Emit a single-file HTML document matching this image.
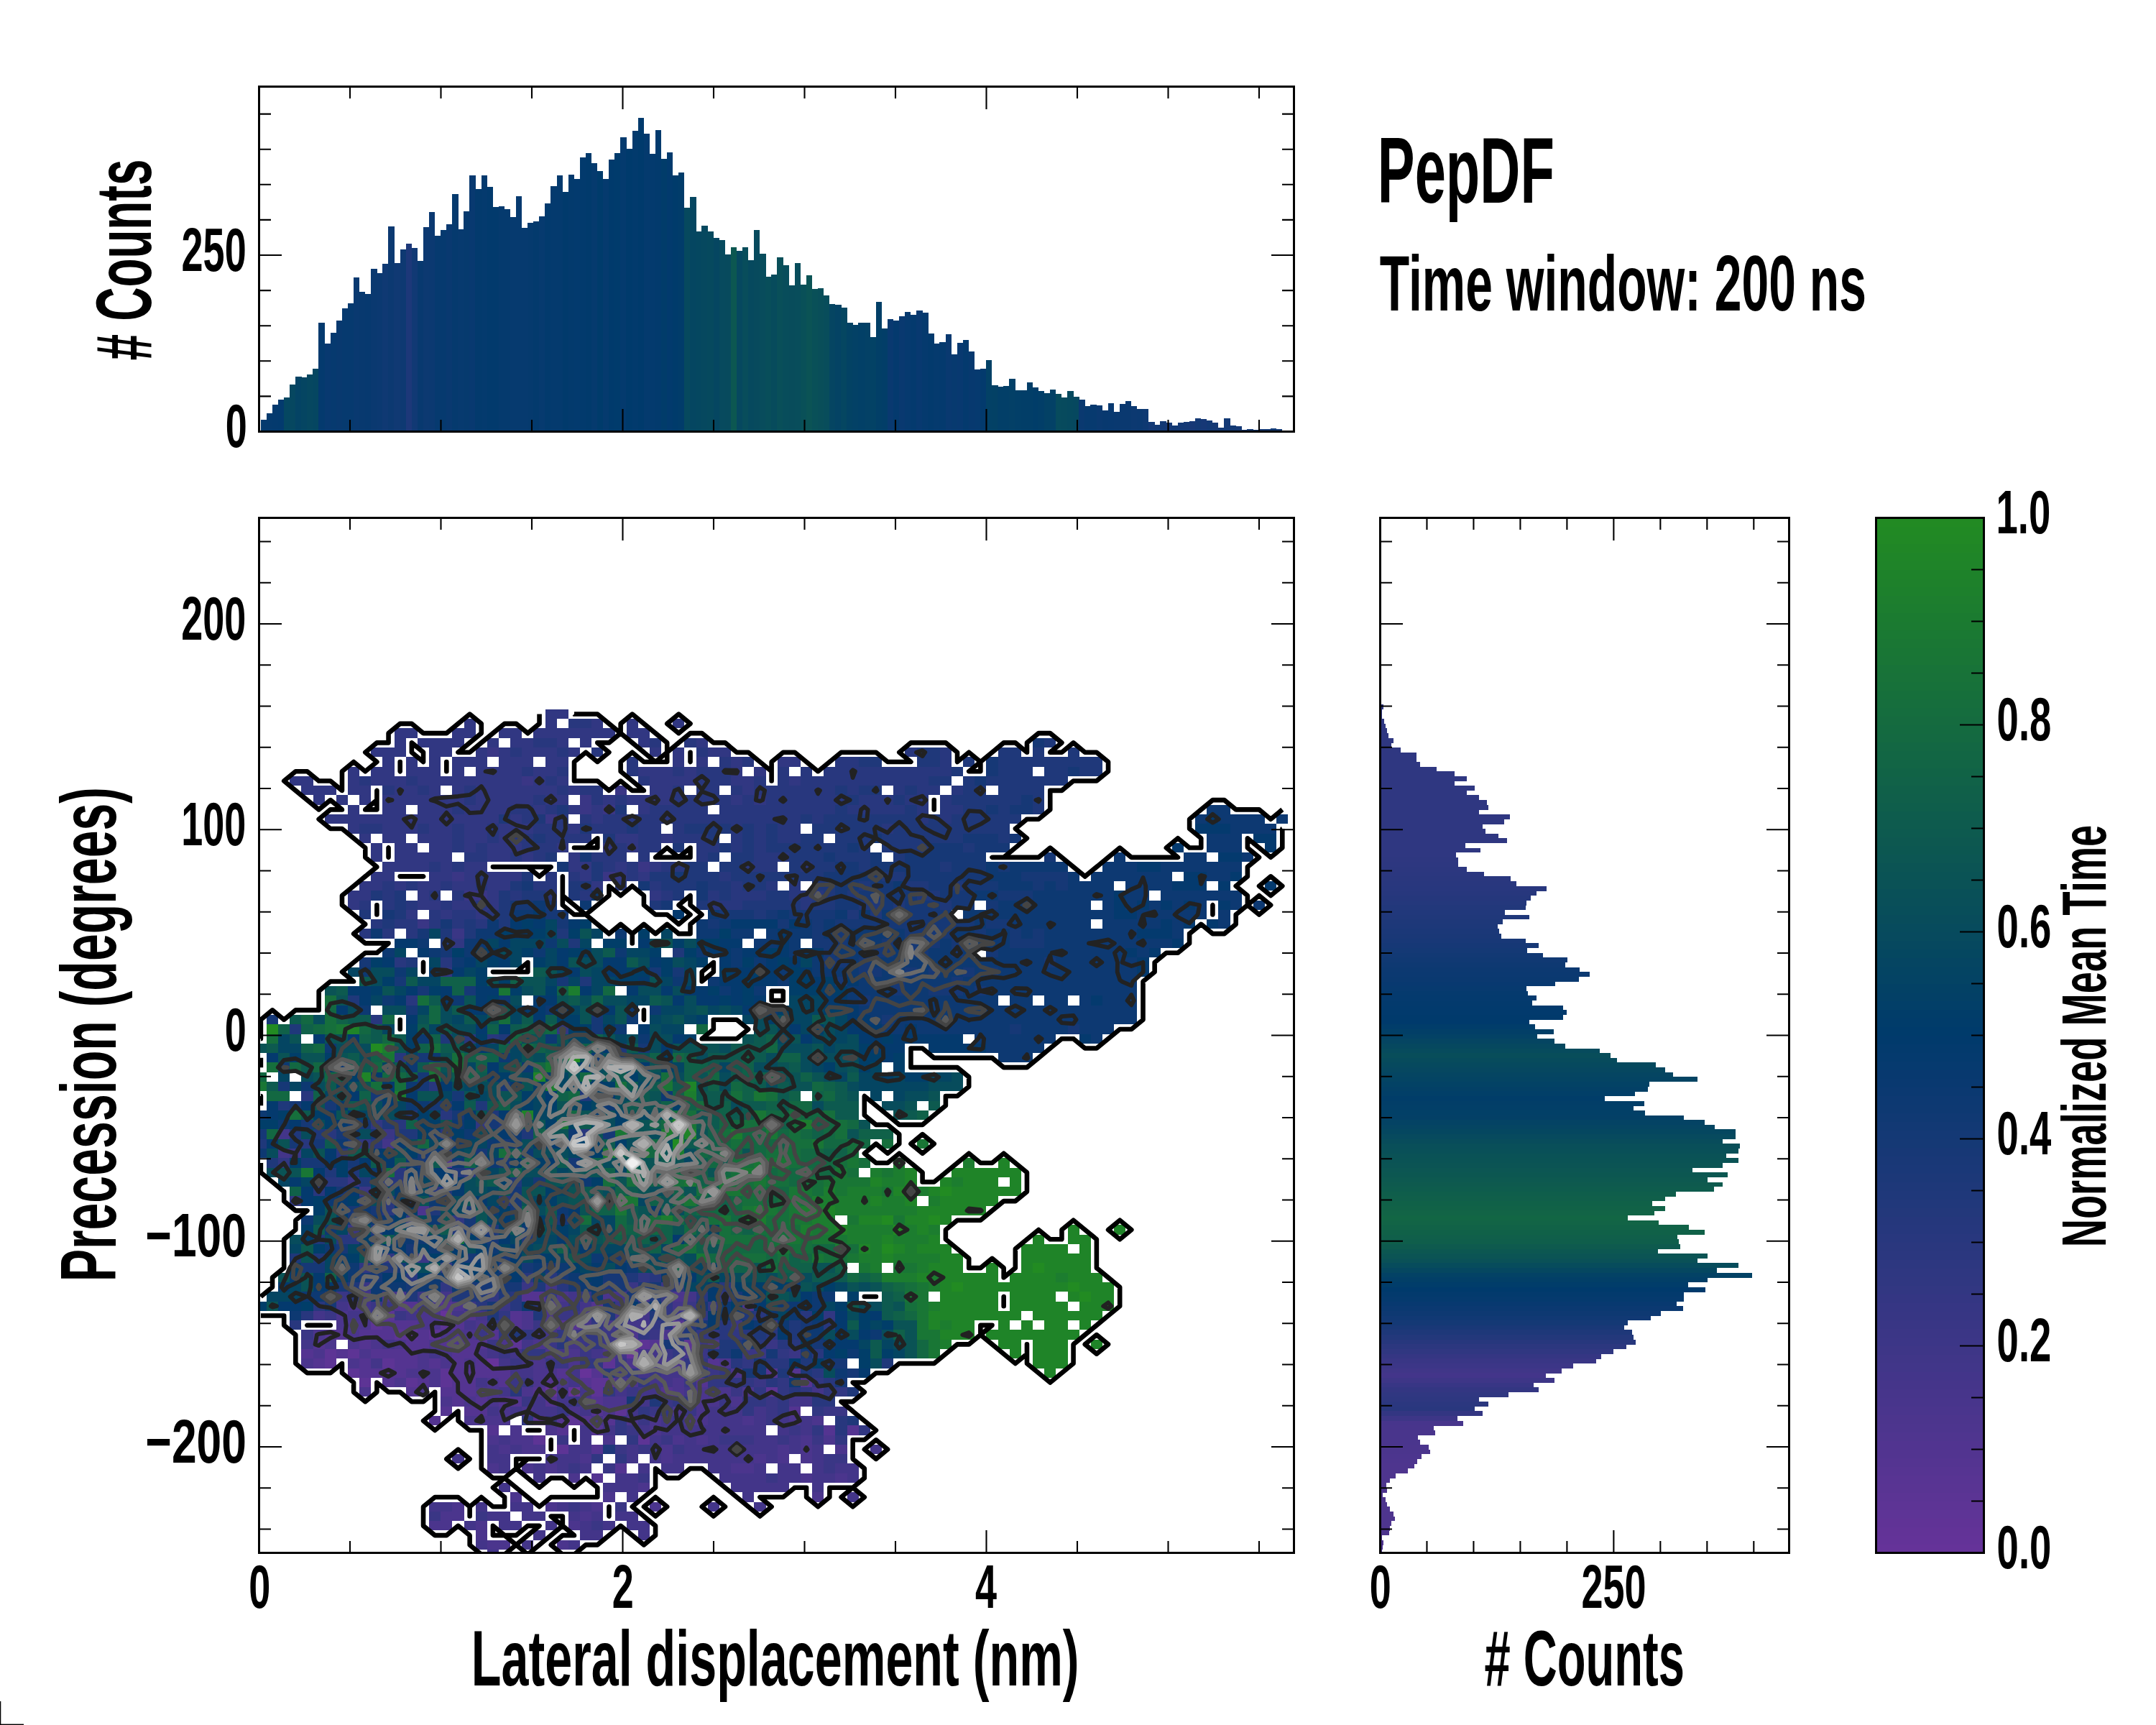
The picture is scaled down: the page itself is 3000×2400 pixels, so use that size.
<!DOCTYPE html><html><head><meta charset="utf-8"><title>PepDF</title><style>html,body{margin:0;padding:0;background:#fff;overflow:hidden}svg{display:block}</style></head><body>
<svg width="3000" height="2400" viewBox="0 0 3000 2400">
<rect width="3000" height="2400" fill="#fff"/>
<g shape-rendering="crispEdges">
<rect x="362.7" y="584.4" width="8.37" height="16.1" fill="#053a6e"/>
<rect x="370.77" y="575.06" width="8.37" height="25.44" fill="#053a6e"/>
<rect x="378.85" y="563.37" width="8.37" height="37.13" fill="#043a6e"/>
<rect x="386.93" y="556.36" width="8.37" height="44.14" fill="#033a6e"/>
<rect x="395" y="553.12" width="8.37" height="47.38" fill="#054761"/>
<rect x="403.07" y="535.15" width="8.37" height="65.35" fill="#064760"/>
<rect x="411.15" y="524.36" width="8.37" height="76.14" fill="#044364"/>
<rect x="419.22" y="525.08" width="8.37" height="75.42" fill="#054562"/>
<rect x="427.3" y="521.48" width="8.37" height="79.02" fill="#064760"/>
<rect x="435.38" y="513.39" width="8.37" height="87.11" fill="#054661"/>
<rect x="443.45" y="449.21" width="8.37" height="151.29" fill="#043a6e"/>
<rect x="451.52" y="478.34" width="8.37" height="122.16" fill="#083970"/>
<rect x="459.6" y="463.24" width="8.37" height="137.26" fill="#063a6f"/>
<rect x="467.67" y="446.16" width="8.37" height="154.34" fill="#08396f"/>
<rect x="475.75" y="429.08" width="8.37" height="171.42" fill="#063a6f"/>
<rect x="483.82" y="422.25" width="8.37" height="178.25" fill="#063a6f"/>
<rect x="491.9" y="386.29" width="8.37" height="214.21" fill="#093970"/>
<rect x="499.97" y="406.43" width="8.37" height="194.07" fill="#08396f"/>
<rect x="508.05" y="408.94" width="8.38" height="191.56" fill="#07396f"/>
<rect x="516.12" y="374.07" width="8.38" height="226.43" fill="#0a3970"/>
<rect x="524.2" y="380.36" width="8.38" height="220.14" fill="#0b3971"/>
<rect x="532.27" y="367.42" width="8.38" height="233.08" fill="#0f3973"/>
<rect x="540.35" y="315.46" width="8.38" height="285.04" fill="#0c3971"/>
<rect x="548.42" y="366.16" width="8.38" height="234.34" fill="#103973"/>
<rect x="556.5" y="347.28" width="8.38" height="253.22" fill="#0e3972"/>
<rect x="564.57" y="339.19" width="8.38" height="261.31" fill="#1d3879"/>
<rect x="572.65" y="345.3" width="8.38" height="255.2" fill="#113974"/>
<rect x="580.72" y="363.28" width="8.38" height="237.22" fill="#08396f"/>
<rect x="588.8" y="316.18" width="8.38" height="284.32" fill="#0c3971"/>
<rect x="596.88" y="294.97" width="8.38" height="305.53" fill="#0b3971"/>
<rect x="604.95" y="328.04" width="8.38" height="272.46" fill="#063a6f"/>
<rect x="613.02" y="319.96" width="8.38" height="280.54" fill="#063a6f"/>
<rect x="621.1" y="312.04" width="8.38" height="288.46" fill="#093970"/>
<rect x="629.17" y="269.98" width="8.38" height="330.52" fill="#053a6e"/>
<rect x="637.25" y="319.06" width="8.38" height="281.44" fill="#073a6f"/>
<rect x="645.33" y="293.89" width="8.38" height="306.61" fill="#063a6e"/>
<rect x="653.4" y="243.91" width="8.38" height="356.59" fill="#083970"/>
<rect x="661.47" y="263.15" width="8.38" height="337.35" fill="#033a6d"/>
<rect x="669.55" y="243.91" width="8.38" height="356.59" fill="#043a6e"/>
<rect x="677.62" y="260.09" width="8.38" height="340.41" fill="#023a6d"/>
<rect x="685.7" y="288.13" width="8.38" height="312.37" fill="#023a6d"/>
<rect x="693.77" y="287.06" width="8.38" height="313.44" fill="#053a6e"/>
<rect x="701.85" y="291.01" width="8.38" height="309.49" fill="#053a6e"/>
<rect x="709.92" y="301.98" width="8.38" height="298.52" fill="#063a6f"/>
<rect x="718" y="273.03" width="8.38" height="327.47" fill="#063a6f"/>
<rect x="726.07" y="317.08" width="8.38" height="283.42" fill="#063a6f"/>
<rect x="734.15" y="310.07" width="8.38" height="290.43" fill="#053a6e"/>
<rect x="742.22" y="308.09" width="8.38" height="292.41" fill="#033a6d"/>
<rect x="750.3" y="301.08" width="8.38" height="299.42" fill="#063a6f"/>
<rect x="758.38" y="283.1" width="8.38" height="317.4" fill="#023a6d"/>
<rect x="766.45" y="259.01" width="8.38" height="341.49" fill="#043a6e"/>
<rect x="774.52" y="243.91" width="8.38" height="356.59" fill="#043a6e"/>
<rect x="782.6" y="266.92" width="8.38" height="333.58" fill="#013a6c"/>
<rect x="790.67" y="243.01" width="8.38" height="357.49" fill="#033a6d"/>
<rect x="798.75" y="248.76" width="8.38" height="351.74" fill="#033a6e"/>
<rect x="806.82" y="218.92" width="8.38" height="381.58" fill="#023a6d"/>
<rect x="814.9" y="212.99" width="8.38" height="387.51" fill="#013a6c"/>
<rect x="822.97" y="227.01" width="8.38" height="373.49" fill="#053a6e"/>
<rect x="831.05" y="238.16" width="8.38" height="362.34" fill="#003b6b"/>
<rect x="839.12" y="248.94" width="8.38" height="351.56" fill="#053a6e"/>
<rect x="847.2" y="222.16" width="8.38" height="378.34" fill="#003a6c"/>
<rect x="855.27" y="213.17" width="8.38" height="387.33" fill="#003b6c"/>
<rect x="863.35" y="191.24" width="8.38" height="409.26" fill="#043a6e"/>
<rect x="871.42" y="207.06" width="8.38" height="393.44" fill="#003a6c"/>
<rect x="879.5" y="182.25" width="8.38" height="418.25" fill="#023a6d"/>
<rect x="887.58" y="163.91" width="8.38" height="436.59" fill="#003a6c"/>
<rect x="895.65" y="186.2" width="8.38" height="414.3" fill="#043a6e"/>
<rect x="903.72" y="213.89" width="8.38" height="386.61" fill="#033a6e"/>
<rect x="911.8" y="181.17" width="8.38" height="419.33" fill="#023a6d"/>
<rect x="919.88" y="221.08" width="8.38" height="379.42" fill="#013c6a"/>
<rect x="927.95" y="212.09" width="8.38" height="388.41" fill="#023a6d"/>
<rect x="936.02" y="243.91" width="8.38" height="356.59" fill="#003b6b"/>
<rect x="944.1" y="240.13" width="8.38" height="360.37" fill="#013c6a"/>
<rect x="952.17" y="289.03" width="8.38" height="311.47" fill="#06495e"/>
<rect x="960.25" y="274.11" width="8.38" height="326.39" fill="#054661"/>
<rect x="968.33" y="322.11" width="8.38" height="278.39" fill="#054760"/>
<rect x="976.4" y="314.02" width="8.38" height="286.48" fill="#06485f"/>
<rect x="984.47" y="322.11" width="8.38" height="278.39" fill="#06495e"/>
<rect x="992.55" y="331.1" width="8.38" height="269.4" fill="#054661"/>
<rect x="1000.62" y="334.16" width="8.38" height="266.34" fill="#074a5e"/>
<rect x="1008.7" y="354.11" width="8.38" height="246.39" fill="#074a5d"/>
<rect x="1016.77" y="344.22" width="8.38" height="256.28" fill="#0c5751"/>
<rect x="1024.85" y="349.08" width="8.38" height="251.42" fill="#06485f"/>
<rect x="1032.92" y="344.22" width="8.38" height="256.28" fill="#084d5b"/>
<rect x="1041" y="362.2" width="8.38" height="238.3" fill="#06495e"/>
<rect x="1049.07" y="320.13" width="8.38" height="280.37" fill="#074a5d"/>
<rect x="1057.15" y="353.21" width="8.38" height="247.29" fill="#084c5c"/>
<rect x="1065.22" y="385.21" width="8.38" height="215.29" fill="#084e5a"/>
<rect x="1073.3" y="382.16" width="8.38" height="218.34" fill="#074b5c"/>
<rect x="1081.38" y="358.07" width="8.38" height="242.43" fill="#094f59"/>
<rect x="1089.45" y="369.03" width="8.38" height="231.47" fill="#084d5b"/>
<rect x="1097.52" y="397.08" width="8.38" height="203.42" fill="#084c5b"/>
<rect x="1105.6" y="366.16" width="8.38" height="234.34" fill="#084d5b"/>
<rect x="1113.67" y="396.18" width="8.38" height="204.32" fill="#095058"/>
<rect x="1121.75" y="383.24" width="8.38" height="217.26" fill="#0b5355"/>
<rect x="1129.82" y="402.11" width="8.38" height="198.39" fill="#095058"/>
<rect x="1137.9" y="401.21" width="8.38" height="199.29" fill="#094e59"/>
<rect x="1145.97" y="411.28" width="8.38" height="189.22" fill="#084d5b"/>
<rect x="1154.05" y="423.15" width="8.38" height="177.35" fill="#054562"/>
<rect x="1162.12" y="424.04" width="8.38" height="176.46" fill="#044364"/>
<rect x="1170.2" y="428.18" width="8.38" height="172.32" fill="#054661"/>
<rect x="1178.27" y="449.03" width="8.38" height="151.47" fill="#034264"/>
<rect x="1186.35" y="452.09" width="8.38" height="148.41" fill="#034166"/>
<rect x="1194.42" y="449.03" width="8.38" height="151.47" fill="#024067"/>
<rect x="1202.5" y="449.03" width="8.38" height="151.47" fill="#034166"/>
<rect x="1210.57" y="468.99" width="8.38" height="131.51" fill="#034265"/>
<rect x="1218.65" y="420.09" width="8.38" height="180.41" fill="#023f67"/>
<rect x="1226.72" y="457.12" width="8.38" height="143.38" fill="#023e68"/>
<rect x="1234.8" y="444" width="8.38" height="156.5" fill="#093970"/>
<rect x="1242.88" y="445.98" width="8.38" height="154.52" fill="#043a6e"/>
<rect x="1250.95" y="440.04" width="8.38" height="160.46" fill="#093970"/>
<rect x="1259.02" y="434.11" width="8.38" height="166.39" fill="#063a6f"/>
<rect x="1267.1" y="438.07" width="8.38" height="162.43" fill="#043a6e"/>
<rect x="1275.17" y="432.13" width="8.38" height="168.37" fill="#083970"/>
<rect x="1283.25" y="435.01" width="8.38" height="165.49" fill="#053a6e"/>
<rect x="1291.32" y="463.96" width="8.38" height="136.54" fill="#033a6d"/>
<rect x="1299.4" y="478.16" width="8.38" height="122.34" fill="#053a6e"/>
<rect x="1307.47" y="476.18" width="8.38" height="124.32" fill="#043a6e"/>
<rect x="1315.55" y="465.03" width="8.38" height="135.47" fill="#093970"/>
<rect x="1323.62" y="493.26" width="8.38" height="107.24" fill="#073a6f"/>
<rect x="1331.7" y="477.08" width="8.38" height="123.42" fill="#083970"/>
<rect x="1339.77" y="473.12" width="8.38" height="127.38" fill="#043a6e"/>
<rect x="1347.85" y="489.12" width="8.38" height="111.38" fill="#07396f"/>
<rect x="1355.92" y="514.11" width="8.38" height="86.39" fill="#063a6f"/>
<rect x="1364" y="513.21" width="8.38" height="87.29" fill="#033a6d"/>
<rect x="1372.07" y="501.17" width="8.38" height="99.33" fill="#034166"/>
<rect x="1380.15" y="536.22" width="8.38" height="64.28" fill="#034165"/>
<rect x="1388.22" y="538.2" width="8.38" height="62.3" fill="#023f68"/>
<rect x="1396.3" y="537.12" width="8.38" height="63.38" fill="#023f68"/>
<rect x="1404.38" y="527.24" width="8.38" height="73.26" fill="#034067"/>
<rect x="1412.45" y="543.24" width="8.38" height="57.26" fill="#023f68"/>
<rect x="1420.52" y="543.24" width="8.38" height="57.26" fill="#023e68"/>
<rect x="1428.6" y="532.27" width="8.38" height="68.23" fill="#023e68"/>
<rect x="1436.67" y="539.1" width="8.38" height="61.4" fill="#013d69"/>
<rect x="1444.75" y="544.13" width="8.38" height="56.37" fill="#023e68"/>
<rect x="1452.83" y="547.19" width="8.38" height="53.31" fill="#034165"/>
<rect x="1460.9" y="542.16" width="8.38" height="58.34" fill="#034166"/>
<rect x="1468.97" y="548.27" width="8.38" height="52.23" fill="#074b5d"/>
<rect x="1477.05" y="553.3" width="8.38" height="47.2" fill="#074a5d"/>
<rect x="1485.12" y="544.13" width="8.38" height="56.37" fill="#06495e"/>
<rect x="1493.2" y="552.22" width="8.38" height="48.28" fill="#06485f"/>
<rect x="1501.27" y="556.18" width="8.38" height="44.32" fill="#0a3970"/>
<rect x="1509.35" y="565.17" width="8.38" height="35.33" fill="#073a6f"/>
<rect x="1517.42" y="563.19" width="8.38" height="37.31" fill="#073a6f"/>
<rect x="1525.5" y="564.27" width="8.38" height="36.23" fill="#0a3970"/>
<rect x="1533.58" y="571.17" width="8.38" height="29.33" fill="#08396f"/>
<rect x="1541.65" y="561.17" width="8.38" height="39.33" fill="#083970"/>
<rect x="1549.72" y="573.12" width="8.38" height="27.38" fill="#093970"/>
<rect x="1557.8" y="562.21" width="8.38" height="38.29" fill="#0a3970"/>
<rect x="1565.88" y="558.18" width="8.38" height="42.32" fill="#0a3970"/>
<rect x="1573.95" y="565.06" width="8.38" height="35.44" fill="#0c3971"/>
<rect x="1582.02" y="568.96" width="8.38" height="31.54" fill="#0b3971"/>
<rect x="1590.1" y="568.96" width="8.38" height="31.54" fill="#0e3972"/>
<rect x="1598.17" y="587.01" width="8.38" height="13.49" fill="#143975"/>
<rect x="1606.25" y="591.04" width="8.38" height="9.46" fill="#133974"/>
<rect x="1614.33" y="586.1" width="8.38" height="14.4" fill="#133974"/>
<rect x="1622.4" y="588.05" width="8.38" height="12.45" fill="#163976"/>
<rect x="1630.47" y="592.08" width="8.38" height="8.42" fill="#123974"/>
<rect x="1638.55" y="588.05" width="8.38" height="12.45" fill="#133975"/>
<rect x="1646.62" y="587.01" width="8.38" height="13.49" fill="#143975"/>
<rect x="1654.7" y="586.1" width="8.38" height="14.4" fill="#173876"/>
<rect x="1662.77" y="582.08" width="8.38" height="18.42" fill="#143975"/>
<rect x="1670.85" y="582.99" width="8.38" height="17.51" fill="#163876"/>
<rect x="1678.92" y="585.06" width="8.38" height="15.44" fill="#133975"/>
<rect x="1687" y="588.05" width="8.38" height="12.45" fill="#153975"/>
<rect x="1695.07" y="595.06" width="8.38" height="5.44" fill="#123974"/>
<rect x="1703.15" y="582.08" width="8.38" height="18.42" fill="#133975"/>
<rect x="1711.22" y="592.08" width="8.38" height="8.42" fill="#133974"/>
<rect x="1719.3" y="593.12" width="8.38" height="7.38" fill="#153975"/>
<rect x="1727.38" y="598.05" width="8.38" height="2.45" fill="#143975"/>
<rect x="1735.45" y="597.01" width="8.38" height="3.49" fill="#133974"/>
<rect x="1743.52" y="598.05" width="8.38" height="2.45" fill="#123974"/>
<rect x="1751.6" y="597.01" width="8.38" height="3.49" fill="#153975"/>
<rect x="1759.67" y="597.01" width="8.38" height="3.49" fill="#123974"/>
<rect x="1767.75" y="596.1" width="8.38" height="4.4" fill="#123974"/>
<rect x="1775.82" y="597.01" width="8.38" height="3.49" fill="#133974"/>
</g>
<g shape-rendering="crispEdges">
<rect x="1920.5" y="980.21" width="4.3" height="6.94" fill="#2f3781"/>
<rect x="1920.5" y="986.86" width="2.3" height="6.94" fill="#2f3781"/>
<rect x="1920.5" y="993.5" width="2.3" height="6.94" fill="#2f3781"/>
<rect x="1920.5" y="1000.14" width="5.2" height="6.94" fill="#2f3781"/>
<rect x="1920.5" y="1006.78" width="7.3" height="6.94" fill="#2f3781"/>
<rect x="1920.5" y="1013.43" width="9.3" height="6.94" fill="#2f3781"/>
<rect x="1920.5" y="1020.07" width="11.3" height="6.94" fill="#2f3781"/>
<rect x="1920.5" y="1026.71" width="18.4" height="6.94" fill="#2f3781"/>
<rect x="1920.5" y="1033.36" width="15.5" height="6.94" fill="#2f3781"/>
<rect x="1920.5" y="1040" width="28.5" height="6.94" fill="#2f3781"/>
<rect x="1920.5" y="1046.64" width="50.3" height="6.94" fill="#2f3781"/>
<rect x="1920.5" y="1053.29" width="50.3" height="6.94" fill="#2f3781"/>
<rect x="1920.5" y="1059.93" width="55.3" height="6.94" fill="#2f3781"/>
<rect x="1920.5" y="1066.57" width="78.3" height="6.94" fill="#2f3781"/>
<rect x="1920.5" y="1073.21" width="103.3" height="6.94" fill="#2f3781"/>
<rect x="1920.5" y="1079.86" width="120.3" height="6.94" fill="#2f3781"/>
<rect x="1920.5" y="1086.5" width="103.3" height="6.94" fill="#2f3781"/>
<rect x="1920.5" y="1093.14" width="131.4" height="6.94" fill="#2f3781"/>
<rect x="1920.5" y="1099.79" width="120.3" height="6.94" fill="#2f3781"/>
<rect x="1920.5" y="1106.43" width="137.4" height="6.94" fill="#2f3781"/>
<rect x="1920.5" y="1113.07" width="148.3" height="6.94" fill="#2f3781"/>
<rect x="1920.5" y="1119.72" width="150.5" height="6.94" fill="#2f3781"/>
<rect x="1920.5" y="1126.36" width="137.4" height="6.94" fill="#2f3781"/>
<rect x="1920.5" y="1133" width="180.4" height="6.94" fill="#2f3781"/>
<rect x="1920.5" y="1139.64" width="172.2" height="6.94" fill="#2f3781"/>
<rect x="1920.5" y="1146.29" width="142.5" height="6.94" fill="#2f3781"/>
<rect x="1920.5" y="1152.93" width="146.3" height="6.94" fill="#2f3781"/>
<rect x="1920.5" y="1159.57" width="164.3" height="6.94" fill="#2f3781"/>
<rect x="1920.5" y="1166.22" width="176.4" height="6.94" fill="#2f3781"/>
<rect x="1920.5" y="1172.86" width="118.5" height="6.94" fill="#2f3781"/>
<rect x="1920.5" y="1179.5" width="139.4" height="6.94" fill="#2f3781"/>
<rect x="1920.5" y="1186.15" width="105.4" height="6.94" fill="#2f3781"/>
<rect x="1920.5" y="1192.79" width="108.5" height="6.94" fill="#2e3780"/>
<rect x="1920.5" y="1199.43" width="108.5" height="6.94" fill="#2d3780"/>
<rect x="1920.5" y="1206.08" width="120.4" height="6.94" fill="#2c377f"/>
<rect x="1920.5" y="1212.72" width="144.5" height="6.94" fill="#2b377f"/>
<rect x="1920.5" y="1219.36" width="181.2" height="6.94" fill="#2a377e"/>
<rect x="1920.5" y="1226" width="189.2" height="6.94" fill="#29377e"/>
<rect x="1920.5" y="1232.65" width="231.3" height="6.94" fill="#28377e"/>
<rect x="1920.5" y="1239.29" width="217.3" height="6.94" fill="#27377d"/>
<rect x="1920.5" y="1245.93" width="209.2" height="6.94" fill="#25377c"/>
<rect x="1920.5" y="1252.58" width="203.3" height="6.94" fill="#24387c"/>
<rect x="1920.5" y="1259.22" width="202.5" height="6.94" fill="#22387b"/>
<rect x="1920.5" y="1265.86" width="173.4" height="6.94" fill="#21387b"/>
<rect x="1920.5" y="1272.51" width="207.2" height="6.94" fill="#20387a"/>
<rect x="1920.5" y="1279.15" width="170" height="6.94" fill="#1e3879"/>
<rect x="1920.5" y="1285.79" width="163.5" height="6.94" fill="#1d3879"/>
<rect x="1920.5" y="1292.43" width="165.1" height="6.94" fill="#1b3878"/>
<rect x="1920.5" y="1299.08" width="168.2" height="6.94" fill="#1a3877"/>
<rect x="1920.5" y="1305.72" width="202.5" height="6.94" fill="#183877"/>
<rect x="1920.5" y="1312.36" width="220.1" height="6.94" fill="#163876"/>
<rect x="1920.5" y="1319.01" width="204.3" height="6.94" fill="#143975"/>
<rect x="1920.5" y="1325.65" width="226.1" height="6.94" fill="#123974"/>
<rect x="1920.5" y="1332.29" width="260.4" height="6.94" fill="#103973"/>
<rect x="1920.5" y="1338.93" width="257.5" height="6.94" fill="#0e3972"/>
<rect x="1920.5" y="1345.58" width="277.3" height="6.94" fill="#0c3971"/>
<rect x="1920.5" y="1352.22" width="291.3" height="6.94" fill="#0b3971"/>
<rect x="1920.5" y="1358.86" width="276.3" height="6.94" fill="#0a3970"/>
<rect x="1920.5" y="1365.51" width="243.3" height="6.94" fill="#083970"/>
<rect x="1920.5" y="1372.15" width="203.3" height="6.94" fill="#073a6f"/>
<rect x="1920.5" y="1378.79" width="205.1" height="6.94" fill="#053a6e"/>
<rect x="1920.5" y="1385.44" width="217.3" height="6.94" fill="#043a6e"/>
<rect x="1920.5" y="1392.08" width="211.1" height="6.94" fill="#033a6d"/>
<rect x="1920.5" y="1398.72" width="254.4" height="6.94" fill="#023a6d"/>
<rect x="1920.5" y="1405.37" width="259.4" height="6.94" fill="#023a6d"/>
<rect x="1920.5" y="1412.01" width="254.4" height="6.94" fill="#013a6c"/>
<rect x="1920.5" y="1418.65" width="207.2" height="6.94" fill="#003a6c"/>
<rect x="1920.5" y="1425.29" width="215.2" height="6.94" fill="#013d6a"/>
<rect x="1920.5" y="1431.94" width="241.2" height="6.94" fill="#023f67"/>
<rect x="1920.5" y="1438.58" width="218.1" height="6.94" fill="#034265"/>
<rect x="1920.5" y="1445.22" width="242.2" height="6.94" fill="#054562"/>
<rect x="1920.5" y="1451.87" width="257.3" height="6.94" fill="#06485f"/>
<rect x="1920.5" y="1458.51" width="305.3" height="6.94" fill="#074b5d"/>
<rect x="1920.5" y="1465.15" width="320.4" height="6.94" fill="#084d5a"/>
<rect x="1920.5" y="1471.8" width="329.2" height="6.94" fill="#074b5c"/>
<rect x="1920.5" y="1478.44" width="383.3" height="6.94" fill="#06495e"/>
<rect x="1920.5" y="1485.08" width="396.3" height="6.94" fill="#064760"/>
<rect x="1920.5" y="1491.72" width="407.4" height="6.94" fill="#054562"/>
<rect x="1920.5" y="1498.37" width="441.5" height="6.94" fill="#044463"/>
<rect x="1920.5" y="1505.01" width="374.2" height="6.94" fill="#034265"/>
<rect x="1920.5" y="1511.65" width="372.4" height="6.94" fill="#034066"/>
<rect x="1920.5" y="1518.3" width="354.4" height="6.94" fill="#023f68"/>
<rect x="1920.5" y="1524.94" width="312.4" height="6.94" fill="#013d69"/>
<rect x="1920.5" y="1531.58" width="367.4" height="6.94" fill="#023e68"/>
<rect x="1920.5" y="1538.22" width="352.4" height="6.94" fill="#023f68"/>
<rect x="1920.5" y="1544.87" width="368.2" height="6.94" fill="#024067"/>
<rect x="1920.5" y="1551.51" width="422.2" height="6.94" fill="#034066"/>
<rect x="1920.5" y="1558.15" width="451.3" height="6.94" fill="#044364"/>
<rect x="1920.5" y="1564.8" width="465.3" height="6.94" fill="#054562"/>
<rect x="1920.5" y="1571.44" width="494.2" height="6.94" fill="#054760"/>
<rect x="1920.5" y="1578.08" width="494.2" height="6.94" fill="#074a5e"/>
<rect x="1920.5" y="1584.73" width="476.3" height="6.94" fill="#084c5b"/>
<rect x="1920.5" y="1591.37" width="500.1" height="6.94" fill="#094f59"/>
<rect x="1920.5" y="1598.01" width="498.1" height="6.94" fill="#095058"/>
<rect x="1920.5" y="1604.65" width="481.2" height="6.94" fill="#0a5256"/>
<rect x="1920.5" y="1611.3" width="498.1" height="6.94" fill="#0a5355"/>
<rect x="1920.5" y="1617.94" width="476.3" height="6.94" fill="#0b5454"/>
<rect x="1920.5" y="1624.58" width="434.2" height="6.94" fill="#0c5653"/>
<rect x="1920.5" y="1631.23" width="483" height="6.94" fill="#0c5751"/>
<rect x="1920.5" y="1637.87" width="455.2" height="6.94" fill="#0d5950"/>
<rect x="1920.5" y="1644.51" width="476.3" height="6.94" fill="#0e5a4e"/>
<rect x="1920.5" y="1651.16" width="464.3" height="6.94" fill="#0e5c4d"/>
<rect x="1920.5" y="1657.8" width="411.3" height="6.94" fill="#0f5e4b"/>
<rect x="1920.5" y="1664.44" width="396.3" height="6.94" fill="#105f4a"/>
<rect x="1920.5" y="1671.09" width="378.3" height="6.94" fill="#106148"/>
<rect x="1920.5" y="1677.73" width="396.3" height="6.94" fill="#116247"/>
<rect x="1920.5" y="1684.37" width="381.2" height="6.94" fill="#126446"/>
<rect x="1920.5" y="1691.01" width="344.3" height="6.94" fill="#126644"/>
<rect x="1920.5" y="1697.66" width="387.2" height="6.94" fill="#126446"/>
<rect x="1920.5" y="1704.3" width="429.2" height="6.94" fill="#116247"/>
<rect x="1920.5" y="1710.94" width="451.3" height="6.94" fill="#106148"/>
<rect x="1920.5" y="1717.59" width="413.4" height="6.94" fill="#105f4a"/>
<rect x="1920.5" y="1724.23" width="415.2" height="6.94" fill="#0f5e4b"/>
<rect x="1920.5" y="1730.87" width="417.3" height="6.94" fill="#0e5a4e"/>
<rect x="1920.5" y="1737.51" width="386.4" height="6.94" fill="#0c5751"/>
<rect x="1920.5" y="1744.16" width="455.2" height="6.94" fill="#0b5454"/>
<rect x="1920.5" y="1750.8" width="441.5" height="6.94" fill="#0a5157"/>
<rect x="1920.5" y="1757.44" width="498.1" height="6.94" fill="#074c5c"/>
<rect x="1920.5" y="1764.09" width="468.2" height="6.94" fill="#054760"/>
<rect x="1920.5" y="1770.73" width="517" height="6.94" fill="#034265"/>
<rect x="1920.5" y="1777.37" width="455.2" height="6.94" fill="#023f67"/>
<rect x="1920.5" y="1784.02" width="428.2" height="6.94" fill="#013d6a"/>
<rect x="1920.5" y="1790.66" width="452.1" height="6.94" fill="#003a6c"/>
<rect x="1920.5" y="1797.3" width="422.2" height="6.94" fill="#033a6d"/>
<rect x="1920.5" y="1803.94" width="422.2" height="6.94" fill="#053a6e"/>
<rect x="1920.5" y="1810.59" width="412.4" height="6.94" fill="#083970"/>
<rect x="1920.5" y="1817.23" width="421.2" height="6.94" fill="#0b3971"/>
<rect x="1920.5" y="1823.87" width="390.3" height="6.94" fill="#0e3972"/>
<rect x="1920.5" y="1830.52" width="376.3" height="6.94" fill="#113974"/>
<rect x="1920.5" y="1837.16" width="344.3" height="6.94" fill="#143975"/>
<rect x="1920.5" y="1843.8" width="339.4" height="6.94" fill="#193877"/>
<rect x="1920.5" y="1850.45" width="350.3" height="6.94" fill="#1e3879"/>
<rect x="1920.5" y="1857.09" width="352.4" height="6.94" fill="#23387b"/>
<rect x="1920.5" y="1863.73" width="355.2" height="6.94" fill="#27377d"/>
<rect x="1920.5" y="1870.38" width="342.2" height="6.94" fill="#2c377f"/>
<rect x="1920.5" y="1877.02" width="324.3" height="6.94" fill="#303781"/>
<rect x="1920.5" y="1883.66" width="307.4" height="6.94" fill="#353683"/>
<rect x="1920.5" y="1890.3" width="300.4" height="6.94" fill="#393685"/>
<rect x="1920.5" y="1896.95" width="268.5" height="6.94" fill="#3c3687"/>
<rect x="1920.5" y="1903.59" width="252.4" height="6.94" fill="#403688"/>
<rect x="1920.5" y="1910.23" width="230.3" height="6.94" fill="#43358a"/>
<rect x="1920.5" y="1916.88" width="242.2" height="6.94" fill="#3e3687"/>
<rect x="1920.5" y="1923.52" width="213.4" height="6.94" fill="#383685"/>
<rect x="1920.5" y="1930.16" width="220.1" height="6.94" fill="#333682"/>
<rect x="1920.5" y="1936.8" width="178.3" height="6.94" fill="#303781"/>
<rect x="1920.5" y="1943.45" width="137" height="6.94" fill="#2e3780"/>
<rect x="1920.5" y="1950.09" width="150" height="6.94" fill="#2b377f"/>
<rect x="1920.5" y="1956.73" width="131.1" height="6.94" fill="#29377e"/>
<rect x="1920.5" y="1963.38" width="142.2" height="6.94" fill="#333682"/>
<rect x="1920.5" y="1970.02" width="107.2" height="6.94" fill="#3d3687"/>
<rect x="1920.5" y="1976.66" width="115.5" height="6.94" fill="#47358c"/>
<rect x="1920.5" y="1983.31" width="74.4" height="6.94" fill="#48358c"/>
<rect x="1920.5" y="1989.95" width="76" height="6.94" fill="#49358c"/>
<rect x="1920.5" y="1996.59" width="52.4" height="6.94" fill="#49358c"/>
<rect x="1920.5" y="2003.24" width="55" height="6.94" fill="#4a358d"/>
<rect x="1920.5" y="2009.88" width="67.2" height="6.94" fill="#4b358d"/>
<rect x="1920.5" y="2016.52" width="69.2" height="6.94" fill="#4b358d"/>
<rect x="1920.5" y="2023.16" width="57.3" height="6.94" fill="#4c358e"/>
<rect x="1920.5" y="2029.81" width="51.3" height="6.94" fill="#4d358e"/>
<rect x="1920.5" y="2036.45" width="47.2" height="6.94" fill="#4e358e"/>
<rect x="1920.5" y="2043.09" width="38.3" height="6.94" fill="#4e358e"/>
<rect x="1920.5" y="2049.74" width="21.2" height="6.94" fill="#4e358e"/>
<rect x="1920.5" y="2056.38" width="13.4" height="6.94" fill="#4e358e"/>
<rect x="1920.5" y="2063.02" width="8.2" height="6.94" fill="#4e358e"/>
<rect x="1920.5" y="2069.66" width="9.2" height="6.94" fill="#4e358e"/>
<rect x="1920.5" y="2076.31" width="3" height="6.94" fill="#4e358e"/>
<rect x="1920.5" y="2082.95" width="7.2" height="6.94" fill="#4e358e"/>
<rect x="1920.5" y="2089.59" width="9.2" height="6.94" fill="#4e358e"/>
<rect x="1920.5" y="2096.24" width="13.4" height="6.94" fill="#4e358e"/>
<rect x="1920.5" y="2102.88" width="18.3" height="6.94" fill="#4e358e"/>
<rect x="1920.5" y="2109.52" width="20.4" height="6.94" fill="#4e358e"/>
<rect x="1920.5" y="2116.17" width="15" height="6.94" fill="#4e358e"/>
<rect x="1920.5" y="2122.81" width="13.4" height="6.94" fill="#4e358e"/>
<rect x="1920.5" y="2129.45" width="12.4" height="6.94" fill="#4e358e"/>
<rect x="1920.5" y="2136.1" width="2" height="6.94" fill="#4e358e"/>
<rect x="1920.5" y="2142.74" width="4.3" height="6.94" fill="#4e358e"/>
<rect x="1920.5" y="2149.38" width="3" height="6.94" fill="#4e358e"/>
<rect x="1920.5" y="2156.02" width="2" height="4.78" fill="#4e358e"/>
</g>
<defs><clipPath id="mclip"><rect x="360.5" y="720.5" width="1440" height="1440"/></clipPath></defs>
<g clip-path="url(#mclip)">
<g transform="translate(354.8,986.9) scale(16.153,13.286)" shape-rendering="crispEdges">
<path fill="#663399" d="M16 63h1v1h-1zM32 67h1v1h-1zM20 68h1v1h-1zM28 69h1v1h-1zM25 71h1v1h-1zM27 71h1v1h-1z"/>
<path fill="#5d3495" d="M11 63h1v1h-1zM10 64h1v1h-1zM16 64h1v1h-1zM12 65h2v1h-2zM15 65h1v1h-1zM22 66h1v1h-1zM33 66h1v1h-1zM37 66h1v1h-1zM6 67h1v1h-1zM8 67h1v1h-1zM6 68h1v1h-1zM11 68h1v1h-1zM30 68h1v1h-1zM8 69h1v1h-1zM16 69h1v1h-1zM9 70h1v1h-1zM13 70h1v1h-1zM16 70h1v1h-1zM29 70h2v1h-2zM29 71h1v1h-1zM44 71h1v1h-1zM31 73h1v1h-1zM24 74h1v1h-1zM27 74h1v1h-1zM24 76h1v1h-1zM33 76h1v1h-1zM26 77h1v1h-1z"/>
<path fill="#543491" d="M16 47h1v1h-1zM23 61h2v1h-2zM12 62h2v1h-2zM16 62h1v1h-1zM29 62h1v1h-1zM18 63h1v1h-1zM22 63h1v1h-1zM11 64h3v1h-3zM17 64h1v1h-1zM22 64h1v1h-1zM26 64h2v1h-2zM36 64h1v1h-1zM6 65h2v1h-2zM9 65h3v1h-3zM14 65h1v1h-1zM20 65h1v1h-1zM5 66h1v1h-1zM9 66h1v1h-1zM13 66h2v1h-2zM16 66h1v1h-1zM18 66h2v1h-2zM31 66h1v1h-1zM34 66h1v1h-1zM4 67h1v1h-1zM7 67h1v1h-1zM10 67h4v1h-4zM17 67h2v1h-2zM5 68h1v1h-1zM9 68h1v1h-1zM12 68h2v1h-2zM15 68h1v1h-1zM17 68h1v1h-1zM19 68h1v1h-1zM39 68h1v1h-1zM9 69h4v1h-4zM17 69h5v1h-5zM26 69h1v1h-1zM29 69h1v1h-1zM44 69h1v1h-1zM46 69h1v1h-1zM11 70h1v1h-1zM14 70h1v1h-1zM17 70h2v1h-2zM21 70h1v1h-1zM25 70h1v1h-1zM28 70h1v1h-1zM38 70h1v1h-1zM47 70h1v1h-1zM13 71h1v1h-1zM16 71h3v1h-3zM24 71h1v1h-1zM35 71h1v1h-1zM17 72h1v1h-1zM19 72h1v1h-1zM21 72h2v1h-2zM25 72h1v1h-1zM29 72h1v1h-1zM16 73h1v1h-1zM18 73h2v1h-2zM29 73h1v1h-1zM46 73h1v1h-1zM15 74h1v1h-1zM26 74h1v1h-1zM28 74h1v1h-1zM30 74h1v1h-1zM20 75h1v1h-1zM26 75h1v1h-1zM29 75h1v1h-1zM49 75h1v1h-1zM51 75h1v1h-1zM29 77h1v1h-1zM31 79h1v1h-1zM29 80h1v1h-1z"/>
<path fill="#4b358d" d="M14 52h1v1h-1zM11 61h1v1h-1zM26 61h1v1h-1zM30 61h1v1h-1zM36 61h1v1h-1zM8 62h1v1h-1zM17 62h1v1h-1zM25 62h1v1h-1zM42 62h1v1h-1zM7 63h1v1h-1zM14 63h2v1h-2zM23 63h1v1h-1zM25 63h1v1h-1zM7 64h3v1h-3zM14 64h2v1h-2zM19 64h1v1h-1zM23 64h1v1h-1zM5 65h1v1h-1zM8 65h1v1h-1zM16 65h3v1h-3zM32 65h1v1h-1zM35 65h1v1h-1zM6 66h1v1h-1zM8 66h1v1h-1zM10 66h1v1h-1zM12 66h1v1h-1zM15 66h1v1h-1zM17 66h1v1h-1zM21 66h1v1h-1zM24 66h1v1h-1zM39 66h1v1h-1zM5 67h1v1h-1zM9 67h1v1h-1zM14 67h1v1h-1zM16 67h1v1h-1zM19 67h1v1h-1zM25 67h1v1h-1zM27 67h1v1h-1zM30 67h1v1h-1zM4 68h1v1h-1zM8 68h1v1h-1zM14 68h1v1h-1zM16 68h1v1h-1zM18 68h1v1h-1zM24 68h1v1h-1zM27 68h1v1h-1zM32 68h1v1h-1zM36 68h1v1h-1zM40 68h1v1h-1zM13 69h3v1h-3zM24 69h2v1h-2zM41 69h1v1h-1zM12 70h1v1h-1zM15 70h1v1h-1zM20 70h1v1h-1zM24 70h1v1h-1zM26 70h1v1h-1zM32 70h1v1h-1zM36 70h1v1h-1zM9 71h1v1h-1zM14 71h1v1h-1zM19 71h2v1h-2zM23 71h1v1h-1zM36 71h1v1h-1zM38 71h1v1h-1zM40 71h1v1h-1zM42 71h1v1h-1zM16 72h1v1h-1zM18 72h1v1h-1zM20 72h1v1h-1zM28 72h1v1h-1zM30 72h2v1h-2zM38 72h2v1h-2zM41 72h1v1h-1zM21 73h1v1h-1zM23 73h1v1h-1zM27 73h1v1h-1zM30 73h1v1h-1zM36 73h1v1h-1zM38 73h1v1h-1zM18 74h4v1h-4zM32 74h1v1h-1zM34 74h1v1h-1zM37 74h2v1h-2zM42 74h1v1h-1zM46 74h1v1h-1zM48 74h1v1h-1zM22 75h1v1h-1zM25 75h1v1h-1zM34 75h1v1h-1zM20 76h1v1h-1zM22 76h2v1h-2zM30 76h1v1h-1zM36 76h1v1h-1zM38 76h1v1h-1zM47 76h1v1h-1zM49 76h1v1h-1zM21 77h1v1h-1zM23 77h2v1h-2zM35 77h1v1h-1zM45 77h1v1h-1zM47 77h1v1h-1zM50 77h1v1h-1zM28 78h1v1h-1zM35 78h1v1h-1zM43 78h1v1h-1zM45 78h1v1h-1zM47 78h1v1h-1zM20 79h1v1h-1zM23 79h1v1h-1zM25 79h1v1h-1zM41 79h2v1h-2zM27 80h1v1h-1zM47 80h1v1h-1zM50 80h1v1h-1zM33 81h1v1h-1zM22 82h1v1h-1zM30 82h1v1h-1zM48 82h1v1h-1zM17 83h1v1h-1zM25 83h1v1h-1zM29 83h1v1h-1zM34 83h1v1h-1zM16 84h2v1h-2zM28 84h1v1h-1zM15 85h2v1h-2zM19 85h1v1h-1zM27 85h1v1h-1zM19 86h1v1h-1zM20 87h2v1h-2zM26 87h1v1h-1z"/>
<path fill="#433589" d="M2 44h1v1h-1zM11 45h1v1h-1zM2 46h1v1h-1zM25 60h1v1h-1zM9 61h1v1h-1zM12 61h1v1h-1zM16 61h1v1h-1zM27 61h1v1h-1zM31 61h1v1h-1zM33 61h1v1h-1zM37 61h1v1h-1zM7 62h1v1h-1zM9 62h1v1h-1zM15 62h1v1h-1zM26 62h1v1h-1zM28 62h1v1h-1zM36 62h1v1h-1zM5 63h1v1h-1zM8 63h2v1h-2zM13 63h1v1h-1zM17 63h1v1h-1zM19 63h1v1h-1zM28 63h1v1h-1zM31 63h1v1h-1zM33 63h1v1h-1zM18 64h1v1h-1zM25 64h1v1h-1zM28 64h1v1h-1zM30 64h1v1h-1zM32 64h2v1h-2zM25 65h1v1h-1zM31 65h1v1h-1zM4 66h1v1h-1zM11 66h1v1h-1zM23 66h1v1h-1zM27 66h1v1h-1zM15 67h1v1h-1zM20 67h1v1h-1zM22 67h1v1h-1zM26 67h1v1h-1zM29 67h1v1h-1zM31 67h1v1h-1zM33 67h2v1h-2zM37 67h1v1h-1zM10 68h1v1h-1zM21 68h1v1h-1zM23 68h1v1h-1zM34 68h2v1h-2zM22 69h2v1h-2zM27 69h1v1h-1zM33 69h1v1h-1zM35 69h3v1h-3zM19 70h1v1h-1zM27 70h1v1h-1zM31 70h1v1h-1zM34 70h2v1h-2zM21 71h1v1h-1zM26 71h1v1h-1zM28 71h1v1h-1zM31 71h1v1h-1zM33 71h2v1h-2zM37 71h1v1h-1zM48 71h1v1h-1zM24 72h1v1h-1zM26 72h1v1h-1zM33 72h1v1h-1zM46 72h2v1h-2zM20 73h1v1h-1zM22 73h1v1h-1zM24 73h2v1h-2zM28 73h1v1h-1zM32 73h1v1h-1zM39 73h3v1h-3zM43 73h1v1h-1zM29 74h1v1h-1zM35 74h1v1h-1zM39 74h3v1h-3zM43 74h1v1h-1zM45 74h1v1h-1zM47 74h1v1h-1zM28 75h1v1h-1zM30 75h1v1h-1zM33 75h1v1h-1zM35 75h9v1h-9zM45 75h1v1h-1zM47 75h1v1h-1zM21 76h1v1h-1zM28 76h1v1h-1zM34 76h1v1h-1zM37 76h1v1h-1zM39 76h1v1h-1zM43 76h2v1h-2zM46 76h1v1h-1zM20 77h1v1h-1zM22 77h1v1h-1zM27 77h2v1h-2zM32 77h1v1h-1zM37 77h8v1h-8zM46 77h1v1h-1zM48 77h1v1h-1zM53 77h1v1h-1zM17 78h1v1h-1zM20 78h2v1h-2zM25 78h3v1h-3zM32 78h1v1h-1zM34 78h1v1h-1zM36 78h7v1h-7zM44 78h1v1h-1zM48 78h1v1h-1zM21 79h1v1h-1zM24 79h1v1h-1zM26 79h1v1h-1zM28 79h1v1h-1zM33 79h1v1h-1zM35 79h2v1h-2zM39 79h2v1h-2zM43 79h1v1h-1zM45 79h2v1h-2zM48 79h1v1h-1zM50 79h2v1h-2zM24 80h1v1h-1zM31 80h2v1h-2zM40 80h4v1h-4zM45 80h2v1h-2zM48 80h2v1h-2zM51 80h1v1h-1zM21 81h1v1h-1zM30 81h3v1h-3zM41 81h5v1h-5zM48 81h1v1h-1zM32 82h1v1h-1zM42 82h1v1h-1zM51 82h1v1h-1zM15 83h2v1h-2zM19 83h1v1h-1zM22 83h2v1h-2zM26 83h1v1h-1zM28 83h1v1h-1zM39 83h1v1h-1zM43 83h1v1h-1zM20 84h2v1h-2zM23 84h2v1h-2zM27 84h1v1h-1zM29 84h1v1h-1zM31 84h2v1h-2zM18 85h1v1h-1zM21 85h2v1h-2zM25 85h1v1h-1zM28 85h1v1h-1zM30 85h1v1h-1zM32 85h2v1h-2zM24 86h1v1h-1zM28 86h2v1h-2zM33 86h1v1h-1zM19 87h1v1h-1zM23 87h1v1h-1zM27 87h1v1h-1zM20 88h1v1h-1z"/>
<path fill="#3a3685" d="M20 4h1v1h-1zM23 7h1v1h-1zM31 8h1v1h-1zM28 9h1v1h-1zM28 10h1v1h-1zM30 10h1v1h-1zM25 11h1v1h-1zM33 16h1v1h-1zM17 17h1v1h-1zM30 17h1v1h-1zM18 19h2v1h-2zM14 22h1v1h-1zM17 23h1v1h-1zM11 44h1v1h-1zM3 46h1v1h-1zM8 49h1v1h-1zM9 50h1v1h-1zM8 54h1v1h-1zM14 57h1v1h-1zM9 60h1v1h-1zM23 60h1v1h-1zM32 60h1v1h-1zM35 60h1v1h-1zM7 61h1v1h-1zM14 61h1v1h-1zM10 62h2v1h-2zM14 62h1v1h-1zM18 62h1v1h-1zM21 62h1v1h-1zM31 62h1v1h-1zM37 62h1v1h-1zM6 63h1v1h-1zM10 63h1v1h-1zM12 63h1v1h-1zM26 63h2v1h-2zM36 63h2v1h-2zM21 64h1v1h-1zM24 64h1v1h-1zM41 64h1v1h-1zM44 64h1v1h-1zM4 65h1v1h-1zM19 65h1v1h-1zM24 65h1v1h-1zM27 65h1v1h-1zM30 65h1v1h-1zM34 65h1v1h-1zM20 66h1v1h-1zM25 66h1v1h-1zM28 66h1v1h-1zM30 66h1v1h-1zM38 66h1v1h-1zM44 66h1v1h-1zM21 67h1v1h-1zM28 67h1v1h-1zM35 67h1v1h-1zM38 67h1v1h-1zM42 67h2v1h-2zM46 67h1v1h-1zM22 68h1v1h-1zM25 68h2v1h-2zM31 68h1v1h-1zM31 69h1v1h-1zM34 69h1v1h-1zM39 69h1v1h-1zM22 70h2v1h-2zM37 70h1v1h-1zM43 70h1v1h-1zM32 71h1v1h-1zM39 71h1v1h-1zM41 71h1v1h-1zM23 72h1v1h-1zM27 72h1v1h-1zM35 72h1v1h-1zM40 72h1v1h-1zM44 72h1v1h-1zM26 73h1v1h-1zM34 73h1v1h-1zM37 73h1v1h-1zM44 73h1v1h-1zM49 73h2v1h-2zM25 74h1v1h-1zM33 74h1v1h-1zM36 74h1v1h-1zM44 74h1v1h-1zM32 75h1v1h-1zM46 75h1v1h-1zM26 76h1v1h-1zM35 76h1v1h-1zM40 76h3v1h-3zM45 76h1v1h-1zM48 76h1v1h-1zM31 77h1v1h-1zM33 77h2v1h-2zM36 77h1v1h-1zM49 78h2v1h-2zM27 79h1v1h-1zM30 79h1v1h-1zM49 79h1v1h-1zM33 80h1v1h-1zM44 80h1v1h-1zM27 83h1v1h-1zM31 83h1v1h-1zM15 84h1v1h-1zM19 84h1v1h-1zM29 85h1v1h-1z"/>
<path fill="#313782" d="M25 0h2v1h-2zM18 1h1v1h-1zM25 1h1v1h-1zM29 1h1v1h-1zM32 1h1v1h-1zM36 1h1v1h-1zM12 2h2v1h-2zM17 2h2v1h-2zM21 2h2v1h-2zM24 2h7v1h-7zM32 2h2v1h-2zM12 3h1v1h-1zM14 3h4v1h-4zM20 3h1v1h-1zM22 3h2v1h-2zM26 3h1v1h-1zM28 3h1v1h-1zM33 3h1v1h-1zM38 3h1v1h-1zM10 4h3v1h-3zM15 4h2v1h-2zM19 4h1v1h-1zM21 4h1v1h-1zM23 4h3v1h-3zM27 4h1v1h-1zM34 4h1v1h-1zM36 4h1v1h-1zM39 4h2v1h-2zM11 5h1v1h-1zM13 5h1v1h-1zM15 5h1v1h-1zM17 5h3v1h-3zM21 5h3v1h-3zM25 5h2v1h-2zM36 5h1v1h-1zM38 5h1v1h-1zM41 5h1v1h-1zM45 5h2v1h-2zM8 6h1v1h-1zM10 6h2v1h-2zM13 6h3v1h-3zM17 6h1v1h-1zM19 6h4v1h-4zM24 6h2v1h-2zM33 6h3v1h-3zM37 6h1v1h-1zM41 6h1v1h-1zM43 6h1v1h-1zM3 7h2v1h-2zM8 7h1v1h-1zM10 7h3v1h-3zM14 7h9v1h-9zM24 7h1v1h-1zM26 7h1v1h-1zM34 7h4v1h-4zM41 7h2v1h-2zM46 7h1v1h-1zM4 8h3v1h-3zM8 8h2v1h-2zM12 8h2v1h-2zM15 8h1v1h-1zM17 8h1v1h-1zM19 8h7v1h-7zM27 8h1v1h-1zM34 8h2v1h-2zM42 8h1v1h-1zM5 9h1v1h-1zM7 9h1v1h-1zM9 9h1v1h-1zM11 9h7v1h-7zM19 9h5v1h-5zM25 9h2v1h-2zM30 9h1v1h-1zM32 9h4v1h-4zM41 9h1v1h-1zM43 9h1v1h-1zM8 10h1v1h-1zM11 10h2v1h-2zM14 10h3v1h-3zM18 10h4v1h-4zM24 10h1v1h-1zM27 10h1v1h-1zM29 10h1v1h-1zM33 10h1v1h-1zM6 11h15v1h-15zM22 11h1v1h-1zM29 11h1v1h-1zM8 12h1v1h-1zM11 12h3v1h-3zM15 12h2v1h-2zM18 12h2v1h-2zM21 12h3v1h-3zM27 12h1v1h-1zM9 13h1v1h-1zM11 13h2v1h-2zM14 13h3v1h-3zM18 13h2v1h-2zM21 13h1v1h-1zM31 13h2v1h-2zM35 13h1v1h-1zM10 14h1v1h-1zM12 14h2v1h-2zM15 14h2v1h-2zM18 14h1v1h-1zM20 14h3v1h-3zM26 14h1v1h-1zM30 14h1v1h-1zM32 14h1v1h-1zM10 15h1v1h-1zM12 15h5v1h-5zM20 15h2v1h-2zM23 15h1v1h-1zM27 15h1v1h-1zM11 16h4v1h-4zM16 16h1v1h-1zM18 16h2v1h-2zM27 16h2v1h-2zM31 16h1v1h-1zM34 16h1v1h-1zM10 17h2v1h-2zM15 17h2v1h-2zM18 17h1v1h-1zM20 17h3v1h-3zM28 17h1v1h-1zM31 17h1v1h-1zM33 17h1v1h-1zM9 18h2v1h-2zM12 18h1v1h-1zM14 18h2v1h-2zM17 18h2v1h-2zM20 18h2v1h-2zM29 18h1v1h-1zM8 19h2v1h-2zM14 19h1v1h-1zM20 19h1v1h-1zM34 19h1v1h-1zM8 20h1v1h-1zM14 20h2v1h-2zM17 20h2v1h-2zM20 20h1v1h-1zM13 21h1v1h-1zM16 21h1v1h-1zM19 21h1v1h-1zM17 24h1v1h-1zM16 27h1v1h-1zM26 33h1v1h-1zM10 43h1v1h-1zM19 43h1v1h-1zM9 45h1v1h-1zM2 47h1v1h-1zM3 51h1v1h-1zM13 53h1v1h-1zM17 53h1v1h-1zM11 57h1v1h-1zM9 58h1v1h-1zM16 58h1v1h-1zM33 59h1v1h-1zM16 60h1v1h-1zM20 61h1v1h-1zM25 61h1v1h-1zM28 61h1v1h-1zM35 61h1v1h-1zM40 61h1v1h-1zM27 62h1v1h-1zM35 62h1v1h-1zM39 62h1v1h-1zM21 63h1v1h-1zM35 63h1v1h-1zM38 63h1v1h-1zM49 63h1v1h-1zM20 64h1v1h-1zM29 64h1v1h-1zM31 64h1v1h-1zM34 64h1v1h-1zM21 65h1v1h-1zM23 65h1v1h-1zM26 65h1v1h-1zM28 65h2v1h-2zM33 65h1v1h-1zM38 65h2v1h-2zM41 65h1v1h-1zM29 66h1v1h-1zM32 66h1v1h-1zM23 67h2v1h-2zM36 67h1v1h-1zM45 67h1v1h-1zM28 68h2v1h-2zM33 68h1v1h-1zM37 68h2v1h-2zM42 68h1v1h-1zM32 69h1v1h-1zM40 69h1v1h-1zM33 70h1v1h-1zM39 70h4v1h-4zM45 70h1v1h-1zM48 70h1v1h-1zM30 71h1v1h-1zM43 71h1v1h-1zM45 71h1v1h-1zM47 71h1v1h-1zM49 71h2v1h-2zM36 72h2v1h-2zM42 72h2v1h-2zM45 72h1v1h-1zM33 73h1v1h-1zM35 73h1v1h-1zM42 73h1v1h-1zM45 73h1v1h-1zM48 73h1v1h-1zM23 74h1v1h-1zM31 74h1v1h-1zM31 75h1v1h-1zM48 75h1v1h-1zM52 75h1v1h-1zM32 76h1v1h-1zM50 76h1v1h-1zM29 78h1v1h-1zM31 78h1v1h-1z"/>
<path fill="#28377e" d="M27 1h2v1h-2zM24 3h2v1h-2zM34 3h1v1h-1zM37 3h1v1h-1zM22 4h1v1h-1zM26 4h1v1h-1zM29 4h1v1h-1zM38 4h1v1h-1zM56 4h1v1h-1zM59 4h1v1h-1zM32 5h1v1h-1zM40 5h1v1h-1zM42 5h1v1h-1zM50 5h2v1h-2zM59 5h1v1h-1zM23 6h1v1h-1zM26 6h1v1h-1zM32 6h1v1h-1zM36 6h1v1h-1zM38 6h3v1h-3zM45 6h1v1h-1zM47 6h1v1h-1zM49 6h11v1h-11zM9 7h1v1h-1zM13 7h1v1h-1zM25 7h1v1h-1zM33 7h1v1h-1zM38 7h3v1h-3zM43 7h1v1h-1zM45 7h1v1h-1zM47 7h11v1h-11zM11 8h1v1h-1zM14 8h1v1h-1zM18 8h1v1h-1zM26 8h1v1h-1zM28 8h2v1h-2zM36 8h1v1h-1zM38 8h2v1h-2zM41 8h1v1h-1zM43 8h7v1h-7zM51 8h1v1h-1zM55 8h1v1h-1zM57 8h2v1h-2zM60 8h1v1h-1zM18 9h1v1h-1zM24 9h1v1h-1zM29 9h1v1h-1zM31 9h1v1h-1zM36 9h5v1h-5zM42 9h1v1h-1zM44 9h7v1h-7zM52 9h3v1h-3zM56 9h2v1h-2zM59 9h1v1h-1zM17 10h1v1h-1zM22 10h2v1h-2zM25 10h1v1h-1zM34 10h5v1h-5zM40 10h10v1h-10zM51 10h5v1h-5zM57 10h1v1h-1zM59 10h2v1h-2zM23 11h1v1h-1zM26 11h1v1h-1zM28 11h1v1h-1zM30 11h17v1h-17zM48 11h1v1h-1zM57 11h1v1h-1zM59 11h1v1h-1zM9 12h2v1h-2zM14 12h1v1h-1zM17 12h1v1h-1zM20 12h1v1h-1zM24 12h3v1h-3zM29 12h3v1h-3zM33 12h2v1h-2zM36 12h1v1h-1zM41 12h1v1h-1zM43 12h1v1h-1zM45 12h2v1h-2zM54 12h1v1h-1zM17 13h1v1h-1zM20 13h1v1h-1zM22 13h2v1h-2zM25 13h4v1h-4zM33 13h2v1h-2zM36 13h3v1h-3zM41 13h1v1h-1zM43 13h1v1h-1zM45 13h2v1h-2zM17 14h1v1h-1zM19 14h1v1h-1zM23 14h3v1h-3zM31 14h1v1h-1zM33 14h2v1h-2zM38 14h2v1h-2zM41 14h1v1h-1zM43 14h1v1h-1zM18 15h2v1h-2zM22 15h1v1h-1zM24 15h1v1h-1zM29 15h3v1h-3zM33 15h1v1h-1zM38 15h1v1h-1zM43 15h3v1h-3zM15 16h1v1h-1zM17 16h1v1h-1zM30 16h1v1h-1zM32 16h1v1h-1zM35 16h2v1h-2zM42 16h3v1h-3zM47 16h1v1h-1zM19 17h1v1h-1zM25 17h1v1h-1zM27 17h1v1h-1zM32 17h1v1h-1zM40 17h1v1h-1zM11 18h1v1h-1zM13 18h1v1h-1zM16 18h1v1h-1zM19 18h1v1h-1zM24 18h2v1h-2zM31 18h1v1h-1zM34 18h1v1h-1zM41 18h1v1h-1zM44 18h1v1h-1zM46 18h1v1h-1zM11 19h1v1h-1zM15 19h1v1h-1zM17 19h1v1h-1zM22 19h1v1h-1zM25 19h1v1h-1zM28 19h1v1h-1zM35 19h1v1h-1zM39 19h1v1h-1zM41 19h3v1h-3zM46 19h3v1h-3zM9 20h1v1h-1zM11 20h1v1h-1zM13 20h1v1h-1zM16 20h1v1h-1zM19 20h1v1h-1zM39 20h3v1h-3zM47 20h1v1h-1zM15 21h1v1h-1zM17 21h2v1h-2zM20 21h1v1h-1zM10 22h1v1h-1zM12 22h2v1h-2zM15 22h1v1h-1zM17 22h1v1h-1zM19 22h1v1h-1zM9 23h1v1h-1zM11 23h1v1h-1zM13 23h1v1h-1zM12 26h1v1h-1zM16 26h1v1h-1zM13 30h1v1h-1zM10 32h1v1h-1zM18 34h1v1h-1zM20 34h1v1h-1zM12 36h1v1h-1zM15 39h1v1h-1zM4 40h1v1h-1zM16 42h1v1h-1zM12 43h1v1h-1zM6 44h1v1h-1zM16 44h1v1h-1zM28 44h1v1h-1zM4 45h1v1h-1zM10 45h1v1h-1zM7 46h1v1h-1zM12 48h1v1h-1zM18 48h1v1h-1zM6 49h2v1h-2zM11 49h2v1h-2zM5 50h1v1h-1zM15 50h1v1h-1zM11 51h1v1h-1zM21 51h1v1h-1zM11 52h1v1h-1zM7 55h2v1h-2zM13 59h1v1h-1zM23 59h1v1h-1zM25 59h1v1h-1zM34 59h1v1h-1zM26 60h1v1h-1zM36 60h1v1h-1zM40 60h1v1h-1zM6 61h1v1h-1zM8 61h1v1h-1zM22 61h1v1h-1zM38 61h1v1h-1zM5 62h1v1h-1zM19 62h1v1h-1zM22 62h1v1h-1zM24 62h1v1h-1zM4 63h1v1h-1zM29 63h1v1h-1zM43 63h1v1h-1zM47 63h1v1h-1zM3 64h1v1h-1zM35 64h1v1h-1zM37 64h1v1h-1zM40 64h1v1h-1zM49 64h1v1h-1zM36 65h1v1h-1zM40 65h1v1h-1zM42 65h1v1h-1zM44 65h1v1h-1zM26 66h1v1h-1zM36 66h1v1h-1zM43 66h1v1h-1zM45 66h2v1h-2zM48 67h1v1h-1zM41 68h1v1h-1zM44 68h2v1h-2zM30 69h1v1h-1zM38 69h1v1h-1zM48 69h1v1h-1zM44 70h1v1h-1zM49 70h1v1h-1zM22 71h1v1h-1zM46 71h1v1h-1zM48 72h2v1h-2zM50 74h1v1h-1zM50 75h1v1h-1z"/>
<path fill="#1f387a" d="M68 3h1v1h-1zM57 4h2v1h-2zM64 4h2v1h-2zM67 4h1v1h-1zM70 4h1v1h-1zM52 5h2v1h-2zM57 5h2v1h-2zM61 5h1v1h-1zM64 5h9v1h-9zM60 6h1v1h-1zM64 6h3v1h-3zM68 6h2v1h-2zM71 6h2v1h-2zM58 7h2v1h-2zM61 7h1v1h-1zM63 7h7v1h-7zM50 8h1v1h-1zM52 8h2v1h-2zM56 8h1v1h-1zM61 8h2v1h-2zM64 8h4v1h-4zM51 9h1v1h-1zM55 9h1v1h-1zM60 9h6v1h-6zM67 9h1v1h-1zM26 10h1v1h-1zM31 10h1v1h-1zM50 10h1v1h-1zM56 10h1v1h-1zM61 10h2v1h-2zM64 10h1v1h-1zM67 10h1v1h-1zM21 11h1v1h-1zM24 11h1v1h-1zM47 11h1v1h-1zM49 11h8v1h-8zM58 11h1v1h-1zM60 11h6v1h-6zM28 12h1v1h-1zM32 12h1v1h-1zM37 12h4v1h-4zM42 12h1v1h-1zM44 12h1v1h-1zM48 12h6v1h-6zM55 12h10v1h-10zM24 13h1v1h-1zM30 13h1v1h-1zM39 13h1v1h-1zM42 13h1v1h-1zM44 13h1v1h-1zM47 13h2v1h-2zM50 13h3v1h-3zM54 13h7v1h-7zM64 13h1v1h-1zM36 14h1v1h-1zM40 14h1v1h-1zM42 14h1v1h-1zM44 14h7v1h-7zM52 14h1v1h-1zM54 14h4v1h-4zM61 14h1v1h-1zM25 15h1v1h-1zM39 15h1v1h-1zM41 15h2v1h-2zM46 15h3v1h-3zM50 15h3v1h-3zM55 15h1v1h-1zM29 16h1v1h-1zM37 16h2v1h-2zM40 16h2v1h-2zM46 16h1v1h-1zM48 16h2v1h-2zM52 16h1v1h-1zM59 16h1v1h-1zM23 17h1v1h-1zM29 17h1v1h-1zM34 17h2v1h-2zM37 17h3v1h-3zM41 17h8v1h-8zM54 17h2v1h-2zM22 18h1v1h-1zM27 18h2v1h-2zM35 18h3v1h-3zM39 18h2v1h-2zM42 18h2v1h-2zM48 18h2v1h-2zM52 18h1v1h-1zM56 18h2v1h-2zM60 18h1v1h-1zM10 19h1v1h-1zM12 19h1v1h-1zM21 19h1v1h-1zM23 19h2v1h-2zM27 19h1v1h-1zM36 19h1v1h-1zM40 19h1v1h-1zM44 19h2v1h-2zM49 19h1v1h-1zM51 19h1v1h-1zM57 19h2v1h-2zM12 20h1v1h-1zM21 20h1v1h-1zM34 20h1v1h-1zM38 20h1v1h-1zM42 20h5v1h-5zM48 20h2v1h-2zM52 20h2v1h-2zM55 20h1v1h-1zM59 20h1v1h-1zM9 21h1v1h-1zM12 21h1v1h-1zM21 21h1v1h-1zM43 21h1v1h-1zM51 21h1v1h-1zM53 21h1v1h-1zM11 22h1v1h-1zM18 22h1v1h-1zM21 22h1v1h-1zM16 23h1v1h-1zM18 23h1v1h-1zM26 23h1v1h-1zM16 24h1v1h-1zM27 24h1v1h-1zM36 25h1v1h-1zM13 26h1v1h-1zM28 28h1v1h-1zM8 30h1v1h-1zM3 33h1v1h-1zM16 34h1v1h-1zM21 34h1v1h-1zM31 35h1v1h-1zM28 40h1v1h-1zM2 41h1v1h-1zM19 41h1v1h-1zM13 42h1v1h-1zM20 42h1v1h-1zM11 43h1v1h-1zM21 43h2v1h-2zM3 44h1v1h-1zM5 44h1v1h-1zM12 44h2v1h-2zM23 44h1v1h-1zM0 45h1v1h-1zM8 45h1v1h-1zM16 46h1v1h-1zM1 47h1v1h-1zM6 48h1v1h-1zM8 48h1v1h-1zM17 48h1v1h-1zM9 49h1v1h-1zM22 49h1v1h-1zM13 50h1v1h-1zM16 50h1v1h-1zM9 51h1v1h-1zM13 51h1v1h-1zM15 52h1v1h-1zM10 54h1v1h-1zM17 54h1v1h-1zM19 54h2v1h-2zM5 55h1v1h-1zM23 55h1v1h-1zM3 57h1v1h-1zM5 57h1v1h-1zM10 57h1v1h-1zM11 58h1v1h-1zM21 58h1v1h-1zM32 59h1v1h-1zM8 60h1v1h-1zM24 60h1v1h-1zM30 60h1v1h-1zM33 60h1v1h-1zM13 61h1v1h-1zM17 61h3v1h-3zM21 61h1v1h-1zM34 61h1v1h-1zM33 62h1v1h-1zM20 63h1v1h-1zM24 63h1v1h-1zM30 63h1v1h-1zM34 63h1v1h-1zM42 63h1v1h-1zM46 64h1v1h-1zM22 65h1v1h-1zM37 65h1v1h-1zM43 65h1v1h-1zM46 65h1v1h-1zM40 66h2v1h-2zM39 67h2v1h-2zM47 68h1v1h-1zM54 68h1v1h-1zM45 69h1v1h-1zM47 69h1v1h-1zM51 71h1v1h-1zM34 72h1v1h-1zM51 74h1v1h-1zM30 77h1v1h-1z"/>
<path fill="#163876" d="M67 3h1v1h-1zM63 5h1v1h-1zM63 6h1v1h-1zM70 6h1v1h-1zM62 7h1v1h-1zM66 9h1v1h-1zM63 10h1v1h-1zM65 10h2v1h-2zM53 13h1v1h-1zM61 13h3v1h-3zM65 13h1v1h-1zM51 14h1v1h-1zM58 14h3v1h-3zM62 14h3v1h-3zM28 15h1v1h-1zM49 15h1v1h-1zM53 15h1v1h-1zM56 15h7v1h-7zM68 15h1v1h-1zM26 16h1v1h-1zM50 16h2v1h-2zM53 16h6v1h-6zM60 16h3v1h-3zM64 16h1v1h-1zM36 17h1v1h-1zM49 17h5v1h-5zM56 17h7v1h-7zM66 17h4v1h-4zM23 18h1v1h-1zM33 18h1v1h-1zM38 18h1v1h-1zM50 18h2v1h-2zM53 18h2v1h-2zM58 18h2v1h-2zM61 18h3v1h-3zM67 18h1v1h-1zM69 18h1v1h-1zM38 19h1v1h-1zM50 19h1v1h-1zM52 19h5v1h-5zM59 19h3v1h-3zM64 19h3v1h-3zM22 20h2v1h-2zM25 20h1v1h-1zM35 20h1v1h-1zM50 20h2v1h-2zM54 20h1v1h-1zM56 20h3v1h-3zM60 20h2v1h-2zM63 20h1v1h-1zM11 21h1v1h-1zM25 21h2v1h-2zM40 21h3v1h-3zM44 21h1v1h-1zM46 21h4v1h-4zM55 21h5v1h-5zM16 22h1v1h-1zM26 22h1v1h-1zM39 22h1v1h-1zM45 22h1v1h-1zM48 22h1v1h-1zM50 22h12v1h-12zM63 22h2v1h-2zM14 23h1v1h-1zM48 23h1v1h-1zM50 23h1v1h-1zM56 23h4v1h-4zM62 23h1v1h-1zM65 23h1v1h-1zM67 23h1v1h-1zM48 24h3v1h-3zM54 24h1v1h-1zM56 24h1v1h-1zM58 24h1v1h-1zM60 24h1v1h-1zM65 24h3v1h-3zM16 25h1v1h-1zM49 25h1v1h-1zM53 25h2v1h-2zM56 25h2v1h-2zM60 25h1v1h-1zM63 25h1v1h-1zM9 26h1v1h-1zM49 26h2v1h-2zM52 26h1v1h-1zM68 26h1v1h-1zM34 27h1v1h-1zM36 27h1v1h-1zM52 27h2v1h-2zM56 27h1v1h-1zM58 27h1v1h-1zM61 27h1v1h-1zM63 27h1v1h-1zM12 28h1v1h-1zM26 28h1v1h-1zM50 28h1v1h-1zM55 28h1v1h-1zM60 28h1v1h-1zM14 29h1v1h-1zM18 29h1v1h-1zM55 29h1v1h-1zM58 29h3v1h-3zM62 29h1v1h-1zM52 30h1v1h-1zM13 31h1v1h-1zM1 32h1v1h-1zM29 32h1v1h-1zM54 32h1v1h-1zM29 33h1v1h-1zM65 33h1v1h-1zM70 33h1v1h-1zM33 35h1v1h-1zM14 36h1v1h-1zM31 36h1v1h-1zM14 38h1v1h-1zM2 39h1v1h-1zM14 39h1v1h-1zM21 39h1v1h-1zM10 40h1v1h-1zM17 40h1v1h-1zM3 41h1v1h-1zM6 41h1v1h-1zM15 41h2v1h-2zM17 42h1v1h-1zM4 43h1v1h-1zM9 43h1v1h-1zM20 43h1v1h-1zM0 44h1v1h-1zM7 44h1v1h-1zM10 44h1v1h-1zM30 44h1v1h-1zM3 45h1v1h-1zM5 45h1v1h-1zM21 45h1v1h-1zM14 46h1v1h-1zM19 46h1v1h-1zM4 47h2v1h-2zM8 47h1v1h-1zM14 47h1v1h-1zM21 47h1v1h-1zM27 47h1v1h-1zM24 49h1v1h-1zM7 50h1v1h-1zM22 50h1v1h-1zM22 51h1v1h-1zM8 52h1v1h-1zM10 52h1v1h-1zM18 52h1v1h-1zM22 52h1v1h-1zM8 53h1v1h-1zM18 53h1v1h-1zM26 53h1v1h-1zM18 54h1v1h-1zM10 55h1v1h-1zM20 55h1v1h-1zM7 56h1v1h-1zM13 56h1v1h-1zM18 57h1v1h-1zM21 57h1v1h-1zM31 57h1v1h-1zM4 58h2v1h-2zM12 58h1v1h-1zM23 58h1v1h-1zM25 58h1v1h-1zM9 59h2v1h-2zM17 59h1v1h-1zM26 59h1v1h-1zM30 59h2v1h-2zM7 60h1v1h-1zM13 60h1v1h-1zM18 60h5v1h-5zM27 60h1v1h-1zM31 60h1v1h-1zM34 60h1v1h-1zM15 61h1v1h-1zM32 61h1v1h-1zM41 61h1v1h-1zM6 62h1v1h-1zM20 62h1v1h-1zM30 62h1v1h-1zM38 62h1v1h-1zM32 63h1v1h-1zM41 63h1v1h-1zM38 64h1v1h-1zM47 64h1v1h-1zM35 66h1v1h-1zM42 66h1v1h-1zM48 66h1v1h-1zM44 67h1v1h-1zM47 67h1v1h-1zM43 68h1v1h-1zM49 68h2v1h-2zM42 69h2v1h-2zM51 69h1v1h-1zM50 70h1v1h-1zM32 72h1v1h-1z"/>
<path fill="#0d3972" d="M82 10h2v1h-2zM81 11h1v1h-1zM83 11h4v1h-4zM88 11h1v1h-1zM84 12h4v1h-4zM82 13h3v1h-3zM82 14h3v1h-3zM74 15h1v1h-1zM80 15h2v1h-2zM85 15h1v1h-1zM63 16h1v1h-1zM65 16h5v1h-5zM73 16h3v1h-3zM78 16h7v1h-7zM63 17h3v1h-3zM70 17h1v1h-1zM72 17h7v1h-7zM82 17h2v1h-2zM55 18h1v1h-1zM64 18h3v1h-3zM68 18h1v1h-1zM70 18h4v1h-4zM75 18h4v1h-4zM29 19h1v1h-1zM62 19h2v1h-2zM67 19h7v1h-7zM75 19h2v1h-2zM78 19h7v1h-7zM24 20h1v1h-1zM28 20h1v1h-1zM64 20h8v1h-8zM73 20h1v1h-1zM75 20h1v1h-1zM77 20h1v1h-1zM79 20h1v1h-1zM81 20h1v1h-1zM84 20h1v1h-1zM86 20h1v1h-1zM22 21h2v1h-2zM39 21h1v1h-1zM45 21h1v1h-1zM50 21h1v1h-1zM52 21h1v1h-1zM54 21h1v1h-1zM61 21h13v1h-13zM76 21h6v1h-6zM83 21h1v1h-1zM20 22h1v1h-1zM38 22h1v1h-1zM40 22h1v1h-1zM47 22h1v1h-1zM49 22h1v1h-1zM62 22h1v1h-1zM65 22h7v1h-7zM73 22h5v1h-5zM79 22h1v1h-1zM83 22h1v1h-1zM10 23h1v1h-1zM19 23h2v1h-2zM31 23h1v1h-1zM38 23h2v1h-2zM41 23h2v1h-2zM44 23h1v1h-1zM46 23h2v1h-2zM49 23h1v1h-1zM51 23h5v1h-5zM60 23h2v1h-2zM63 23h2v1h-2zM66 23h1v1h-1zM68 23h8v1h-8zM79 23h1v1h-1zM14 24h1v1h-1zM18 24h2v1h-2zM25 24h1v1h-1zM43 24h2v1h-2zM46 24h1v1h-1zM51 24h3v1h-3zM55 24h1v1h-1zM57 24h1v1h-1zM59 24h1v1h-1zM61 24h4v1h-4zM68 24h11v1h-11zM11 25h1v1h-1zM15 25h1v1h-1zM18 25h1v1h-1zM24 25h1v1h-1zM31 25h1v1h-1zM38 25h1v1h-1zM41 25h1v1h-1zM46 25h1v1h-1zM50 25h3v1h-3zM55 25h1v1h-1zM58 25h2v1h-2zM61 25h1v1h-1zM64 25h11v1h-11zM76 25h1v1h-1zM17 26h1v1h-1zM41 26h1v1h-1zM43 26h1v1h-1zM48 26h1v1h-1zM51 26h1v1h-1zM53 26h15v1h-15zM69 26h7v1h-7zM9 27h1v1h-1zM12 27h1v1h-1zM45 27h1v1h-1zM48 27h4v1h-4zM54 27h2v1h-2zM57 27h1v1h-1zM59 27h2v1h-2zM62 27h1v1h-1zM64 27h12v1h-12zM36 28h1v1h-1zM39 28h1v1h-1zM45 28h1v1h-1zM52 28h3v1h-3zM56 28h4v1h-4zM61 28h15v1h-15zM40 29h1v1h-1zM43 29h1v1h-1zM51 29h4v1h-4zM56 29h2v1h-2zM61 29h1v1h-1zM63 29h13v1h-13zM11 30h1v1h-1zM17 30h1v1h-1zM21 30h1v1h-1zM51 30h1v1h-1zM53 30h11v1h-11zM65 30h2v1h-2zM68 30h2v1h-2zM71 30h1v1h-1zM73 30h3v1h-3zM9 31h1v1h-1zM25 31h1v1h-1zM32 31h1v1h-1zM34 31h1v1h-1zM44 31h1v1h-1zM52 31h24v1h-24zM32 32h1v1h-1zM53 32h1v1h-1zM55 32h21v1h-21zM31 33h1v1h-1zM54 33h2v1h-2zM57 33h8v1h-8zM66 33h4v1h-4zM71 33h3v1h-3zM14 34h1v1h-1zM25 34h1v1h-1zM33 34h1v1h-1zM62 34h7v1h-7zM72 34h1v1h-1zM6 35h1v1h-1zM27 35h1v1h-1zM63 35h5v1h-5zM15 36h1v1h-1zM21 36h1v1h-1zM29 36h1v1h-1zM64 36h3v1h-3zM2 37h1v1h-1zM7 37h1v1h-1zM13 37h1v1h-1zM23 37h1v1h-1zM4 39h1v1h-1zM13 39h1v1h-1zM35 40h1v1h-1zM13 41h2v1h-2zM30 41h1v1h-1zM0 42h1v1h-1zM2 43h1v1h-1zM8 43h1v1h-1zM17 43h1v1h-1zM8 44h1v1h-1zM15 44h1v1h-1zM18 44h1v1h-1zM22 44h1v1h-1zM27 44h1v1h-1zM7 45h1v1h-1zM17 45h1v1h-1zM20 45h1v1h-1zM22 45h1v1h-1zM0 46h1v1h-1zM15 46h1v1h-1zM23 46h1v1h-1zM28 46h1v1h-1zM13 47h1v1h-1zM17 47h1v1h-1zM20 47h1v1h-1zM10 48h1v1h-1zM14 48h1v1h-1zM5 49h1v1h-1zM13 49h1v1h-1zM28 49h1v1h-1zM6 51h1v1h-1zM15 51h2v1h-2zM9 52h1v1h-1zM20 52h1v1h-1zM26 52h1v1h-1zM4 53h1v1h-1zM10 53h2v1h-2zM15 53h1v1h-1zM6 54h1v1h-1zM13 54h1v1h-1zM23 54h1v1h-1zM12 55h3v1h-3zM19 55h1v1h-1zM6 56h1v1h-1zM15 56h1v1h-1zM20 56h1v1h-1zM13 57h1v1h-1zM19 57h1v1h-1zM29 57h1v1h-1zM8 58h1v1h-1zM17 58h1v1h-1zM24 58h1v1h-1zM26 58h1v1h-1zM32 58h1v1h-1zM8 59h1v1h-1zM15 59h2v1h-2zM20 59h2v1h-2zM27 59h1v1h-1zM10 60h3v1h-3zM14 60h2v1h-2zM17 60h1v1h-1zM28 60h1v1h-1zM46 60h1v1h-1zM4 61h2v1h-2zM10 61h1v1h-1zM29 61h1v1h-1zM48 61h2v1h-2zM23 62h1v1h-1zM34 62h1v1h-1zM40 62h1v1h-1zM45 62h2v1h-2zM48 62h1v1h-1zM3 63h1v1h-1zM40 63h1v1h-1zM44 63h1v1h-1zM46 63h1v1h-1zM43 64h1v1h-1zM45 64h1v1h-1zM48 64h1v1h-1zM47 65h2v1h-2zM53 65h1v1h-1zM49 66h1v1h-1zM41 67h1v1h-1zM51 67h1v1h-1zM50 69h1v1h-1zM46 70h1v1h-1z"/>
<path fill="#043a6e" d="M82 11h1v1h-1zM81 12h3v1h-3zM86 13h2v1h-2zM79 14h1v1h-1zM87 14h1v1h-1zM83 15h2v1h-2zM76 16h2v1h-2zM80 17h2v1h-2zM84 17h1v1h-1zM79 18h3v1h-3zM83 18h1v1h-1zM87 18h1v1h-1zM74 19h1v1h-1zM74 20h1v1h-1zM76 20h1v1h-1zM78 20h1v1h-1zM80 20h1v1h-1zM83 20h1v1h-1zM24 21h1v1h-1zM36 21h1v1h-1zM74 21h2v1h-2zM22 22h1v1h-1zM24 22h1v1h-1zM27 22h1v1h-1zM41 22h4v1h-4zM46 22h1v1h-1zM78 22h1v1h-1zM80 22h1v1h-1zM82 22h1v1h-1zM22 23h2v1h-2zM45 23h1v1h-1zM76 23h3v1h-3zM12 24h2v1h-2zM21 24h1v1h-1zM33 24h1v1h-1zM40 24h2v1h-2zM45 24h1v1h-1zM79 24h1v1h-1zM14 25h1v1h-1zM20 25h1v1h-1zM26 25h1v1h-1zM39 25h2v1h-2zM42 25h2v1h-2zM45 25h1v1h-1zM47 25h2v1h-2zM75 25h1v1h-1zM77 25h1v1h-1zM11 26h1v1h-1zM18 26h1v1h-1zM21 26h1v1h-1zM26 26h1v1h-1zM30 26h2v1h-2zM34 26h1v1h-1zM40 26h1v1h-1zM44 26h1v1h-1zM46 26h1v1h-1zM76 26h1v1h-1zM15 27h1v1h-1zM17 27h1v1h-1zM27 27h1v1h-1zM30 27h2v1h-2zM41 27h2v1h-2zM44 27h1v1h-1zM47 27h1v1h-1zM76 27h1v1h-1zM33 28h1v1h-1zM40 28h2v1h-2zM43 28h2v1h-2zM48 28h1v1h-1zM51 28h1v1h-1zM8 29h2v1h-2zM13 29h1v1h-1zM16 29h1v1h-1zM19 29h2v1h-2zM28 29h1v1h-1zM32 29h1v1h-1zM35 29h1v1h-1zM37 29h2v1h-2zM41 29h1v1h-1zM49 29h1v1h-1zM9 30h1v1h-1zM12 30h1v1h-1zM16 30h1v1h-1zM19 30h1v1h-1zM24 30h2v1h-2zM36 30h1v1h-1zM38 30h2v1h-2zM41 30h1v1h-1zM43 30h1v1h-1zM49 30h2v1h-2zM72 30h1v1h-1zM7 31h1v1h-1zM18 31h2v1h-2zM23 31h2v1h-2zM26 31h1v1h-1zM30 31h1v1h-1zM42 31h1v1h-1zM51 31h1v1h-1zM13 32h1v1h-1zM24 32h1v1h-1zM51 32h2v1h-2zM19 33h1v1h-1zM21 33h1v1h-1zM33 33h1v1h-1zM46 33h1v1h-1zM51 33h3v1h-3zM56 33h1v1h-1zM5 34h1v1h-1zM8 34h1v1h-1zM36 34h1v1h-1zM47 34h1v1h-1zM52 34h2v1h-2zM55 34h6v1h-6zM71 34h1v1h-1zM19 35h1v1h-1zM30 35h1v1h-1zM35 35h1v1h-1zM53 35h3v1h-3zM58 35h5v1h-5zM1 36h1v1h-1zM54 36h1v1h-1zM20 37h1v1h-1zM28 37h1v1h-1zM33 37h1v1h-1zM10 38h1v1h-1zM20 38h1v1h-1zM11 39h1v1h-1zM16 39h1v1h-1zM22 39h1v1h-1zM29 39h1v1h-1zM8 40h1v1h-1zM13 40h1v1h-1zM25 40h1v1h-1zM30 40h1v1h-1zM1 41h1v1h-1zM4 41h1v1h-1zM7 41h1v1h-1zM11 41h1v1h-1zM17 41h1v1h-1zM1 42h1v1h-1zM6 42h1v1h-1zM8 42h1v1h-1zM18 42h1v1h-1zM21 42h1v1h-1zM29 42h1v1h-1zM3 43h1v1h-1zM7 43h1v1h-1zM21 44h1v1h-1zM1 45h1v1h-1zM12 45h1v1h-1zM24 45h4v1h-4zM6 46h1v1h-1zM10 46h1v1h-1zM6 47h1v1h-1zM9 47h1v1h-1zM11 47h1v1h-1zM25 47h1v1h-1zM5 48h1v1h-1zM13 48h1v1h-1zM15 48h2v1h-2zM3 49h1v1h-1zM16 49h2v1h-2zM4 50h1v1h-1zM6 50h1v1h-1zM8 50h1v1h-1zM12 50h1v1h-1zM17 50h1v1h-1zM4 51h1v1h-1zM7 51h1v1h-1zM19 51h1v1h-1zM29 51h1v1h-1zM7 52h1v1h-1zM12 52h1v1h-1zM27 52h1v1h-1zM34 52h1v1h-1zM9 53h1v1h-1zM21 53h1v1h-1zM11 54h1v1h-1zM14 54h1v1h-1zM15 55h1v1h-1zM21 55h1v1h-1zM26 55h1v1h-1zM36 55h1v1h-1zM9 56h1v1h-1zM11 56h2v1h-2zM17 56h1v1h-1zM22 56h1v1h-1zM28 56h1v1h-1zM7 57h1v1h-1zM16 57h1v1h-1zM20 57h1v1h-1zM22 57h1v1h-1zM24 57h1v1h-1zM10 58h1v1h-1zM19 58h2v1h-2zM29 58h1v1h-1zM31 58h1v1h-1zM35 58h1v1h-1zM3 59h1v1h-1zM5 59h1v1h-1zM11 59h2v1h-2zM18 59h1v1h-1zM22 59h1v1h-1zM29 59h1v1h-1zM35 59h3v1h-3zM2 60h1v1h-1zM5 60h2v1h-2zM29 60h1v1h-1zM39 60h1v1h-1zM39 61h1v1h-1zM42 61h1v1h-1zM47 61h1v1h-1zM2 62h2v1h-2zM32 62h1v1h-1zM43 62h1v1h-1zM47 62h1v1h-1zM39 63h1v1h-1zM50 63h1v1h-1zM53 63h1v1h-1zM39 64h1v1h-1zM42 64h1v1h-1zM50 64h1v1h-1zM45 65h1v1h-1zM50 65h1v1h-1zM52 65h1v1h-1zM50 66h2v1h-2zM49 67h1v1h-1zM46 68h1v1h-1zM52 69h1v1h-1z"/>
<path fill="#013e69" d="M23 22h1v1h-1zM28 22h1v1h-1zM21 23h1v1h-1zM24 23h1v1h-1zM27 23h1v1h-1zM33 23h1v1h-1zM40 23h1v1h-1zM30 24h2v1h-2zM36 24h1v1h-1zM38 24h2v1h-2zM17 25h1v1h-1zM19 25h1v1h-1zM23 25h1v1h-1zM27 25h2v1h-2zM34 25h1v1h-1zM37 25h1v1h-1zM44 25h1v1h-1zM10 26h1v1h-1zM20 26h1v1h-1zM24 26h1v1h-1zM35 26h1v1h-1zM38 26h1v1h-1zM42 26h1v1h-1zM45 26h1v1h-1zM19 27h1v1h-1zM32 27h2v1h-2zM35 27h1v1h-1zM40 27h1v1h-1zM43 27h1v1h-1zM46 27h1v1h-1zM11 28h1v1h-1zM19 28h1v1h-1zM21 28h1v1h-1zM31 28h2v1h-2zM42 28h1v1h-1zM46 28h2v1h-2zM49 28h1v1h-1zM10 29h1v1h-1zM15 29h1v1h-1zM22 29h1v1h-1zM25 29h1v1h-1zM39 29h1v1h-1zM42 29h1v1h-1zM46 29h3v1h-3zM50 29h1v1h-1zM20 30h1v1h-1zM40 30h1v1h-1zM42 30h1v1h-1zM45 31h1v1h-1zM49 31h2v1h-2zM26 32h2v1h-2zM38 32h1v1h-1zM44 32h1v1h-1zM13 33h1v1h-1zM27 33h2v1h-2zM30 33h1v1h-1zM48 33h1v1h-1zM13 34h1v1h-1zM19 34h1v1h-1zM37 34h1v1h-1zM54 34h1v1h-1zM13 35h1v1h-1zM52 35h1v1h-1zM3 36h1v1h-1zM6 36h1v1h-1zM35 36h1v1h-1zM52 36h2v1h-2zM55 36h1v1h-1zM6 37h1v1h-1zM31 37h1v1h-1zM35 37h1v1h-1zM49 37h1v1h-1zM52 37h1v1h-1zM55 37h1v1h-1zM8 38h1v1h-1zM21 38h1v1h-1zM25 38h1v1h-1zM32 38h1v1h-1zM54 38h1v1h-1zM56 38h2v1h-2zM7 39h1v1h-1zM24 39h1v1h-1zM30 39h1v1h-1zM11 40h1v1h-1zM23 40h1v1h-1zM29 40h1v1h-1zM23 41h1v1h-1zM25 41h1v1h-1zM28 41h1v1h-1zM36 41h1v1h-1zM2 42h1v1h-1zM5 42h1v1h-1zM14 42h1v1h-1zM31 42h1v1h-1zM0 43h2v1h-2zM6 43h1v1h-1zM14 43h2v1h-2zM18 43h1v1h-1zM25 43h1v1h-1zM31 43h1v1h-1zM14 44h1v1h-1zM17 44h1v1h-1zM16 45h1v1h-1zM28 45h2v1h-2zM31 45h1v1h-1zM11 46h1v1h-1zM13 46h1v1h-1zM29 46h1v1h-1zM3 47h1v1h-1zM7 47h1v1h-1zM22 47h1v1h-1zM24 47h1v1h-1zM7 48h1v1h-1zM21 49h1v1h-1zM29 49h1v1h-1zM25 50h1v1h-1zM5 51h1v1h-1zM8 51h1v1h-1zM12 51h1v1h-1zM25 51h1v1h-1zM5 52h1v1h-1zM13 52h1v1h-1zM21 52h1v1h-1zM7 53h1v1h-1zM12 53h1v1h-1zM23 53h2v1h-2zM4 54h1v1h-1zM21 54h1v1h-1zM26 54h1v1h-1zM4 55h1v1h-1zM9 55h1v1h-1zM18 55h1v1h-1zM5 56h1v1h-1zM14 56h1v1h-1zM19 56h1v1h-1zM8 57h1v1h-1zM15 57h1v1h-1zM17 57h1v1h-1zM25 57h1v1h-1zM30 57h1v1h-1zM3 58h1v1h-1zM7 58h1v1h-1zM18 58h1v1h-1zM22 58h1v1h-1zM27 58h1v1h-1zM39 58h1v1h-1zM7 59h1v1h-1zM14 59h1v1h-1zM19 59h1v1h-1zM28 59h1v1h-1zM41 60h1v1h-1zM43 60h3v1h-3zM49 60h1v1h-1zM43 61h1v1h-1zM51 61h1v1h-1zM0 62h1v1h-1zM4 62h1v1h-1zM41 62h1v1h-1zM50 62h1v1h-1zM48 63h1v1h-1zM52 63h1v1h-1zM52 64h1v1h-1zM54 64h1v1h-1zM47 66h1v1h-1zM50 67h1v1h-1zM52 67h1v1h-1zM54 67h1v1h-1zM48 68h1v1h-1zM52 68h1v1h-1z"/>
<path fill="#044562" d="M25 22h1v1h-1zM15 23h1v1h-1zM25 23h1v1h-1zM29 23h1v1h-1zM35 23h1v1h-1zM20 24h1v1h-1zM22 24h3v1h-3zM28 24h1v1h-1zM12 25h1v1h-1zM22 25h1v1h-1zM25 25h1v1h-1zM32 25h2v1h-2zM15 26h1v1h-1zM19 26h1v1h-1zM22 26h1v1h-1zM25 26h1v1h-1zM37 26h1v1h-1zM47 26h1v1h-1zM8 27h1v1h-1zM13 27h1v1h-1zM18 27h1v1h-1zM26 27h1v1h-1zM29 27h1v1h-1zM37 27h1v1h-1zM14 28h2v1h-2zM25 28h1v1h-1zM27 28h1v1h-1zM29 28h2v1h-2zM35 28h1v1h-1zM37 28h1v1h-1zM12 29h1v1h-1zM29 29h1v1h-1zM10 30h1v1h-1zM32 30h2v1h-2zM46 30h3v1h-3zM14 31h1v1h-1zM20 31h1v1h-1zM22 31h1v1h-1zM27 31h1v1h-1zM35 31h2v1h-2zM39 31h1v1h-1zM41 31h1v1h-1zM43 31h1v1h-1zM46 31h3v1h-3zM17 32h1v1h-1zM19 32h1v1h-1zM22 32h1v1h-1zM30 32h1v1h-1zM34 32h1v1h-1zM37 32h1v1h-1zM42 32h1v1h-1zM46 32h2v1h-2zM50 32h1v1h-1zM11 33h1v1h-1zM15 33h1v1h-1zM35 33h2v1h-2zM45 33h1v1h-1zM47 33h1v1h-1zM50 33h1v1h-1zM2 34h1v1h-1zM27 34h2v1h-2zM31 34h1v1h-1zM45 34h1v1h-1zM48 34h1v1h-1zM50 34h1v1h-1zM2 35h2v1h-2zM20 35h1v1h-1zM22 35h1v1h-1zM49 35h1v1h-1zM13 36h1v1h-1zM22 36h1v1h-1zM11 37h1v1h-1zM18 37h1v1h-1zM36 37h1v1h-1zM40 37h1v1h-1zM48 37h1v1h-1zM53 37h1v1h-1zM2 38h1v1h-1zM23 38h1v1h-1zM26 38h1v1h-1zM29 38h1v1h-1zM50 38h1v1h-1zM52 38h2v1h-2zM55 38h1v1h-1zM58 38h2v1h-2zM3 39h1v1h-1zM18 39h1v1h-1zM26 39h3v1h-3zM33 39h1v1h-1zM52 39h6v1h-6zM6 40h1v1h-1zM16 40h1v1h-1zM19 40h1v1h-1zM24 40h1v1h-1zM32 40h1v1h-1zM53 40h1v1h-1zM55 40h1v1h-1zM12 41h1v1h-1zM24 41h1v1h-1zM27 41h1v1h-1zM29 41h1v1h-1zM9 42h2v1h-2zM12 42h1v1h-1zM15 42h1v1h-1zM24 42h2v1h-2zM33 42h1v1h-1zM27 43h1v1h-1zM29 43h1v1h-1zM32 43h1v1h-1zM20 44h1v1h-1zM15 45h1v1h-1zM18 45h2v1h-2zM4 46h1v1h-1zM17 46h1v1h-1zM20 46h1v1h-1zM27 46h1v1h-1zM28 47h1v1h-1zM37 47h1v1h-1zM9 48h1v1h-1zM20 48h1v1h-1zM26 48h1v1h-1zM31 48h1v1h-1zM2 49h1v1h-1zM4 49h1v1h-1zM10 49h1v1h-1zM14 49h2v1h-2zM23 49h1v1h-1zM10 50h1v1h-1zM14 50h1v1h-1zM20 50h1v1h-1zM26 50h1v1h-1zM20 51h1v1h-1zM24 51h1v1h-1zM33 51h1v1h-1zM17 52h1v1h-1zM20 53h1v1h-1zM22 53h1v1h-1zM27 53h1v1h-1zM29 53h2v1h-2zM7 54h1v1h-1zM27 54h1v1h-1zM30 54h1v1h-1zM39 54h1v1h-1zM22 55h1v1h-1zM24 55h2v1h-2zM3 56h1v1h-1zM8 56h1v1h-1zM21 56h1v1h-1zM23 56h1v1h-1zM27 56h1v1h-1zM30 56h2v1h-2zM35 56h1v1h-1zM6 57h1v1h-1zM26 57h1v1h-1zM34 57h1v1h-1zM6 58h1v1h-1zM28 58h1v1h-1zM38 58h1v1h-1zM24 59h1v1h-1zM40 59h1v1h-1zM3 60h1v1h-1zM37 60h2v1h-2zM42 60h1v1h-1zM50 60h1v1h-1zM1 61h3v1h-3zM49 62h1v1h-1zM45 63h1v1h-1zM53 64h1v1h-1zM52 66h1v1h-1zM54 66h1v1h-1zM55 67h1v1h-1z"/>
<path fill="#074c5c" d="M26 24h1v1h-1zM34 24h1v1h-1zM37 24h1v1h-1zM21 25h1v1h-1zM29 25h1v1h-1zM28 26h2v1h-2zM33 26h1v1h-1zM36 26h1v1h-1zM10 27h2v1h-2zM28 27h1v1h-1zM10 28h1v1h-1zM23 29h1v1h-1zM33 29h2v1h-2zM36 29h1v1h-1zM22 30h1v1h-1zM28 30h1v1h-1zM30 30h2v1h-2zM37 30h1v1h-1zM8 31h1v1h-1zM11 31h2v1h-2zM16 31h1v1h-1zM37 31h1v1h-1zM40 31h1v1h-1zM5 32h1v1h-1zM16 32h1v1h-1zM35 32h1v1h-1zM43 32h1v1h-1zM45 32h1v1h-1zM17 33h2v1h-2zM34 33h1v1h-1zM43 33h1v1h-1zM49 33h1v1h-1zM17 34h1v1h-1zM23 34h1v1h-1zM32 34h1v1h-1zM34 34h2v1h-2zM49 34h1v1h-1zM51 34h1v1h-1zM7 35h3v1h-3zM18 35h1v1h-1zM26 35h1v1h-1zM29 35h1v1h-1zM34 35h1v1h-1zM40 35h1v1h-1zM45 35h3v1h-3zM50 35h2v1h-2zM9 36h1v1h-1zM24 36h1v1h-1zM30 36h1v1h-1zM32 36h1v1h-1zM38 36h1v1h-1zM44 36h1v1h-1zM47 36h5v1h-5zM21 37h1v1h-1zM27 37h1v1h-1zM29 37h2v1h-2zM32 37h1v1h-1zM43 37h2v1h-2zM47 37h1v1h-1zM50 37h1v1h-1zM4 38h1v1h-1zM16 38h1v1h-1zM22 38h1v1h-1zM33 38h2v1h-2zM36 38h1v1h-1zM40 38h1v1h-1zM49 38h1v1h-1zM60 38h1v1h-1zM5 39h1v1h-1zM8 39h1v1h-1zM17 39h1v1h-1zM19 39h2v1h-2zM40 39h1v1h-1zM44 39h1v1h-1zM51 39h1v1h-1zM58 39h3v1h-3zM20 40h1v1h-1zM31 40h1v1h-1zM56 40h2v1h-2zM10 41h1v1h-1zM22 41h1v1h-1zM31 41h1v1h-1zM41 41h1v1h-1zM48 41h1v1h-1zM54 41h2v1h-2zM11 42h1v1h-1zM22 42h1v1h-1zM26 42h1v1h-1zM30 42h1v1h-1zM34 42h2v1h-2zM5 43h1v1h-1zM23 43h1v1h-1zM30 43h1v1h-1zM4 44h1v1h-1zM9 44h1v1h-1zM19 44h1v1h-1zM34 44h1v1h-1zM13 45h1v1h-1zM23 45h1v1h-1zM32 45h1v1h-1zM35 45h1v1h-1zM1 46h1v1h-1zM12 46h1v1h-1zM18 46h1v1h-1zM24 46h3v1h-3zM37 46h1v1h-1zM19 47h1v1h-1zM30 47h2v1h-2zM1 48h1v1h-1zM23 48h2v1h-2zM27 48h1v1h-1zM35 48h1v1h-1zM18 49h1v1h-1zM27 49h1v1h-1zM35 49h1v1h-1zM11 50h1v1h-1zM18 50h2v1h-2zM30 50h1v1h-1zM34 50h2v1h-2zM10 51h1v1h-1zM17 51h1v1h-1zM26 51h1v1h-1zM16 52h1v1h-1zM24 52h1v1h-1zM36 52h1v1h-1zM5 53h1v1h-1zM14 53h1v1h-1zM9 54h1v1h-1zM12 54h1v1h-1zM25 54h1v1h-1zM29 54h1v1h-1zM3 55h1v1h-1zM6 55h1v1h-1zM16 55h1v1h-1zM27 55h1v1h-1zM10 56h1v1h-1zM18 56h1v1h-1zM24 56h2v1h-2zM29 56h1v1h-1zM23 57h1v1h-1zM28 57h1v1h-1zM32 57h1v1h-1zM37 57h1v1h-1zM13 58h2v1h-2zM30 58h1v1h-1zM33 58h2v1h-2zM37 58h1v1h-1zM38 59h1v1h-1zM41 59h2v1h-2zM44 59h1v1h-1zM47 59h1v1h-1zM48 60h1v1h-1zM52 60h1v1h-1zM46 61h1v1h-1zM44 62h1v1h-1zM52 62h2v1h-2zM51 63h1v1h-1zM49 65h1v1h-1zM51 65h1v1h-1zM54 65h1v1h-1zM55 66h1v1h-1zM53 68h1v1h-1zM49 69h1v1h-1z"/>
<path fill="#0a5355" d="M28 23h1v1h-1zM35 24h1v1h-1zM27 26h1v1h-1zM25 27h1v1h-1zM20 28h1v1h-1zM23 28h2v1h-2zM34 28h1v1h-1zM6 29h1v1h-1zM11 29h1v1h-1zM24 29h1v1h-1zM7 30h1v1h-1zM18 30h1v1h-1zM26 30h1v1h-1zM35 30h1v1h-1zM28 31h2v1h-2zM31 31h1v1h-1zM38 31h1v1h-1zM14 32h1v1h-1zM20 32h1v1h-1zM28 32h1v1h-1zM31 32h1v1h-1zM36 32h1v1h-1zM49 32h1v1h-1zM44 33h1v1h-1zM3 34h1v1h-1zM6 34h2v1h-2zM24 34h1v1h-1zM26 34h1v1h-1zM30 34h1v1h-1zM42 34h1v1h-1zM46 34h1v1h-1zM0 35h1v1h-1zM12 35h1v1h-1zM36 35h4v1h-4zM48 35h1v1h-1zM2 36h1v1h-1zM4 36h2v1h-2zM7 36h1v1h-1zM16 36h1v1h-1zM23 36h1v1h-1zM28 36h1v1h-1zM33 36h1v1h-1zM16 37h1v1h-1zM26 37h1v1h-1zM34 37h1v1h-1zM45 37h1v1h-1zM51 37h1v1h-1zM5 38h1v1h-1zM27 38h1v1h-1zM30 38h1v1h-1zM38 38h1v1h-1zM45 38h2v1h-2zM48 38h1v1h-1zM9 39h1v1h-1zM23 39h1v1h-1zM38 39h1v1h-1zM46 39h2v1h-2zM7 40h1v1h-1zM14 40h2v1h-2zM18 40h1v1h-1zM21 40h2v1h-2zM34 40h1v1h-1zM51 40h1v1h-1zM58 40h1v1h-1zM5 41h1v1h-1zM9 41h1v1h-1zM26 41h1v1h-1zM33 41h2v1h-2zM56 41h1v1h-1zM7 42h1v1h-1zM19 42h1v1h-1zM28 42h1v1h-1zM32 42h1v1h-1zM38 42h1v1h-1zM55 42h1v1h-1zM16 43h1v1h-1zM24 43h1v1h-1zM33 43h1v1h-1zM52 43h1v1h-1zM25 44h2v1h-2zM29 44h1v1h-1zM32 44h2v1h-2zM38 44h1v1h-1zM51 44h1v1h-1zM2 45h1v1h-1zM5 46h1v1h-1zM32 46h1v1h-1zM35 46h1v1h-1zM42 46h1v1h-1zM32 47h3v1h-3zM36 47h1v1h-1zM2 48h2v1h-2zM21 48h1v1h-1zM25 48h1v1h-1zM28 48h2v1h-2zM34 48h1v1h-1zM39 48h1v1h-1zM19 49h1v1h-1zM25 49h2v1h-2zM31 49h1v1h-1zM21 50h1v1h-1zM23 50h2v1h-2zM27 50h1v1h-1zM29 50h1v1h-1zM33 50h1v1h-1zM37 50h1v1h-1zM14 51h1v1h-1zM18 51h1v1h-1zM23 51h1v1h-1zM27 51h2v1h-2zM35 51h1v1h-1zM6 52h1v1h-1zM19 52h1v1h-1zM28 52h1v1h-1zM33 52h1v1h-1zM6 53h1v1h-1zM16 53h1v1h-1zM19 53h1v1h-1zM15 54h1v1h-1zM22 54h1v1h-1zM24 54h1v1h-1zM36 54h1v1h-1zM28 55h2v1h-2zM34 55h1v1h-1zM37 55h1v1h-1zM16 56h1v1h-1zM32 56h2v1h-2zM39 56h1v1h-1zM4 57h1v1h-1zM9 57h1v1h-1zM12 57h1v1h-1zM33 57h1v1h-1zM36 57h1v1h-1zM15 58h1v1h-1zM43 58h1v1h-1zM48 58h2v1h-2zM2 59h1v1h-1zM4 59h1v1h-1zM43 59h1v1h-1zM4 60h1v1h-1zM47 60h1v1h-1zM51 60h1v1h-1zM53 60h1v1h-1zM44 61h2v1h-2zM1 62h1v1h-1zM55 62h1v1h-1zM55 64h2v1h-2zM56 65h1v1h-1zM56 66h1v1h-1zM56 67h1v1h-1z"/>
<path fill="#0d5a4f" d="M30 25h1v1h-1zM32 26h1v1h-1zM24 27h1v1h-1zM9 28h1v1h-1zM13 28h1v1h-1zM7 29h1v1h-1zM15 30h1v1h-1zM27 30h1v1h-1zM34 30h1v1h-1zM17 31h1v1h-1zM21 31h1v1h-1zM3 32h1v1h-1zM8 32h2v1h-2zM18 32h1v1h-1zM23 32h1v1h-1zM25 32h1v1h-1zM48 32h1v1h-1zM10 33h1v1h-1zM14 33h1v1h-1zM16 33h1v1h-1zM22 33h1v1h-1zM10 34h1v1h-1zM12 34h1v1h-1zM43 34h1v1h-1zM1 35h1v1h-1zM16 35h2v1h-2zM25 35h1v1h-1zM32 35h1v1h-1zM41 35h3v1h-3zM8 36h1v1h-1zM26 36h1v1h-1zM39 36h3v1h-3zM43 36h1v1h-1zM4 37h1v1h-1zM8 37h2v1h-2zM12 37h1v1h-1zM14 37h1v1h-1zM22 37h1v1h-1zM39 37h1v1h-1zM41 37h1v1h-1zM46 37h1v1h-1zM17 38h1v1h-1zM19 38h1v1h-1zM31 38h1v1h-1zM41 38h1v1h-1zM51 38h1v1h-1zM1 39h1v1h-1zM6 39h1v1h-1zM32 39h1v1h-1zM34 39h1v1h-1zM36 39h1v1h-1zM43 39h1v1h-1zM45 39h1v1h-1zM50 39h1v1h-1zM33 40h1v1h-1zM38 40h3v1h-3zM45 40h1v1h-1zM50 40h1v1h-1zM8 41h1v1h-1zM18 41h1v1h-1zM20 41h1v1h-1zM32 41h1v1h-1zM39 41h1v1h-1zM42 41h2v1h-2zM45 41h1v1h-1zM49 41h3v1h-3zM58 41h1v1h-1zM4 42h1v1h-1zM39 42h1v1h-1zM41 42h2v1h-2zM50 42h2v1h-2zM56 42h1v1h-1zM28 43h1v1h-1zM38 43h2v1h-2zM36 44h1v1h-1zM6 45h1v1h-1zM30 45h1v1h-1zM37 45h2v1h-2zM8 46h2v1h-2zM22 46h1v1h-1zM31 46h1v1h-1zM10 47h1v1h-1zM12 47h1v1h-1zM15 47h1v1h-1zM26 47h1v1h-1zM35 47h1v1h-1zM38 47h1v1h-1zM40 47h1v1h-1zM19 48h1v1h-1zM33 48h1v1h-1zM20 49h1v1h-1zM33 49h1v1h-1zM28 50h1v1h-1zM32 50h1v1h-1zM39 50h1v1h-1zM30 51h1v1h-1zM39 51h1v1h-1zM25 52h1v1h-1zM32 52h1v1h-1zM35 52h1v1h-1zM25 53h1v1h-1zM32 53h2v1h-2zM37 53h2v1h-2zM5 54h1v1h-1zM16 54h1v1h-1zM28 54h1v1h-1zM38 54h1v1h-1zM11 55h1v1h-1zM30 55h1v1h-1zM32 55h1v1h-1zM4 56h1v1h-1zM27 57h1v1h-1zM35 57h1v1h-1zM39 59h1v1h-1zM45 59h2v1h-2zM48 59h3v1h-3zM54 61h1v1h-1zM51 62h1v1h-1zM54 62h1v1h-1zM54 63h1v1h-1zM51 64h1v1h-1zM53 66h1v1h-1zM53 67h1v1h-1z"/>
<path fill="#106149" d="M16 28h3v1h-3zM22 28h1v1h-1zM17 29h1v1h-1zM26 29h1v1h-1zM29 30h1v1h-1zM7 32h1v1h-1zM2 33h1v1h-1zM4 33h1v1h-1zM20 33h1v1h-1zM23 33h2v1h-2zM9 34h1v1h-1zM15 34h1v1h-1zM29 34h1v1h-1zM44 34h1v1h-1zM4 35h1v1h-1zM14 35h1v1h-1zM21 35h1v1h-1zM24 35h1v1h-1zM28 35h1v1h-1zM10 36h1v1h-1zM18 36h3v1h-3zM25 36h1v1h-1zM34 36h1v1h-1zM37 36h1v1h-1zM42 36h1v1h-1zM45 36h2v1h-2zM19 37h1v1h-1zM37 37h2v1h-2zM42 37h1v1h-1zM7 38h1v1h-1zM13 38h1v1h-1zM18 38h1v1h-1zM37 38h1v1h-1zM42 38h2v1h-2zM47 38h1v1h-1zM39 39h1v1h-1zM42 39h1v1h-1zM49 39h1v1h-1zM5 40h1v1h-1zM9 40h1v1h-1zM26 40h1v1h-1zM36 40h1v1h-1zM42 40h1v1h-1zM46 40h1v1h-1zM48 40h1v1h-1zM21 41h1v1h-1zM35 41h1v1h-1zM37 41h1v1h-1zM40 41h1v1h-1zM44 41h1v1h-1zM40 42h1v1h-1zM57 42h1v1h-1zM13 43h1v1h-1zM34 43h1v1h-1zM45 43h1v1h-1zM48 43h1v1h-1zM24 44h1v1h-1zM39 44h1v1h-1zM48 44h1v1h-1zM52 44h3v1h-3zM33 45h1v1h-1zM39 45h1v1h-1zM45 45h1v1h-1zM39 46h1v1h-1zM49 46h2v1h-2zM18 47h1v1h-1zM23 47h1v1h-1zM29 47h1v1h-1zM22 48h1v1h-1zM30 48h1v1h-1zM38 48h1v1h-1zM34 49h1v1h-1zM38 49h1v1h-1zM3 50h1v1h-1zM31 50h1v1h-1zM36 50h1v1h-1zM34 51h1v1h-1zM38 51h1v1h-1zM40 51h1v1h-1zM23 52h1v1h-1zM29 52h2v1h-2zM37 52h1v1h-1zM32 54h2v1h-2zM35 54h1v1h-1zM42 54h1v1h-1zM31 55h1v1h-1zM33 55h1v1h-1zM35 55h1v1h-1zM38 55h1v1h-1zM26 56h1v1h-1zM34 56h1v1h-1zM38 56h1v1h-1zM46 57h1v1h-1zM36 58h1v1h-1zM41 58h2v1h-2zM45 58h3v1h-3zM50 58h1v1h-1zM6 59h1v1h-1zM52 59h1v1h-1zM54 60h1v1h-1zM55 61h1v1h-1zM55 63h1v1h-1zM55 65h1v1h-1z"/>
<path fill="#136842" d="M30 29h1v1h-1zM6 31h1v1h-1zM15 31h1v1h-1zM4 32h1v1h-1zM11 32h1v1h-1zM15 32h1v1h-1zM5 33h1v1h-1zM9 33h1v1h-1zM25 33h1v1h-1zM38 33h1v1h-1zM11 34h1v1h-1zM22 34h1v1h-1zM5 35h1v1h-1zM23 35h1v1h-1zM44 35h1v1h-1zM36 36h1v1h-1zM3 37h1v1h-1zM5 37h1v1h-1zM10 37h1v1h-1zM24 37h1v1h-1zM0 38h1v1h-1zM6 38h1v1h-1zM11 38h2v1h-2zM28 38h1v1h-1zM39 38h1v1h-1zM44 38h1v1h-1zM41 39h1v1h-1zM48 39h1v1h-1zM1 40h2v1h-2zM27 40h1v1h-1zM49 40h1v1h-1zM46 41h2v1h-2zM27 42h1v1h-1zM44 42h2v1h-2zM47 42h2v1h-2zM35 43h1v1h-1zM40 43h2v1h-2zM44 43h1v1h-1zM49 43h1v1h-1zM51 43h1v1h-1zM1 44h1v1h-1zM42 44h2v1h-2zM45 44h1v1h-1zM47 44h1v1h-1zM49 44h1v1h-1zM14 45h1v1h-1zM34 45h1v1h-1zM40 45h1v1h-1zM42 45h3v1h-3zM49 45h2v1h-2zM52 45h1v1h-1zM34 46h1v1h-1zM38 46h1v1h-1zM41 46h1v1h-1zM43 46h1v1h-1zM47 46h2v1h-2zM39 47h1v1h-1zM47 47h3v1h-3zM32 48h1v1h-1zM36 48h2v1h-2zM40 48h1v1h-1zM44 48h1v1h-1zM46 48h1v1h-1zM48 48h2v1h-2zM39 49h1v1h-1zM46 49h1v1h-1zM44 50h2v1h-2zM36 51h1v1h-1zM41 51h1v1h-1zM44 51h1v1h-1zM38 52h4v1h-4zM31 53h1v1h-1zM36 53h1v1h-1zM41 53h1v1h-1zM31 54h1v1h-1zM34 54h1v1h-1zM37 54h1v1h-1zM41 54h1v1h-1zM39 55h1v1h-1zM43 55h1v1h-1zM36 56h1v1h-1zM40 56h4v1h-4zM48 56h2v1h-2zM39 57h3v1h-3zM44 57h1v1h-1zM47 57h1v1h-1zM40 58h1v1h-1zM51 59h1v1h-1zM53 59h1v1h-1zM55 60h1v1h-1zM56 63h1v1h-1zM57 66h1v1h-1zM57 67h1v1h-1z"/>
<path fill="#166f3c" d="M6 30h1v1h-1zM14 30h1v1h-1zM6 32h1v1h-1zM21 32h1v1h-1zM6 33h1v1h-1zM1 34h1v1h-1zM15 35h1v1h-1zM17 36h1v1h-1zM1 37h1v1h-1zM35 38h1v1h-1zM10 39h1v1h-1zM12 39h1v1h-1zM31 39h1v1h-1zM41 40h1v1h-1zM44 40h1v1h-1zM38 41h1v1h-1zM3 42h1v1h-1zM36 42h2v1h-2zM46 42h1v1h-1zM49 42h1v1h-1zM42 43h2v1h-2zM46 43h1v1h-1zM50 43h1v1h-1zM40 44h1v1h-1zM46 44h1v1h-1zM50 44h1v1h-1zM41 45h1v1h-1zM46 45h2v1h-2zM51 45h1v1h-1zM54 45h1v1h-1zM21 46h1v1h-1zM40 46h1v1h-1zM44 46h3v1h-3zM51 46h1v1h-1zM41 47h2v1h-2zM46 47h1v1h-1zM50 47h1v1h-1zM52 47h1v1h-1zM11 48h1v1h-1zM41 48h1v1h-1zM45 48h1v1h-1zM47 48h1v1h-1zM51 48h1v1h-1zM30 49h1v1h-1zM32 49h1v1h-1zM36 49h1v1h-1zM41 49h2v1h-2zM44 49h2v1h-2zM47 49h2v1h-2zM38 50h1v1h-1zM42 50h2v1h-2zM48 50h1v1h-1zM42 51h2v1h-2zM45 51h1v1h-1zM47 51h1v1h-1zM45 52h1v1h-1zM28 53h1v1h-1zM34 53h1v1h-1zM39 53h1v1h-1zM44 53h2v1h-2zM40 54h1v1h-1zM43 54h4v1h-4zM17 55h1v1h-1zM40 55h3v1h-3zM44 55h2v1h-2zM47 55h1v1h-1zM37 56h1v1h-1zM44 56h1v1h-1zM46 56h2v1h-2zM51 56h1v1h-1zM42 57h2v1h-2zM45 57h1v1h-1zM49 57h2v1h-2zM44 58h1v1h-1zM56 60h1v1h-1zM56 62h1v1h-1z"/>
<path fill="#197635" d="M21 29h1v1h-1zM7 33h1v1h-1zM11 36h1v1h-1zM15 37h1v1h-1zM17 37h1v1h-1zM25 37h1v1h-1zM15 38h1v1h-1zM0 39h1v1h-1zM35 39h1v1h-1zM43 40h1v1h-1zM43 42h1v1h-1zM26 43h1v1h-1zM37 43h1v1h-1zM31 44h1v1h-1zM44 44h1v1h-1zM48 45h1v1h-1zM57 45h1v1h-1zM33 46h1v1h-1zM43 47h3v1h-3zM51 47h1v1h-1zM4 48h1v1h-1zM42 48h2v1h-2zM50 48h1v1h-1zM54 48h1v1h-1zM37 49h1v1h-1zM40 49h1v1h-1zM43 49h1v1h-1zM49 49h4v1h-4zM40 50h2v1h-2zM46 50h2v1h-2zM50 50h1v1h-1zM54 50h1v1h-1zM32 51h1v1h-1zM37 51h1v1h-1zM46 51h1v1h-1zM31 52h1v1h-1zM42 52h1v1h-1zM44 52h1v1h-1zM46 52h1v1h-1zM40 53h1v1h-1zM42 53h1v1h-1zM46 53h2v1h-2zM51 53h1v1h-1zM55 53h1v1h-1zM48 54h1v1h-1zM46 55h1v1h-1zM48 55h3v1h-3zM45 56h1v1h-1zM38 57h1v1h-1zM48 57h1v1h-1zM51 57h1v1h-1zM52 58h1v1h-1zM55 58h2v1h-2zM57 60h1v1h-1zM56 61h2v1h-2zM57 62h1v1h-1zM57 63h1v1h-1zM57 64h1v1h-1zM57 65h2v1h-2zM58 66h1v1h-1zM58 67h1v1h-1z"/>
<path fill="#1c7d2f" d="M27 29h1v1h-1zM11 35h1v1h-1zM25 39h1v1h-1zM12 40h1v1h-1zM37 40h1v1h-1zM47 43h1v1h-1zM35 44h1v1h-1zM41 44h1v1h-1zM30 46h1v1h-1zM36 46h1v1h-1zM55 47h1v1h-1zM61 47h1v1h-1zM53 48h1v1h-1zM55 48h1v1h-1zM54 49h2v1h-2zM60 49h1v1h-1zM49 50h1v1h-1zM51 50h3v1h-3zM57 50h1v1h-1zM31 51h1v1h-1zM48 51h5v1h-5zM54 51h2v1h-2zM58 51h1v1h-1zM43 52h1v1h-1zM47 52h2v1h-2zM50 52h7v1h-7zM35 53h1v1h-1zM43 53h1v1h-1zM48 53h2v1h-2zM47 54h1v1h-1zM49 54h1v1h-1zM51 54h4v1h-4zM56 54h1v1h-1zM58 54h1v1h-1zM51 55h3v1h-3zM55 55h3v1h-3zM50 56h1v1h-1zM53 56h1v1h-1zM56 56h1v1h-1zM52 57h2v1h-2zM55 57h4v1h-4zM53 58h1v1h-1zM57 58h1v1h-1zM54 59h3v1h-3zM58 59h1v1h-1zM69 59h1v1h-1zM58 60h1v1h-1zM58 62h1v1h-1zM59 64h1v1h-1zM59 66h1v1h-1z"/>
<path fill="#1f8428" d="M8 33h1v1h-1zM9 38h1v1h-1zM24 38h1v1h-1zM37 39h1v1h-1zM23 42h1v1h-1zM36 43h1v1h-1zM37 44h1v1h-1zM64 47h1v1h-1zM56 48h1v1h-1zM60 48h6v1h-6zM53 49h1v1h-1zM56 49h1v1h-1zM59 49h1v1h-1zM61 49h3v1h-3zM65 49h1v1h-1zM55 50h2v1h-2zM58 50h1v1h-1zM60 50h6v1h-6zM53 51h1v1h-1zM56 51h1v1h-1zM59 51h5v1h-5zM49 52h1v1h-1zM57 52h6v1h-6zM52 53h2v1h-2zM56 53h2v1h-2zM59 53h1v1h-1zM50 54h1v1h-1zM57 54h1v1h-1zM70 54h1v1h-1zM74 54h1v1h-1zM54 55h1v1h-1zM58 55h1v1h-1zM67 55h1v1h-1zM70 55h2v1h-2zM52 56h1v1h-1zM55 56h1v1h-1zM57 56h3v1h-3zM66 56h4v1h-4zM71 56h1v1h-1zM54 57h1v1h-1zM59 57h2v1h-2zM66 57h6v1h-6zM58 58h3v1h-3zM63 58h1v1h-1zM66 58h1v1h-1zM68 58h4v1h-4zM57 59h1v1h-1zM59 59h5v1h-5zM65 59h4v1h-4zM70 59h3v1h-3zM59 60h1v1h-1zM61 60h9v1h-9zM71 60h3v1h-3zM59 61h5v1h-5zM65 61h4v1h-4zM70 61h1v1h-1zM72 61h2v1h-2zM59 62h5v1h-5zM65 62h5v1h-5zM71 62h3v1h-3zM58 63h8v1h-8zM67 63h6v1h-6zM58 64h1v1h-1zM60 64h2v1h-2zM64 64h1v1h-1zM66 64h1v1h-1zM68 64h2v1h-2zM71 64h1v1h-1zM59 65h3v1h-3zM63 65h8v1h-8zM64 66h2v1h-2zM67 66h3v1h-3zM72 66h1v1h-1zM65 67h1v1h-1zM67 67h3v1h-3zM67 68h3v1h-3zM68 69h1v1h-1z"/>
<path fill="#228b22" d="M1 33h1v1h-1zM10 35h1v1h-1zM27 36h1v1h-1zM36 45h1v1h-1zM59 50h1v1h-1zM54 53h1v1h-1zM58 53h1v1h-1zM55 54h1v1h-1zM54 56h1v1h-1zM67 58h1v1h-1zM60 60h1v1h-1zM70 60h1v1h-1zM71 61h1v1h-1z"/>
</g>
<path d="M798.99 993.54 799.01 993.56 815.16 993.56 831.31 993.56 847.45 1006.83 847.47 1006.84 863.61 1020.12 847.47 1033.39 831.31 1033.4 831.31 1033.4 831.31 1033.41 847.45 1046.69 831.31 1059.96 815.18 1046.69 815.16 1046.68 815.14 1046.69 799.01 1059.96 799 1059.97 799 1073.26 799 1086.55 799.01 1086.55 815.16 1086.56 831.31 1086.55 847.46 1099.83 847.47 1099.84 847.47 1099.83 863.62 1086.55 879.77 1099.83 879.77 1099.83 895.93 1099.83 895.93 1099.83 895.93 1099.83 879.78 1086.55 879.77 1086.54 863.63 1073.26 863.64 1059.97 879.77 1046.7 895.91 1059.97 895.93 1059.99 912.08 1059.99 928.23 1059.99 928.24 1059.97 928.24 1046.69 944.38 1033.41 944.39 1033.4 960.54 1020.12 976.69 1020.13 992.83 1033.4 992.84 1033.41 1009 1033.41 1025.14 1046.69 1025.15 1046.69 1041.3 1046.7 1057.44 1059.97 1057.46 1059.99 1073.59 1073.26 1073.6 1086.55 1073.61 1086.55 1073.62 1086.55 1073.62 1073.26 1073.62 1059.97 1089.76 1046.7 1105.91 1046.7 1122.05 1059.97 1122.07 1059.98 1138.22 1073.26 1138.22 1073.27 1138.23 1073.26 1154.37 1059.98 1154.38 1059.97 1170.53 1046.69 1186.68 1046.69 1202.83 1046.69 1218.99 1046.69 1235.13 1059.97 1235.14 1059.98 1251.29 1059.98 1267.44 1059.98 1267.45 1059.97 1267.44 1059.97 1251.29 1046.69 1267.44 1033.4 1283.6 1033.4 1299.75 1033.41 1315.9 1033.41 1332.04 1046.69 1332.05 1059.97 1332.06 1059.99 1332.06 1059.97 1348.21 1046.69 1364.35 1059.97 1348.21 1073.25 1348.19 1073.26 1348.21 1073.26 1364.36 1073.27 1364.37 1073.26 1364.37 1059.97 1380.52 1046.69 1380.52 1046.69 1396.67 1033.41 1412.82 1033.41 1428.97 1046.69 1428.97 1046.69 1428.98 1046.69 1428.98 1033.4 1445.13 1020.12 1461.28 1020.13 1477.42 1033.4 1461.28 1046.67 1461.28 1046.69 1461.28 1046.7 1477.43 1046.69 1477.44 1046.69 1493.59 1033.41 1509.73 1046.69 1509.74 1046.7 1525.89 1046.69 1542.04 1059.97 1542.04 1073.26 1525.89 1086.54 1509.74 1086.53 1493.59 1086.54 1493.58 1086.55 1477.43 1099.83 1461.28 1099.83 1461.26 1099.83 1461.28 1113.12 1461.28 1126.4 1445.13 1139.68 1428.97 1139.68 1428.97 1139.69 1412.82 1152.97 1412.81 1152.97 1412.82 1152.98 1428.97 1166.26 1412.82 1179.55 1412.82 1179.55 1396.67 1192.83 1380.52 1192.82 1380.5 1192.83 1380.52 1192.84 1396.67 1192.83 1412.82 1192.84 1428.97 1192.85 1445.13 1192.85 1445.13 1192.83 1461.28 1179.55 1477.43 1192.83 1477.43 1192.84 1493.58 1206.12 1493.59 1206.12 1509.73 1219.4 1509.74 1219.41 1509.74 1219.4 1525.89 1206.12 1525.9 1206.12 1542.05 1192.84 1542.05 1192.83 1558.2 1179.55 1574.35 1192.83 1574.35 1192.84 1590.5 1192.84 1606.66 1192.85 1622.81 1192.84 1638.96 1192.84 1638.98 1192.83 1638.96 1192.83 1622.82 1179.55 1638.96 1166.27 1655.11 1179.55 1655.12 1179.56 1671.27 1179.56 1671.27 1179.55 1671.27 1166.26 1671.27 1166.25 1655.13 1152.97 1655.12 1139.69 1671.27 1126.41 1671.27 1126.4 1687.42 1113.12 1703.58 1113.13 1719.71 1126.4 1719.73 1126.41 1735.88 1126.41 1752.03 1126.41 1768.18 1139.69 1768.19 1139.7 1768.2 1139.69 1784.34 1126.42M863.64 1006.83 879.77 993.56 895.91 1006.83 895.93 1006.84 912.07 1020.12 912.08 1020.13 928.22 1033.4 928.22 1046.69 912.08 1059.96 895.94 1046.69 895.93 1046.67 879.79 1033.4 879.77 1033.39 863.64 1020.12ZM928.24 1006.83 944.38 993.55 960.53 1006.83 944.38 1020.11ZM572.87 1033.39 572.86 1033.4 572.86 1046.69 572.87 1046.7 589 1059.97 589.02 1059.99 589.03 1059.97 589.03 1046.69 589.02 1046.67 572.88 1033.4ZM960.54 1046.68 960.53 1046.69 960.53 1059.97 960.54 1059.98 960.55 1059.97 960.54 1046.69ZM556.71 1059.97 556.7 1059.97 556.7 1073.26 556.71 1073.27 556.72 1073.26 556.73 1059.97ZM621.32 1059.97 621.31 1059.97 621.32 1073.26 621.32 1073.26 621.33 1073.26 621.33 1059.97ZM524.41 1099.82 524.39 1099.83 524.4 1113.12 508.25 1126.4 508.25 1126.4 508.25 1126.42 524.41 1126.41 524.42 1126.4 524.41 1113.12 524.42 1099.83ZM1299.75 1113.11 1299.75 1113.12 1299.74 1126.4 1299.75 1126.4 1299.75 1126.4 1299.75 1113.12ZM1784.34 1152.96 1784.32 1152.97 1784.33 1166.26 1784.32 1179.55 1768.19 1192.82 1752.05 1179.55 1752.03 1179.53 1735.9 1166.26 1735.88 1166.25 1735.87 1166.26 1735.88 1179.55 1735.88 1179.56 1752.02 1192.83 1735.88 1206.11 1735.87 1206.12 1735.87 1219.4 1719.73 1232.68 1719.72 1232.69 1719.73 1232.7 1735.87 1245.98 1735.87 1259.26 1719.73 1272.54 1719.71 1272.55 1719.72 1285.84 1703.58 1299.12 1687.42 1299.11 1671.29 1285.84 1671.27 1285.83 1671.27 1285.84 1655.12 1299.12 1655.11 1299.12 1655.11 1312.41 1638.96 1325.69 1622.81 1325.69 1622.81 1325.69 1606.66 1338.97 1606.65 1338.98 1606.65 1352.26 1590.5 1365.55 1590.5 1365.55 1590.5 1378.84 1590.5 1392.12 1590.5 1405.41 1590.5 1418.69 1574.35 1431.98 1558.2 1431.98 1558.18 1431.98 1542.05 1445.25 1542.03 1445.27 1525.89 1458.54 1509.74 1458.55 1493.59 1445.27 1493.59 1445.26 1477.43 1445.26 1477.43 1445.27 1461.28 1458.55 1461.28 1458.55 1445.13 1471.83 1445.13 1471.84 1428.97 1485.12 1412.82 1485.12 1396.67 1485.12 1380.52 1471.84 1380.52 1471.83 1364.36 1471.84 1348.21 1471.84 1332.06 1471.83 1315.9 1471.84 1299.75 1471.84 1283.6 1458.55 1283.6 1458.55 1267.44 1458.55 1267.44 1458.55 1267.44 1471.84 1267.44 1485.12 1267.44 1485.13 1283.6 1485.13 1299.75 1485.13 1315.9 1485.13 1332.06 1485.13 1348.2 1498.41 1348.21 1511.7 1332.06 1524.98 1315.9 1524.98 1315.89 1524.98 1315.89 1538.27 1299.75 1551.54 1299.74 1551.56 1283.6 1564.83 1267.44 1564.84 1251.29 1564.84 1235.14 1551.55 1235.14 1551.55 1218.99 1538.27 1218.99 1538.27 1202.83 1524.98 1202.83 1524.98 1202.83 1524.98 1202.82 1538.27 1202.83 1551.55 1202.83 1551.56 1218.98 1564.84 1218.99 1564.85 1235.14 1564.85 1251.28 1578.13 1251.29 1591.41 1235.14 1604.69 1218.99 1591.41 1218.99 1591.41 1218.98 1591.41 1202.83 1604.7 1202.83 1604.7 1202.83 1604.7 1218.98 1617.99 1218.99 1617.99 1235.14 1617.99 1235.14 1617.99 1251.29 1604.7 1267.44 1617.99 1267.44 1617.99 1283.59 1631.27 1283.59 1644.56 1283.6 1644.56 1299.75 1644.56 1299.76 1644.56 1315.9 1631.28 1315.91 1631.27 1332.06 1617.99 1332.06 1617.99 1348.21 1604.7 1364.36 1617.99 1364.36 1617.99 1380.52 1617.99 1380.52 1617.99 1396.67 1604.71 1412.81 1617.99 1412.82 1618 1428.96 1631.27 1428.97 1644.56 1428.96 1657.84 1412.82 1671.12 1396.67 1671.13 1396.67 1671.13 1380.52 1684.41 1380.51 1684.41 1364.36 1697.7 1348.21 1697.7 1332.06 1697.7 1332.05 1697.7 1315.9 1710.98 1315.9 1710.99 1315.89 1724.27 1315.9 1724.28 1332.05 1737.56 1332.06 1737.56 1348.21 1750.84 1348.2 1764.13 1348.21 1764.13 1364.36 1764.14 1364.37 1764.13 1380.52 1750.85 1396.67 1764.13 1396.65 1777.42 1396.67 1777.42 1396.68 1777.42 1412.82 1764.14 1412.83 1764.13 1412.82 1750.84 1412.84 1737.56 1428.97 1724.29 1428.99 1724.27 1445.13 1711 1461.26 1724.27 1461.28 1724.28 1477.43 1724.28 1477.45 1724.27 1477.44 1710.99 1493.59 1697.71 1509.73 1710.99 1509.74 1711 1525.88 1724.27 1525.89 1737.56 1525.89 1750.84 1525.89 1764.13 1525.89 1764.13 1542.04 1777.42 1542.05 1777.42 1558.19 1790.7 1558.19 1803.99 1558.2 1817.28 1542.05 1830.56 1542.04 1830.56 1525.89 1843.84 1525.89 1843.85 1509.74 1857.13 1509.72 1857.13 1493.59 1870.41 1493.57 1870.42 1493.58 1883.7 1493.57 1896.99 1477.43 1910.26 1477.43 1910.28 1461.28 1923.56 1445.13 1910.28 1445.13 1910.27 1428.98 1896.99 1428.99 1883.7 1428.98 1870.42 1428.97 1870.42 1428.97 1870.42 1428.97 1883.7 1412.82 1896.98 1396.68 1883.7 1396.67 1883.69 1380.53 1870.42 1380.52 1870.41 1364.37 1857.13 1380.52 1843.85 1380.52 1843.85 1380.52 1843.84 1364.36 1843.84 1364.35 1843.85 1364.36 1857.13 1348.21 1870.42 1332.06 1870.42 1332.05 1870.42 1315.9 1883.7 1315.89 1883.7 1299.75 1896.98 1283.6 1896.98 1267.44 1896.98 1251.29 1896.99 1251.28 1896.99 1235.14 1910.27 1218.99 1910.27 1218.98 1910.28 1202.83 1923.56 1186.68 1923.56 1186.68 1923.56 1186.68 1923.57 1202.82 1936.85 1186.68 1950.13 1170.53 1950.13 1170.52 1950.13 1170.53 1950.14 1186.68 1963.42 1186.68 1963.43 1202.83 1976.71 1202.83 1976.71 1218.98 1989.99 1202.83 2003.27 1186.68 2003.27 1186.68 2003.28 1186.67 2016.57 1186.66 2029.85 1186.68 2029.86 1202.82 2043.14 1202.82 2056.42 1186.68 2069.7 1170.53 2069.7 1154.37 2069.7 1154.37 2069.71 1154.37 2083 1138.22 2096.27 1122.08 2083 1122.07 2069.71 1122.07 2069.7 1105.91 2069.7 1105.91 2069.71 1089.76 2082.99 1073.61 2082.99 1057.46 2082.98 1057.44 2082.99 1057.46 2083.01 1073.59 2096.28 1057.46 2109.55 1041.32 2096.28 1041.3 2096.27 1025.17 2082.99 1025.15 2082.98 1009.01 2069.71 1009 2069.7 992.85 2056.42 992.84 2056.42 976.7 2043.14 976.69 2043.13 960.54 2043.13 960.53 2043.14 944.38 2056.42 928.23 2056.42 912.09 2043.14 912.08 2043.13 912.07 2043.14 912.06 2056.42 912.07 2069.71 895.93 2082.99 895.92 2083 879.77 2096.27 879.76 2096.28 879.77 2096.29 895.91 2109.57 895.93 2109.58 912.06 2122.85 912.06 2136.14 895.93 2149.41 879.79 2136.14 879.77 2136.13 863.64 2122.85 863.62 2122.85 863.6 2122.85 847.47 2136.13 847.46 2136.14 831.31 2149.42 815.16 2149.42 815.14 2149.42 799.01 2162.7 782.85 2162.7 766.72 2149.42 782.85 2136.15 799.01 2136.15 799.01 2136.14 799.01 2136.13 782.87 2122.85 782.86 2109.57 782.85 2109.55 766.7 2109.55 766.69 2109.57 766.7 2109.58 782.84 2122.85 766.7 2136.13 766.69 2136.14 750.55 2149.41 750.53 2149.42 734.4 2162.7 718.26 2149.42 734.4 2136.15 734.41 2136.14 750.55 2122.87 750.56 2122.85 750.55 2122.85 734.4 2122.85 734.39 2122.85 718.24 2136.13 702.09 2136.13 685.94 2122.85 685.94 2122.85 685.93 2122.85 685.92 2136.14 685.94 2136.15 702.09 2136.15 718.23 2149.42 702.09 2162.7 702.07 2162.71M831.31 1166.26 831.3 1166.26 815.16 1179.53 799.01 1179.54 799.01 1179.55 799.01 1179.55 815.16 1179.56 831.31 1179.56 831.32 1179.55 831.32 1166.26ZM540.56 1179.53 540.54 1179.55 540.54 1192.83 540.56 1192.84 540.58 1192.83 540.58 1179.55ZM928.23 1179.54 928.22 1179.55 912.08 1192.83 912.08 1192.83 912.08 1192.84 928.23 1192.84 944.38 1192.83 960.54 1192.84 960.54 1192.83 960.54 1179.55 960.54 1179.54 960.53 1179.55 944.38 1192.83 928.24 1179.55ZM685.94 1206.12 685.93 1206.12 685.94 1206.12 702.09 1206.13 718.24 1206.13 734.4 1206.12 750.54 1219.4 750.55 1219.41 750.55 1219.4 766.7 1206.12 766.72 1206.12 766.7 1206.11 750.55 1206.11 734.4 1206.11 718.24 1206.12 702.09 1206.11ZM556.71 1219.4 556.7 1219.4 556.71 1219.41 572.87 1219.42 589.02 1219.41 589.03 1219.4 589.02 1219.4 572.87 1219.39ZM782.85 1219.39 782.85 1219.4 782.85 1232.69 782.85 1245.98 782.85 1259.26 782.85 1259.26 799.01 1272.55 799.01 1272.56 815.16 1272.55 831.31 1285.84 831.31 1285.84 847.46 1299.12 847.47 1299.13 847.48 1299.12 863.62 1285.85 879.76 1299.12 879.77 1312.41 879.77 1312.41 879.78 1312.41 879.78 1299.12 895.93 1285.84 912.08 1299.12 912.08 1299.12 912.09 1299.12 928.23 1285.84 944.38 1299.12 944.38 1299.13 960.54 1299.12 960.54 1299.12 960.54 1285.84 976.69 1272.55 976.69 1272.55 976.69 1272.54 960.54 1259.26 960.55 1245.98 960.54 1245.96 960.53 1245.98 944.38 1259.26 944.38 1259.26 944.38 1259.27 960.53 1272.55 944.38 1285.83 928.24 1272.55 928.23 1272.54 912.08 1272.55 895.93 1259.26 895.93 1245.98 895.93 1245.97 879.78 1232.69 879.77 1232.68 879.77 1232.69 863.62 1245.98 847.47 1232.69 847.47 1232.69 847.46 1232.69 847.46 1245.98 831.31 1259.26 831.31 1259.26 815.16 1272.54 799.01 1259.26 799.01 1259.26 782.86 1245.98 782.86 1232.69 782.86 1219.4ZM1752.04 1232.69 1768.19 1219.41 1784.33 1232.69 1768.19 1245.97ZM524.41 1259.26 524.4 1259.26 524.4 1272.55 524.41 1272.55 524.41 1272.55 524.42 1259.26ZM1687.42 1259.25 1687.42 1259.26 1687.42 1272.55 1687.42 1272.56 1687.44 1272.55 1687.43 1259.26ZM1735.89 1259.26 1752.03 1245.98 1768.18 1259.26 1752.03 1272.54ZM589.02 1338.97 589 1338.98 589 1352.26 589.02 1352.27 589.02 1352.26 589.03 1338.98ZM734.4 1338.97 734.39 1338.98 718.24 1352.26 702.09 1352.26 685.94 1352.26 685.93 1352.26 685.94 1352.27 702.09 1352.27 718.24 1352.27 734.4 1352.27 734.41 1352.26 734.4 1338.98ZM992.84 1338.98 992.84 1338.98 976.69 1352.26 976.69 1352.26 976.69 1365.55 976.69 1365.55 976.69 1365.55 992.84 1352.27 992.85 1352.26 992.85 1338.98ZM1073.61 1378.83 1073.6 1378.84 1073.6 1392.12 1073.61 1392.12 1089.76 1392.12 1089.77 1392.12 1089.78 1378.84 1089.76 1378.83ZM895.93 1405.4 895.92 1405.41 895.91 1418.69 895.93 1418.7 895.93 1418.69 895.93 1405.41ZM556.71 1418.69 556.7 1418.69 556.71 1431.98 556.71 1431.98 556.72 1431.98 556.72 1418.69ZM992.84 1418.69 992.84 1418.69 992.84 1431.98 976.69 1445.26 976.69 1445.27 976.69 1445.27 992.84 1445.27 1009 1445.27 1025.15 1445.27 1025.15 1445.27 1041.3 1431.99 1041.3 1431.98 1041.3 1431.97 1025.16 1418.69 1025.15 1418.69 1009 1418.68ZM362.88 1445.27 362.89 1445.27 362.88 1431.98 362.88 1418.69 379.03 1405.41 395.18 1418.69 395.18 1418.7 395.19 1418.69 411.34 1405.41 427.49 1405.42 443.64 1405.41 443.64 1405.41 443.64 1392.12 443.66 1378.84 459.79 1365.56 475.95 1365.56 492.1 1365.55 492.1 1365.55 492.1 1365.55 475.95 1352.26 492.1 1338.98 492.11 1338.98 508.25 1325.7 524.41 1325.7 524.41 1325.69 540.56 1312.41 540.56 1312.41 540.56 1312.4 524.41 1312.4 508.25 1312.4 492.11 1299.12 508.25 1285.84 508.26 1285.84 508.25 1285.83 492.11 1272.55 492.1 1272.54 475.96 1259.26 475.95 1245.98 492.1 1232.69 492.11 1232.69 508.25 1219.41 508.26 1219.4 524.41 1206.13 524.41 1206.12 524.41 1206.11 508.27 1192.83 508.27 1179.55 508.25 1179.54 492.11 1166.26 492.1 1166.25 475.96 1152.97 475.95 1152.97 459.79 1152.97 443.65 1139.69 459.79 1126.41 475.95 1126.41 475.95 1126.4 475.95 1126.4 459.8 1113.12 459.79 1113.1 459.78 1113.12 443.64 1126.39 427.5 1113.12 427.49 1113.11 411.34 1099.83 411.34 1099.83 395.19 1086.55 411.34 1073.26 427.49 1073.27 443.63 1086.55 443.64 1086.56 459.79 1086.56 475.93 1099.83 475.95 1099.84 475.96 1099.83 475.96 1086.55 475.96 1073.26 492.1 1059.99 508.24 1073.26 508.25 1073.27 508.26 1073.26 524.41 1059.98 524.42 1059.97 524.41 1059.96 508.27 1046.69 524.41 1033.41 540.56 1033.41 540.57 1033.4 540.58 1020.12 556.71 1006.84 572.87 1006.84 589 1020.12 589.02 1020.13 605.17 1020.13 621.32 1020.12 621.33 1020.12 637.48 1006.84 637.49 1006.83 653.63 993.56 669.77 1006.83 669.77 1020.12 653.63 1033.39 653.62 1033.4 637.48 1046.68 637.47 1046.69 637.48 1046.69 653.63 1046.69 653.64 1046.69 669.78 1033.41 669.79 1033.4 685.94 1020.12 685.95 1020.12 702.09 1006.84 718.24 1006.84 734.39 1020.12 734.4 1020.13 734.4 1020.12 750.55 1006.83 750.56 1006.83 750.56 993.54M362.88 1485.13 362.88 1485.12 362.88 1471.84 362.88 1471.83M362.88 1538.28 362.88 1538.27 362.89 1524.98 362.88 1524.98M1267.45 1591.41 1283.6 1578.13 1299.74 1591.41 1283.6 1604.69ZM1542.05 1710.99 1558.2 1697.71 1574.34 1710.99 1558.2 1724.27ZM1202.83 1803.98 1202.83 1803.99 1202.83 1803.99 1218.99 1804 1218.99 1803.99 1218.99 1803.98ZM1396.67 1803.98 1396.66 1803.99 1396.66 1817.28 1396.67 1817.28 1396.67 1817.28 1396.67 1803.99ZM362.88 1804 362.88 1803.99 379.03 1790.71 379.03 1790.7 379.03 1777.42 395.18 1764.13 395.18 1764.13 395.19 1750.84 395.19 1737.56 395.19 1724.27 411.34 1710.99 411.34 1710.99 411.35 1697.7 427.49 1684.43 427.5 1684.41 427.49 1684.41 411.34 1684.41 395.18 1671.13 395.19 1657.84 395.18 1657.84 379.03 1644.56 379.03 1644.55 362.88 1631.27 362.88 1617.99 362.88 1617.97M427.49 1843.84 427.48 1843.85 427.49 1843.85 443.64 1843.85 459.79 1843.85 459.8 1843.85 459.79 1843.84 443.64 1843.84ZM1509.75 1870.42 1525.89 1857.14 1542.04 1870.42 1525.89 1883.7ZM734.4 1989.99 734.39 1989.99 734.4 1990 750.55 1990 750.55 1989.99 750.55 1989.99ZM799.01 1989.98 799 1989.99 799 2003.28 799.01 2003.29 799.02 2003.28 799.01 1989.99ZM766.7 2003.27 766.69 2003.28 766.69 2016.57 766.7 2016.57 766.72 2016.57 766.7 2003.28ZM1202.84 2016.57 1218.99 2003.29 1235.13 2016.57 1218.99 2029.84ZM621.33 2029.85 637.48 2016.57 653.62 2029.85 637.48 2043.13ZM1170.53 2083 1186.68 2069.72 1202.82 2083 1186.68 2096.27ZM847.47 2096.27 847.45 2096.28 847.45 2109.57 847.47 2109.58 847.47 2109.57 847.47 2096.28ZM895.93 2096.28 912.08 2083 928.22 2096.28 912.08 2109.56ZM976.7 2096.28 992.84 2083 1008.99 2096.28 992.84 2109.56ZM669.8 2162.71 669.78 2162.7 653.64 2149.43 653.65 2136.14 653.63 2136.13 637.49 2122.85 637.48 2122.85 637.47 2122.85 621.32 2136.13 605.17 2136.13 589.02 2122.85 589.03 2109.57 589.03 2096.28 605.17 2083 621.32 2083.01 637.48 2083.01 653.61 2096.28 653.63 2109.57 653.63 2109.57 653.63 2109.57 653.64 2096.28 669.78 2083 685.93 2096.28 685.94 2096.29 702.09 2096.29 702.1 2096.28 702.11 2082.99 702.09 2082.99 685.94 2069.71 702.09 2056.43 718.23 2069.71 718.24 2069.72 734.38 2082.99 734.4 2083.01 750.53 2096.28 750.55 2096.29 750.56 2096.28 766.7 2083.01 782.85 2083.01 799.01 2083.01 815.16 2083.01 831.31 2083.01 831.33 2082.99 831.32 2069.71 831.31 2069.7 815.18 2056.42 815.16 2056.42 815.15 2056.42 799.01 2069.7 782.86 2056.42 782.85 2056.42 766.7 2056.42 766.7 2056.42 750.55 2069.71 734.4 2056.42 734.4 2056.42 718.25 2043.14 734.4 2029.86 750.55 2029.86 750.55 2029.85 750.55 2029.84 734.4 2029.85 718.24 2029.84 718.24 2029.85 718.23 2043.14 702.09 2056.41 685.94 2056.42 669.79 2043.14 669.79 2029.85 669.79 2016.57 669.8 2003.28 669.79 1989.99 669.78 1989.99 653.63 1989.99 637.48 1976.71 637.49 1963.42 637.48 1963.41 637.46 1963.42 621.32 1976.69 621.32 1976.71 605.17 1989.99 589.03 1976.71 605.17 1963.43 605.19 1963.42 605.18 1950.14 605.17 1936.85 605.17 1936.84 605.17 1936.85 589.02 1950.13 572.87 1950.13 556.72 1936.85 556.71 1936.84 540.56 1936.84 524.41 1923.56 524.41 1923.56 524.4 1923.56 524.4 1936.85 508.25 1950.13 492.1 1936.85 492.1 1923.56 492.1 1923.56 475.95 1910.28 475.95 1896.99 475.95 1896.99 475.93 1896.99 459.79 1910.26 443.64 1910.27 427.49 1910.26 411.35 1896.99 411.34 1883.7 411.34 1870.42 411.34 1857.13 411.34 1857.13 395.19 1843.85 395.19 1830.56 395.18 1830.56 379.03 1830.56 362.88 1830.55" fill="none" stroke="#000" stroke-width="6.6" stroke-linejoin="round" stroke-linecap="butt"/>
<path d="M1274.98 1046.69 1283.6 1044.1 1287.28 1046.69 1283.6 1052.03ZM675.48 1073.26 685.94 1072.07 688.59 1073.26 685.94 1075.49ZM1007.16 1073.26 1009 1071.41 1025.15 1071.76 1026.43 1073.26 1025.15 1075.85 1009 1074.79ZM1184.71 1073.26 1186.68 1071.28 1190 1073.26 1186.68 1081.99ZM746.62 1086.55 750.55 1082.84 754.46 1086.55 750.55 1089.78ZM966.89 1086.55 976.69 1079.72 985.08 1086.55 976.69 1098.7ZM555.07 1099.83 556.71 1098.21 559.2 1099.83 556.71 1103.94ZM662.72 1099.83 669.78 1094 673.88 1099.83 679.66 1113.12 672 1126.4 669.78 1130.2 653.63 1131.19 648.93 1126.4 637.48 1118.27 621.32 1122.03 605.17 1114.66 599.62 1113.12 605.17 1110.82 621.32 1109.3 637.48 1107.99 653.63 1105.84ZM938.63 1099.83 944.38 1097.48 945.95 1099.83 954.52 1113.12 944.38 1120.3 934.23 1113.12ZM1053.59 1099.83 1057.46 1095.38 1064.18 1099.83 1061.24 1113.12 1057.46 1114.7 1051.78 1113.12ZM1136.06 1099.83 1138.22 1098.35 1140.96 1099.83 1138.22 1104.37ZM1215.82 1099.83 1218.99 1096.37 1220.7 1099.83 1218.99 1101.59ZM1357.98 1099.83 1364.36 1095.33 1369.04 1099.83 1364.36 1105.01ZM539.2 1113.12 540.56 1111.77 545.55 1113.12 540.56 1114.47ZM759.57 1113.12 766.7 1107.3 772.39 1113.12 766.7 1117.02ZM900.4 1113.12 912.08 1108.38 916.08 1113.12 912.08 1118.02ZM967.86 1113.12 976.69 1101.31 992.84 1107.16 998.29 1113.12 992.84 1116.95 976.69 1119.13ZM1086.03 1113.12 1089.76 1110.04 1092.58 1113.12 1089.76 1115.44ZM1162.92 1113.12 1170.53 1106.87 1182.65 1113.12 1170.53 1118.68ZM1232.94 1113.12 1235.14 1111.67 1237.34 1113.12 1235.14 1116.7ZM1268.05 1113.12 1283.6 1107.6 1288.53 1113.12 1283.6 1118.66ZM1441.4 1113.12 1445.13 1111.6 1446.64 1113.12 1445.13 1115.39ZM708.41 1126.4 718.24 1121.52 734.4 1121.79 739.97 1126.4 746.8 1139.69 734.4 1152.21 718.24 1147.96 702.62 1139.69ZM843.01 1126.4 847.47 1122 852.83 1126.4 847.47 1130.12ZM1198.08 1126.4 1202.83 1122.44 1207.65 1126.4 1206.43 1139.69 1202.83 1141.62 1195.93 1139.69ZM562 1139.69 572.87 1135.84 578.37 1139.69 572.87 1151.48ZM613.85 1139.69 621.32 1130.69 628.84 1139.69 621.32 1146.96ZM772.95 1139.69 782.85 1135.7 786.34 1139.69 786.86 1152.97 782.85 1163.75 770.69 1152.97ZM867.58 1139.69 879.77 1134.87 890.07 1139.69 879.77 1148.01ZM920.38 1139.69 928.23 1130.58 938.08 1139.69 928.23 1145.3ZM1077.75 1139.69 1089.76 1137.16 1092.88 1139.69 1089.76 1144.72ZM1276.65 1139.69 1283.6 1134.03 1299.75 1136.75 1305.92 1139.69 1315.9 1147.98 1321.82 1152.97 1315.9 1165.98 1299.75 1159.3 1288.07 1152.97 1283.6 1149.5ZM1340.66 1139.69 1348.21 1128.15 1364.36 1129.18 1375.43 1139.69 1364.36 1146.71 1350.89 1152.97 1348.21 1155.29 1344.8 1152.97ZM1679.99 1139.69 1687.42 1132.73 1695.86 1139.69 1687.42 1144.66ZM678.49 1152.97 685.94 1147.97 690.18 1152.97 685.94 1161.36ZM811.24 1152.97 815.16 1151.01 820.96 1152.97 815.16 1154.61ZM984.31 1152.97 992.84 1145.01 1002.41 1152.97 996.33 1166.26 992.84 1174.1 978.12 1166.26ZM1019.58 1152.97 1025.15 1149.13 1030.69 1152.97 1025.15 1156.85ZM1164.79 1152.97 1170.53 1146.94 1179.99 1152.97 1170.53 1156.41ZM1216.77 1152.97 1218.99 1150.17 1223.41 1152.97 1235.14 1158.67 1240.17 1152.97 1251.29 1143.66 1261.12 1152.97 1267.44 1161.06 1283.6 1165.56 1283.9 1166.26 1297.06 1179.55 1283.6 1190.63 1267.44 1183.36 1251.29 1184.88 1239.87 1179.55 1235.14 1175.72 1219.31 1166.26 1218.99 1165.37ZM702.28 1166.26 718.24 1154.69 734.06 1166.26 734.4 1167.43 748.17 1179.55 734.4 1182.77 718.24 1188.83 714.07 1179.55ZM1195.87 1166.26 1202.83 1160.56 1218.74 1166.26 1204.59 1179.55 1202.83 1181.32 1200.23 1179.55ZM779.96 1179.55 782.85 1168.86 784.43 1179.55 782.85 1180.84ZM842.83 1179.55 847.47 1167.3 856.17 1179.55 847.47 1188.27ZM875.99 1179.55 879.77 1176.32 882.05 1179.55 879.77 1180.81ZM1100.37 1179.55 1105.91 1176.27 1111.46 1179.55 1105.91 1184.01ZM1135.1 1179.55 1138.22 1176.9 1140.34 1179.55 1138.22 1181.26ZM1085.38 1192.83 1089.76 1188.4 1095.03 1192.83 1089.76 1195.45ZM811.78 1206.12 815.16 1204.73 816.85 1206.12 815.16 1207.53ZM936.11 1206.12 944.38 1200.68 956.81 1206.12 953.06 1219.4 944.38 1225.43 935.73 1219.4ZM1031.55 1206.12 1041.3 1200.78 1047.82 1206.12 1041.3 1213.06ZM1116.69 1206.12 1122.07 1200.21 1130.84 1206.12 1122.07 1212.18ZM1164.81 1206.12 1170.53 1201.45 1174.58 1206.12 1170.53 1214.37ZM1241.17 1206.12 1251.29 1199.87 1263.57 1206.12 1264.04 1219.4 1255.71 1232.69 1267.44 1237.39 1283.6 1237.68 1296.05 1245.98 1299.75 1249.51 1315.9 1253.37 1322.42 1245.98 1322.91 1232.69 1332.06 1223.29 1338.73 1219.4 1348.21 1209.9 1364.36 1213.1 1379.77 1219.4 1364.36 1228.73 1348.21 1225.22 1341.26 1232.69 1348.21 1239.91 1356.56 1245.98 1350.68 1259.26 1348.21 1264.52 1332.06 1262.49 1323.01 1272.55 1332.06 1281.7 1348.21 1281.01 1364.36 1273.38 1367.1 1285.84 1364.36 1289.58 1348.21 1292.71 1332.06 1292.49 1324.15 1299.12 1332.06 1308.71 1348.21 1300.1 1364.36 1302.28 1380.52 1305.95 1394.79 1299.12 1396.67 1294.55 1398.89 1299.12 1396.67 1308.99 1395.93 1312.41 1380.52 1321.74 1364.36 1319.19 1354.45 1325.69 1364.36 1334.75 1380.52 1334.5 1385.86 1338.98 1396.67 1343.65 1412.82 1343.73 1419.2 1352.26 1412.82 1356.56 1396.67 1360.85 1380.52 1359.05 1364.36 1362.46 1360.17 1365.55 1363.61 1378.84 1348.21 1386.74 1344.45 1378.84 1332.06 1373.24 1323.22 1378.84 1332.06 1391.68 1334.35 1392.12 1348.21 1393.87 1364.36 1396.14 1380.42 1405.41 1364.36 1416.9 1349.91 1418.69 1348.21 1419.52 1347.2 1418.69 1332.06 1412.5 1329.46 1418.69 1316.23 1431.98 1315.9 1432.12 1315.74 1431.98 1299.75 1423.24 1290.82 1418.69 1283.6 1416.7 1267.44 1416.48 1253.44 1418.69 1251.29 1419.8 1241.92 1431.98 1235.14 1438.67 1218.99 1441.68 1202.83 1432.31 1202.05 1431.98 1186.68 1419.22 1170.55 1431.98 1170.53 1431.99 1170.51 1431.98 1154.37 1424.31 1149.28 1431.98 1154.37 1439.8 1161.01 1445.27 1154.37 1452.83 1145.23 1445.27 1138.22 1442.64 1125.23 1431.98 1138.22 1422.12 1146.42 1418.69 1140.42 1405.41 1150.29 1392.12 1138.4 1378.84 1145.94 1365.55 1144.19 1352.26 1143.87 1338.98 1138.22 1325.71 1122.07 1331.09 1106.31 1325.69 1122.07 1322.65 1138.22 1325.67 1154.37 1325.59 1163.46 1312.41 1154.37 1301.62 1146.98 1299.12 1154.37 1296.05 1170.53 1287.08 1186.54 1299.12 1182.9 1312.41 1186.68 1314.49 1187.75 1312.41 1187.33 1299.12 1202.83 1290.09 1218.99 1291.55 1234.56 1285.84 1218.99 1279.46 1202.83 1274.19 1200.85 1272.55 1202.27 1259.26 1186.68 1251.78 1170.53 1246.49 1154.37 1251.02 1138.22 1257.18 1130.52 1259.26 1122.21 1272.55 1124.6 1285.84 1122.07 1288.31 1107.78 1285.84 1114.8 1272.55 1105.91 1271.82 1103.42 1259.26 1105.91 1253.11 1114.12 1245.98 1122.07 1244.17 1131.24 1232.69 1138.22 1221.78 1154.37 1224.73 1170.53 1231.56 1186.68 1221.55 1195.8 1219.4 1202.83 1216.54 1218.99 1207.73 1233.33 1219.4 1235.14 1226.29 1238.73 1219.4ZM1392.02 1206.12 1396.67 1205.11 1398.9 1206.12 1396.67 1207.61ZM664.12 1219.4 669.78 1213.66 676.91 1219.4 672.59 1232.69 669.78 1244.39 666.32 1232.69ZM850.12 1219.4 863.62 1215.72 868.15 1219.4 867.01 1232.69 863.62 1235.48 860.23 1232.69ZM1054.54 1219.4 1057.46 1217.81 1061.31 1219.4 1057.46 1224.49ZM1094.17 1219.4 1105.91 1217.82 1108.92 1219.4 1105.91 1230.47ZM1669.4 1219.4 1671.27 1217.87 1676.5 1219.4 1671.27 1229.91ZM810.9 1232.69 815.16 1230.96 819.39 1232.69 815.16 1234.81ZM1037.11 1232.69 1041.3 1230.17 1047.72 1232.69 1041.3 1237.88ZM1218.99 1231.45 1216 1232.69 1218.99 1233.8 1226.57 1232.69ZM1585.25 1232.69 1590.5 1220.98 1594.22 1232.69 1594.27 1245.98 1590.5 1259.21 1590.44 1259.26 1574.35 1267.55 1566.88 1259.26 1558.9 1245.98 1574.35 1237.29ZM602.17 1245.98 605.17 1242.62 606.82 1245.98 605.17 1249.31ZM647.07 1245.98 653.63 1243.23 667.78 1245.98 669.78 1246.2 679.85 1259.26 685.94 1266.18 692.79 1272.55 685.94 1278.84 677.12 1272.55 669.78 1268.34 660.6 1259.26 653.63 1247.8ZM759.16 1245.98 766.7 1239.77 771.49 1245.98 770.11 1259.26 766.7 1265.15 762.59 1259.26ZM823.66 1245.98 831.31 1237.63 837.15 1245.98 831.31 1250.78ZM1251.29 1236.34 1235.73 1245.98 1251.29 1258.37 1256.99 1245.98ZM1376.61 1245.98 1380.52 1243.87 1384.24 1245.98 1380.52 1248.52ZM1522.86 1245.98 1525.89 1244 1532.07 1245.98 1525.89 1247.32ZM714.81 1259.26 718.24 1256.42 734.4 1254.62 740.02 1259.26 750.55 1269.23 757.61 1272.55 750.55 1275.83 734.4 1274.55 718.24 1279.72 711.39 1272.55ZM987.14 1259.26 992.84 1255.89 1002.36 1259.26 1009 1267.62 1011.95 1272.55 1009 1275.71 997.09 1272.55 992.84 1270.85ZM1413.29 1259.26 1428.97 1249.6 1440.64 1259.26 1428.97 1268.91ZM1652.07 1259.26 1655.12 1256.65 1669.16 1259.26 1666.61 1272.55 1655.12 1284.55 1638.96 1276.05 1634.6 1272.55 1638.96 1268.3ZM778.79 1272.55 782.85 1271.2 784.5 1272.55 782.85 1275.82ZM1299.75 1270.84 1294.25 1272.55 1299.75 1273.83 1301.81 1272.55ZM1364.67 1272.55 1380.52 1267 1387.1 1272.55 1380.52 1278.01ZM1591.88 1272.55 1606.66 1268.4 1608.68 1272.55 1606.66 1274.17ZM1267.44 1284.12 1264.74 1285.84 1267.44 1294.08 1283.6 1287.71 1284.79 1285.84 1283.6 1282.15ZM1403.6 1285.84 1412.82 1273.89 1419.83 1285.84 1412.82 1289.66ZM1458.6 1285.84 1461.28 1283.62 1466.59 1285.84 1461.28 1290.18ZM1586.11 1285.84 1590.5 1273.4 1593.07 1285.84 1590.5 1289.5ZM691.03 1299.12 702.09 1291.84 718.24 1296.66 734.4 1295.37 738.94 1299.12 734.4 1302.93 718.24 1301.64 702.09 1304.39ZM764.48 1299.12 766.7 1296.83 770.41 1299.12 766.7 1301.46ZM1084.95 1299.12 1089.76 1295.09 1099.72 1299.12 1089.76 1312.12ZM1572.4 1299.12 1574.35 1295.84 1578.4 1299.12 1574.35 1304.21ZM618.07 1312.41 621.32 1306.91 630.49 1312.41 621.32 1319.83ZM667.11 1312.41 669.78 1308.81 676.57 1312.41 685.58 1325.69 669.78 1335.93 657.59 1325.69ZM748.07 1312.41 750.55 1310.41 753.65 1312.41 750.55 1317.49ZM906.51 1312.41 912.08 1309.69 928.23 1310.64 930.17 1312.41 928.23 1313.7 912.08 1315.66ZM972.83 1312.41 976.69 1310.08 980.55 1312.41 992.84 1317.43 1009 1322.47 1010.98 1325.69 1009 1327.69 992.84 1330.46 980.83 1325.69 976.69 1317.15ZM1070.28 1312.41 1073.61 1310.27 1089 1312.41 1083.02 1325.69 1073.61 1331.21 1057.46 1328.78 1053.94 1325.69 1057.46 1322.78ZM1251.29 1306.76 1245.56 1312.41 1251.29 1318.85 1253.35 1312.41ZM1514.96 1312.41 1525.89 1310.65 1542.05 1307.32 1550.82 1312.41 1542.05 1318.39 1525.89 1314.62ZM1583.55 1312.41 1590.5 1308.56 1592.8 1312.41 1590.5 1315.38ZM686.77 1325.69 702.09 1320.31 709.73 1325.69 702.09 1332.1ZM811.02 1325.69 815.16 1323.66 819.23 1325.69 827.53 1338.98 815.16 1345.49 804.71 1338.98ZM1202.83 1323.41 1197.17 1325.69 1202.83 1330.11 1218.99 1326.45 1220.33 1325.69 1218.99 1324.71ZM1332.06 1317.55 1324.91 1325.69 1332.06 1330.39 1336.97 1325.69ZM1463.64 1325.69 1477.43 1322.47 1482.97 1325.69 1477.43 1328.95ZM1550.91 1325.69 1558.2 1318.46 1565.63 1325.69 1561.54 1338.98 1574.35 1344.04 1590.43 1338.98 1590.5 1338.92 1590.54 1338.98 1590.8 1352.26 1590.5 1352.51 1576.32 1365.55 1574.35 1371.37 1560.96 1365.55 1558.2 1363.19 1554.68 1352.26 1554.97 1338.98ZM1105.68 1338.98 1105.91 1331.77 1106.24 1338.98 1105.91 1339.39ZM1170.53 1336.86 1167.4 1338.98 1159.85 1352.26 1163.12 1365.55 1170.53 1374.95 1176.74 1365.55 1174.28 1352.26 1186.68 1340.03 1188.56 1338.98 1186.68 1337.31ZM1315.9 1332.12 1307.98 1338.98 1315.9 1344.31 1322.75 1338.98ZM1421.7 1338.98 1428.97 1336.63 1433.73 1338.98 1428.97 1342.03ZM1456.97 1338.98 1461.28 1329.27 1463.4 1338.98 1477.43 1346.63 1487.9 1352.26 1477.43 1362.34 1461.28 1356.96 1451.98 1352.26ZM1518.51 1338.98 1525.89 1333 1533.31 1338.98 1525.89 1344.21ZM501.27 1352.26 508.25 1348.51 512.9 1352.26 521.99 1365.55 508.25 1369.2 505.03 1365.55ZM601.69 1352.26 605.17 1348.82 621.32 1349.61 628.08 1352.26 621.32 1354.05 605.17 1356.27ZM762.16 1352.26 766.7 1347.1 782.85 1347.07 793.51 1352.26 782.85 1356.61 766.7 1358.69ZM839.73 1352.26 847.47 1346.01 856.74 1352.26 863.62 1359.44 879.77 1354.05 881.76 1352.26 895.93 1346.56 900.67 1352.26 912.08 1357.06 918.88 1365.55 912.08 1371.09 895.93 1367.68 879.77 1368.16 863.62 1368.38 849.16 1365.55 847.47 1364.63ZM955.79 1352.26 960.54 1349.39 962.42 1352.26 965.33 1365.55 964.38 1378.84 960.54 1380.42 949.03 1378.84 954.06 1365.55ZM1006.93 1352.26 1009 1349.73 1025.15 1349.47 1028.65 1352.26 1025.15 1355.79 1009 1364.48ZM1046.99 1352.26 1057.46 1342.83 1068.94 1352.26 1057.46 1360.86 1046.77 1365.55 1041.3 1372 1034.83 1365.55 1041.3 1361.04ZM1079.43 1352.26 1089.76 1344.7 1101.65 1352.26 1089.76 1361.93ZM1120.64 1352.26 1122.07 1351.49 1125.12 1352.26 1131.47 1365.55 1122.07 1373.07 1111.21 1365.55ZM679.58 1365.55 685.94 1362.52 702.09 1360.6 718.24 1360.6 726.17 1365.55 718.24 1372.03 702.09 1371.32 685.94 1371.91ZM780.3 1378.84 782.85 1376.69 785.41 1378.84 782.85 1382.38ZM1186.68 1376.58 1179.54 1378.84 1170.53 1386.36 1163.21 1392.12 1170.53 1393.72 1186.68 1394.34 1202.83 1394.34 1204.66 1392.12 1202.83 1389.82 1190.1 1378.84ZM1235.14 1374.54 1222.7 1378.84 1235.14 1385.66 1245.71 1378.84ZM1364.84 1378.84 1380.52 1375.17 1385.47 1378.84 1380.52 1382.43ZM1408.12 1378.84 1412.82 1374.87 1428.97 1375.44 1433.68 1378.84 1428.97 1384.7 1412.82 1382.73ZM615.79 1392.12 621.32 1387.6 628.37 1392.12 621.32 1404.24ZM748.83 1392.12 750.55 1389.51 757.01 1392.12 750.55 1397.65ZM1112.66 1392.12 1122.07 1385.68 1129.98 1392.12 1130.28 1405.41 1122.07 1408.64 1118.05 1405.41ZM1299.75 1390 1294.11 1392.12 1296.16 1405.41 1299.75 1412.94 1305.24 1405.41 1302.33 1392.12ZM1568.53 1392.12 1574.35 1384.05 1577.84 1392.12 1574.35 1398.34ZM454.94 1405.41 459.79 1396.23 475.95 1393.08 492.1 1398.29 502.23 1405.41 492.1 1412.82 475.95 1415.93 459.79 1410.84ZM637.82 1405.41 653.63 1400.11 669.78 1404.52 685.94 1393.14 702.09 1394.51 715.62 1405.41 702.09 1415.02 685.94 1417.87 681.36 1418.69 669.78 1428.63 662.82 1418.69 653.63 1410.97ZM722.29 1405.41 734.4 1401.36 746.1 1405.41 734.4 1413.17ZM766.96 1405.41 782.85 1395.7 796.48 1405.41 782.85 1415.21ZM817.75 1405.41 831.31 1396.9 844.64 1405.41 831.31 1413.1ZM871.28 1405.41 879.77 1396.93 887.27 1405.41 879.77 1412.35ZM1044.53 1405.41 1057.46 1394.8 1073.61 1399.75 1089.76 1399.7 1099.85 1405.41 1102.05 1418.69 1089.76 1431.81 1076.48 1418.69 1073.61 1414.68 1065.14 1418.69 1068.66 1431.98 1057.46 1440.15 1050.59 1431.98 1052.25 1418.69ZM1400.58 1405.41 1412.82 1399.11 1425.17 1405.41 1412.82 1413.74ZM1453.82 1405.41 1461.28 1400.86 1468.71 1405.41 1461.28 1410.59ZM1472.88 1418.69 1477.43 1414.14 1493.59 1412.81 1497.56 1418.69 1493.59 1424.42 1477.43 1423.17ZM480.63 1431.98 492.1 1426.43 508.25 1424.34 524.41 1429.58 540.56 1430.03 542.48 1431.98 541.69 1445.27 556.71 1448.03 564.92 1458.55 572.87 1463.27 582.04 1458.55 576.38 1445.27 589.02 1432.52 599.65 1445.27 601.34 1458.55 598.37 1471.84 605.17 1473.37 621.32 1473.43 634.08 1485.12 635.87 1498.41 634.04 1511.7 637.48 1514.54 640.76 1511.7 638.21 1498.41 640.13 1485.12 640.59 1471.84 637.48 1463.76 633 1458.55 627.77 1445.27 621.32 1437.6 609.51 1431.98 621.32 1426.45 629.42 1431.98 637.48 1436.32 653.63 1439.51 659.55 1445.27 669.78 1451.4 685.94 1447.67 702.09 1450.97 707.82 1445.27 718.24 1436.85 734.27 1431.98 734.4 1431.89 750.55 1421.8 766.7 1431.95 782.85 1422.59 799.01 1431.7 815.16 1431.6 815.54 1431.98 831.31 1444.52 834.88 1445.27 847.47 1446.25 863.62 1454.14 878.71 1458.55 879.77 1458.9 895.93 1461.09 902.66 1458.55 908.25 1445.27 912.08 1437.9 917.42 1445.27 928.23 1454.02 942.73 1458.55 944.38 1459.05 945.41 1458.55 960.54 1446.26 976.69 1456.88 981.98 1458.55 976.69 1465.36 960.54 1468.65 958.05 1471.84 960.54 1475.72 976.69 1477.66 990.85 1471.84 992.84 1471.02 1009 1471.37 1025.15 1462.76 1033.25 1458.55 1041.3 1455.37 1049.32 1458.55 1057.46 1461.75 1061.6 1458.55 1073.61 1451.01 1078.01 1445.27 1089.76 1432.26 1103.17 1445.27 1089.76 1458.34 1089.25 1458.55 1081.68 1471.84 1073.61 1478.55 1065.95 1485.12 1073.61 1487.41 1089.76 1487.11 1101.34 1498.41 1105.33 1511.7 1089.76 1518.23 1073.61 1515.87 1057.46 1517.18 1050.75 1511.7 1041.3 1508.17 1026.6 1498.41 1025.15 1497.23 1021.89 1498.41 1009 1508.65 992.84 1505.52 976.69 1510.48 973.8 1511.7 976.69 1517.96 980.85 1524.98 983.03 1538.27 992.84 1543.23 1004.28 1538.27 1005.02 1524.98 1009 1518.23 1012.95 1524.98 1025.15 1532.92 1035.99 1538.27 1041.3 1540.44 1050.47 1551.55 1057.46 1563.91 1073.61 1552.26 1089.76 1558.99 1095.68 1551.55 1089.76 1543.92 1083.82 1538.27 1089.76 1531.78 1099.12 1538.27 1105.91 1541.42 1121.76 1551.55 1122.07 1553.21 1122.81 1551.55 1138.22 1544.09 1145.82 1551.55 1154.37 1557.54 1166.92 1564.84 1154.37 1577.88 1153.78 1578.13 1138.22 1586.82 1134.14 1591.41 1138.22 1604.19 1138.53 1604.7 1154.37 1613.83 1161.15 1604.7 1170.53 1595.14 1179.97 1591.41 1186.68 1586.07 1199.76 1591.41 1188.37 1604.7 1186.68 1606.42 1170.53 1614.18 1161.66 1617.99 1170.53 1623.12 1174.68 1631.27 1170.53 1637.38 1160.32 1631.27 1154.37 1624.24 1138.22 1629.05 1136.28 1631.27 1138.22 1639.13 1154.37 1638.08 1159.56 1644.56 1154.77 1657.84 1164.61 1671.13 1154.37 1674.97 1147.84 1684.41 1154.37 1693.77 1158.2 1697.7 1170.53 1709.19 1173.75 1710.99 1170.53 1713.74 1155.15 1724.27 1170.53 1728.72 1181.05 1737.56 1170.53 1749.31 1154.37 1742.71 1144.21 1737.56 1138.22 1735.34 1134.69 1737.56 1136.31 1750.84 1133.22 1764.13 1138.22 1775.28 1152.84 1764.13 1154.37 1763.01 1170.53 1753.61 1176.53 1764.13 1170.53 1774.49 1166.22 1777.42 1154.37 1783.14 1138.74 1790.7 1140.94 1803.99 1147.26 1817.28 1138.22 1827.75 1135.38 1830.56 1122.07 1838.81 1111.87 1830.56 1105.91 1821.06 1094.41 1830.56 1089.76 1833.64 1085.54 1843.85 1089.76 1850.33 1099.12 1857.13 1099.16 1870.42 1105.91 1877.02 1122.07 1870.45 1135.25 1883.7 1133.7 1896.99 1122.07 1904.74 1105.95 1896.99 1105.91 1896.97 1105.88 1896.99 1097.82 1910.28 1105.91 1914.14 1122.07 1914.26 1135.08 1923.56 1138.22 1928.87 1154.37 1926.91 1161.89 1936.85 1154.37 1946.62 1138.22 1940.74 1122.07 1939.66 1105.91 1939.91 1089.76 1945.6 1073.7 1936.85 1073.61 1936.7 1073.54 1936.85 1057.46 1945.16 1043.85 1936.85 1041.3 1930.67 1037.52 1936.85 1037.81 1950.13 1025.15 1963.21 1024.64 1963.42 1009 1968.49 1000.99 1963.42 1009 1956.91 1014.48 1950.13 1009 1941.69 992.84 1948.63 978.95 1950.13 984.98 1963.42 976.69 1970.1 973.03 1976.71 976.69 1986.44 979.71 1989.99 976.69 1993.17 960.54 1997.11 950.06 1989.99 946.16 1976.71 953.2 1963.42 944.38 1956.39 940.44 1963.42 942.05 1976.71 928.23 1989.83 912.08 1986.14 911.77 1989.99 895.93 1999.4 889.12 1989.99 879.77 1977.16 877.49 1976.71 863.62 1973.08 847.47 1970.31 842.12 1976.71 845.83 1989.99 831.31 1992.76 825.67 1989.99 815.16 1979.73 812.6 1976.71 799.01 1968.38 790.87 1963.42 782.85 1955.46 767.03 1950.13 766.7 1950.06 752.52 1936.85 750.55 1932.48 747.37 1936.85 741.14 1950.13 734.4 1963.25 734.24 1963.42 718.24 1968.43 702.09 1976.12 697.91 1963.42 702.09 1956.67 718.17 1950.13 702.09 1947.53 685.94 1948 681.99 1950.13 669.78 1960.22 653.86 1950.13 653.63 1949.87 637.48 1936.89 637.27 1936.85 637.16 1923.56 626.72 1910.28 632.66 1896.99 621.32 1886.04 615.61 1883.7 605.17 1880.07 589.02 1879.26 572.87 1883.27 560.65 1870.42 556.71 1868.31 548.83 1870.42 540.56 1872.63 536.52 1870.42 524.41 1860.56 508.25 1861.19 492.1 1864.31 480.02 1857.13 481.67 1843.85 480.09 1830.56 475.95 1827.79 459.79 1819.63 445.21 1817.28 443.64 1816.65 429.04 1803.99 432.31 1790.7 432.84 1777.42 427.49 1772.63 425 1777.42 411.34 1785.28 400.19 1790.7 395.18 1795.57 391.68 1790.7 395.18 1782.35 397.68 1777.42 403.08 1764.13 411.34 1750.99 411.65 1750.84 427.49 1743.54 438.44 1750.84 443.64 1755.68 450.95 1750.84 459.79 1741.29 462.45 1737.56 459.79 1726.14 443.64 1724.52 427.49 1730.53 420.93 1724.27 427.49 1714.81 443.64 1723.23 445.67 1710.99 454.43 1697.7 459.77 1684.41 451.76 1671.13 459.79 1665.44 475.42 1657.84 475.95 1656.93 492.1 1647.46 499.23 1644.56 492.1 1636.78 487.21 1631.27 492.1 1627.07 508.25 1620.56 516.99 1631.27 524.41 1635.21 528.28 1631.27 525.64 1617.99 524.41 1617.16 509.4 1604.7 509.62 1591.41 508.25 1589.2 507.26 1591.41 505.43 1604.7 492.1 1612.13 475.95 1611.02 462.93 1617.99 459.79 1625.3 453.53 1617.99 443.64 1610.09 440.46 1604.7 432.7 1591.41 437.19 1578.13 427.49 1571.51 411.34 1570.25 404.47 1578.13 411.34 1586 419.42 1591.41 411.44 1604.7 411.42 1617.99 411.34 1618.06 406.32 1617.99 411.07 1604.7 395.18 1600.21 379.55 1591.41 387.25 1578.13 395.18 1565.03 395.63 1564.84 401.48 1551.55 411.34 1538.6 422.74 1551.55 427.49 1558.28 435.15 1551.55 435.44 1538.27 443.64 1529.59 450.04 1524.98 443.64 1515.92 434.94 1511.7 443.64 1505.78 447.91 1498.41 447.24 1485.12 459.79 1474.82 464.08 1471.84 464.76 1458.55 459.79 1451.93 455.38 1445.27 459.79 1440.15 471.18 1445.27 475.95 1447.36 478.5 1445.27ZM843.36 1431.98 847.47 1428.14 854.43 1431.98 847.47 1440.18ZM1262.9 1431.98 1267.44 1426.68 1271.14 1431.98 1273.92 1445.27 1267.44 1448.31 1256.9 1445.27ZM877.53 1445.27 879.77 1444.03 881.62 1445.27 879.77 1456.18ZM1360.91 1445.27 1364.36 1439.19 1369.2 1445.27 1367.72 1458.55 1364.36 1460.04 1348.21 1458.61 1348.07 1458.55 1348.21 1458.5ZM1441.3 1445.27 1445.13 1442.12 1449.57 1445.27 1445.13 1449.68ZM653.63 1451.1 642.17 1458.55 653.63 1462.18 659.9 1458.55ZM734.4 1454.91 730.47 1458.55 734.4 1462.88 739.79 1458.55ZM1210.18 1458.55 1218.99 1450.32 1228.83 1458.55 1229.28 1471.84 1218.99 1480.32 1207.32 1485.12 1202.83 1487.33 1199.47 1485.12 1186.68 1480.43 1170.53 1482.2 1163.56 1471.84 1170.53 1463.24 1186.68 1463.22 1202.46 1471.84 1202.83 1473.7 1203.38 1471.84ZM928.23 1463.43 916.28 1471.84 928.23 1474.99 934.24 1471.84ZM1041.3 1463.05 1033.65 1471.84 1041.3 1476.83 1047.42 1471.84ZM1126.25 1471.84 1138.22 1462.05 1148.46 1471.84 1138.22 1480.29ZM1424.96 1471.84 1428.97 1466.98 1430.61 1471.84 1428.97 1473.18ZM386.79 1485.12 395.18 1474.77 411.34 1472.73 427.49 1481.08 434.07 1485.12 427.49 1497.84 411.34 1489.95 395.18 1491.4ZM556.71 1478.02 553.78 1485.12 553.62 1498.41 556.71 1503.91 572.87 1501.67 578.79 1498.41 572.87 1495.3 565.29 1485.12ZM475.95 1497.54 472.45 1498.41 475.95 1500.84 478.41 1498.41ZM605.17 1497.01 599.05 1498.41 589.02 1503.57 581.44 1511.7 572.87 1516.42 556.71 1521.39 555.51 1524.98 556.71 1528.63 572.87 1531.45 582.3 1538.27 589.02 1545.96 598.47 1538.27 605.17 1533.69 614.37 1524.98 611.28 1511.7 606.89 1498.41ZM1057.46 1492.29 1053.37 1498.41 1057.46 1505.96 1060.11 1498.41ZM1149.57 1498.41 1154.37 1492.46 1168.51 1498.41 1154.37 1500.73ZM1216.49 1498.41 1218.99 1494.94 1235.14 1494.55 1251.29 1493.73 1256.97 1498.41 1251.29 1502.23 1235.14 1504.38 1218.99 1500.1ZM1284.5 1498.41 1299.75 1494.51 1306.23 1498.41 1299.75 1503.59ZM540.56 1510.85 533.31 1511.7 540.56 1512.26 543.28 1511.7ZM669.78 1510.64 667.39 1511.7 669.78 1520.25 671.09 1511.7ZM475.95 1522.01 471.52 1524.98 475.95 1528.52 478.8 1524.98ZM653.63 1522.29 650.19 1524.98 653.63 1527.71 665.34 1524.98ZM1136.56 1524.98 1138.22 1522.41 1141.29 1524.98 1138.22 1528.4ZM492.1 1546.86 487.07 1551.55 492.1 1553.73 506.04 1551.55ZM556.71 1548.32 551.51 1551.55 556.71 1553.84 572.87 1556.12 580.19 1551.55 572.87 1547.56ZM605.17 1547.79 600.68 1551.55 605.17 1554.98 609.68 1551.55ZM669.78 1547.56 666.75 1551.55 669.78 1554.22 672.11 1551.55ZM1025.15 1542.83 1012.63 1551.55 1019.73 1564.84 1025.15 1568.36 1032.5 1564.84 1032.15 1551.55ZM1248.06 1551.55 1251.29 1546.05 1260.34 1551.55 1251.29 1554.21ZM508.25 1557.1 507.59 1564.84 508.25 1566.67 509.7 1564.84ZM1105.91 1559.97 1096.87 1564.84 1105.91 1573.57 1118.95 1564.84ZM492.1 1575.97 487.67 1578.13 492.1 1580.64 498.83 1578.13ZM524.41 1574.01 517.6 1578.13 524.41 1581.46 528.38 1578.13ZM1245.41 1617.99 1251.29 1613.15 1257.17 1617.99 1251.29 1623.59ZM379.95 1631.27 395.18 1618.15 403.09 1631.27 395.18 1640.98ZM433.95 1644.56 443.64 1635.52 453.5 1644.56 443.99 1657.84 443.64 1658.22 443.01 1657.84ZM1122.07 1641.82 1117.44 1644.56 1122.07 1653.88 1133.92 1644.56ZM524.41 1654.01 515.67 1657.84 524.41 1664.72 528.1 1657.84ZM1073.61 1657.37 1073.2 1657.84 1072.59 1671.13 1073.61 1678.01 1089.76 1674.27 1091.69 1671.13 1089.76 1668.5 1074.55 1657.84ZM1233.13 1657.84 1235.14 1655.35 1237.55 1657.84 1235.14 1662.68ZM1257.5 1657.84 1267.44 1644.91 1278.42 1657.84 1267.44 1669.04ZM407.81 1671.13 411.34 1666.96 418.76 1671.13 411.34 1674.03ZM572.87 1669.31 560.04 1671.13 572.87 1677.73 576.93 1671.13ZM750.55 1664.17 749.34 1671.13 750.55 1673.77 751.75 1671.13ZM847.47 1668.1 846.12 1671.13 847.47 1674.6 849.44 1671.13ZM1138.22 1667.68 1136.65 1671.13 1138.22 1672.44 1142.8 1671.13ZM1200.91 1671.13 1202.83 1666.29 1205.14 1671.13 1202.83 1673.51ZM1009 1678.78 1002.39 1684.41 1009 1687.89 1011.95 1684.41ZM1345.45 1684.41 1348.21 1681.37 1364.36 1683.08 1365.71 1684.41 1364.36 1685.52 1348.21 1685.66ZM475.95 1695.39 464.09 1697.7 475.95 1702.17 478.71 1697.7ZM750.55 1694.91 750.06 1697.7 748.37 1710.99 750.55 1719.2 755.41 1710.99 751.83 1697.7ZM782.85 1691.27 781.79 1697.7 782.85 1703.45 783.79 1697.7ZM1041.3 1692.61 1030.19 1697.7 1041.3 1702.25 1050.57 1697.7ZM831.31 1704.62 819.2 1710.99 831.31 1717.28 834.43 1710.99ZM1244.93 1710.99 1251.29 1703.74 1262.52 1710.99 1251.29 1717.07ZM912.08 1723.25 906.96 1724.27 912.08 1724.91 912.96 1724.27ZM1089.76 1735.01 1085.72 1737.56 1089.76 1743.25 1094.46 1737.56ZM1200.48 1737.56 1202.83 1735.95 1205.75 1737.56 1202.83 1739.17ZM1057.46 1761.28 1055.86 1764.13 1057.46 1768.41 1073.61 1767.4 1076.51 1764.13 1073.61 1754.15ZM1247.9 1764.13 1251.29 1756.37 1256.08 1764.13 1251.29 1768.83ZM459.79 1774.98 455.72 1777.42 455.43 1790.7 459.79 1792.64 469 1790.7 462.03 1777.42ZM992.84 1776.29 990.54 1777.42 992.84 1779.57 998.09 1777.42ZM1292.04 1777.42 1299.75 1770.44 1312.53 1777.42 1299.75 1786.33ZM1105.91 1789.03 1102.61 1790.7 1105.91 1802.34 1111.34 1790.7ZM403.73 1803.99 411.34 1798.56 426.37 1803.99 411.34 1811.47ZM492.1 1801.55 485.22 1803.99 490.03 1817.28 492.1 1819.42 492.98 1817.28 495.97 1803.99ZM1009 1800.04 1006.33 1803.99 1009 1813.83 1011.42 1803.99ZM1073.61 1802.08 1070.56 1803.99 1073.61 1806.88 1080.47 1803.99ZM1260.49 1803.99 1267.44 1799.36 1274.49 1803.99 1267.44 1809.75ZM376.82 1817.28 379.03 1814.86 385.04 1817.28 379.03 1818.58ZM734.4 1812.33 731.62 1817.28 734.4 1818.28 750.55 1822.08 751.9 1817.28 750.55 1813.48ZM1041.3 1816.61 1038.93 1817.28 1041.3 1818.28 1050.67 1817.28ZM1122.07 1811.07 1112.06 1817.28 1122.07 1820.92 1127.28 1817.28ZM1181.18 1817.28 1186.68 1812.84 1202.83 1812.54 1209.47 1817.28 1202.83 1824.27 1186.68 1821.7ZM1535.12 1817.28 1542.05 1812.37 1546.56 1817.28 1542.05 1820.99ZM508.25 1828.68 502.5 1830.56 508.24 1843.85 508.25 1843.87 508.28 1843.85 509.36 1830.56ZM1009 1820.69 1006.58 1830.56 1009 1841.01 1011.04 1830.56ZM1057.46 1820.06 1054.51 1830.56 1057.46 1838.06 1073.61 1831.51 1080.37 1830.56 1073.61 1828.96ZM605.17 1840.27 600.59 1843.85 602.62 1857.13 605.17 1858.88 611.68 1857.13 621.32 1851.89 630.81 1843.85 621.32 1841.54ZM685.94 1835.72 679.95 1843.85 685.94 1848.8 688.92 1843.85ZM1138.94 1843.85 1154.37 1836.38 1161.79 1843.85 1154.37 1848.49 1144.01 1857.13 1138.22 1862.65 1122.07 1870.39 1111.98 1857.13 1122.07 1848.91 1138.22 1844.42ZM440.99 1857.13 443.64 1855.92 459.79 1853.35 470.68 1857.13 459.79 1861.53 445.42 1870.42 443.64 1872.18 438.5 1870.42ZM572.87 1853.51 567.27 1857.13 572.87 1863.44 579.31 1857.13ZM653.63 1855.2 652.14 1857.13 653.63 1859.57 654.8 1857.13ZM718.24 1847.86 711.06 1857.13 718.24 1865.07 729.71 1857.13ZM750.55 1850.21 742.19 1857.13 750.55 1860.57 756.62 1857.13ZM992.84 1854.83 988.55 1857.13 992.84 1859.39 998.57 1857.13ZM1057.46 1846.67 1042.35 1857.13 1054.38 1870.42 1057.46 1874.89 1063.82 1870.42 1073.61 1859.54 1076.54 1857.13 1073.61 1856.12ZM1164.93 1857.13 1170.53 1851.08 1179.25 1857.13 1170.53 1861.7ZM1232.39 1857.13 1235.14 1854.9 1246.29 1857.13 1235.14 1858.94ZM1339.28 1857.13 1348.21 1853.95 1351.46 1857.13 1348.21 1859.81ZM669.78 1869.54 667.06 1870.42 662.18 1883.7 669.78 1890.83 677.15 1896.99 685.94 1904.37 702.09 1903.56 718.24 1902.6 734.4 1900.24 739.44 1896.99 734.4 1895.59 721.2 1883.7 718.24 1877.92 702.09 1881.02 685.94 1874.75 673.37 1870.42ZM1147.76 1870.42 1154.37 1865.73 1160.04 1870.42 1154.37 1875.76ZM1246.68 1870.42 1251.29 1859.13 1258.27 1870.42 1251.29 1876.12ZM992.84 1881.44 987.51 1883.7 992.84 1888.34 997.44 1883.7ZM653.63 1894.83 649.13 1896.99 648.56 1910.28 653.63 1922.45 658.62 1910.28 656.89 1896.99ZM766.7 1894.74 762.68 1896.99 766.7 1908.06 769.4 1896.99ZM1009 1895 1005.91 1896.99 1009 1898.02 1011.5 1896.99ZM1057.46 1893.61 1051.64 1896.99 1050.26 1910.28 1057.46 1916.11 1073.61 1914.77 1079.01 1910.28 1073.61 1905.83 1065.04 1896.99ZM1144.54 1896.99 1154.37 1893.05 1159.11 1896.99 1154.37 1904.75ZM529.87 1910.28 540.56 1905.81 549.18 1910.28 540.56 1915.37ZM584.92 1910.28 589.02 1908.18 595.7 1910.28 589.02 1915.39ZM1025.15 1905.59 1021.94 1910.28 1010.95 1923.56 1025.15 1928.47 1035.24 1923.56 1035.19 1910.28ZM685.94 1920.64 681.36 1923.56 685.94 1925.49 689.5 1923.56ZM734.4 1920.22 732.8 1923.56 734.4 1926.2 739.73 1923.56ZM766.7 1910.65 755.27 1923.56 766.7 1928.98 774.47 1923.56ZM1164.66 1923.56 1170.53 1921.2 1172.09 1923.56 1170.53 1925.47ZM579.01 1936.85 589.02 1926.88 594.82 1936.85 589.02 1941.62ZM782.85 1933.44 779.55 1936.85 782.85 1943.17 786.97 1936.85ZM799.01 1948.18 793.93 1950.13 799.01 1953.22 800.33 1950.13ZM895.93 1945.48 893.13 1950.13 879.77 1962.32 876.17 1963.42 879.77 1974.35 895.93 1970.69 912.08 1976.22 917.04 1963.42 926.65 1950.13 912.08 1942.65ZM831.31 1962.29 824.88 1963.42 831.31 1964.59 833.8 1963.42ZM662.65 1976.71 669.78 1970.17 672.3 1976.71 669.78 1978.33ZM730.82 1976.71 734.4 1963.68 750.55 1972.51 766.7 1974.69 782.85 1969.19 789.86 1976.71 782.85 1983.97 766.7 1979.6 750.55 1979.62 734.4 1979.65ZM1077.47 1976.71 1089.76 1969.36 1105.91 1964.68 1112.85 1976.71 1105.91 1979.97 1089.76 1983.86ZM1006.12 1989.99 1009 1987.56 1012.82 1989.99 1009 1991.83ZM907.72 2016.57 912.08 2010.46 918.18 2016.57 912.08 2028.62ZM979.42 2016.57 992.84 2013.44 996.68 2016.57 992.84 2019.72ZM1015.62 2016.57 1025.15 2008.12 1035.49 2016.57 1025.15 2024.4ZM1120.49 2016.57 1122.07 2014.03 1123.63 2016.57 1122.07 2018.11ZM763.44 2029.85 766.7 2027.17 773.46 2029.85 766.7 2033.53ZM1037.48 2029.85 1041.3 2026.17 1045.14 2029.85 1041.3 2032.97Z" fill="none" stroke="#222222" stroke-width="5.8" stroke-linejoin="round" stroke-linecap="round"/>
<path d="M711.25 1166.26 718.24 1161.2 725.17 1166.26 718.24 1172.71ZM1278.82 1179.55 1283.6 1176.17 1286.98 1179.55 1283.6 1182.33ZM1209.99 1219.4 1218.99 1213.56 1226.18 1219.4 1218.99 1225.44ZM1137.35 1232.69 1138.22 1231.33 1154.37 1230.53 1158.83 1232.69 1154.37 1237.13 1148.45 1245.98 1138.22 1252.27 1128.1 1245.98ZM1182.41 1232.69 1186.68 1229.8 1199.65 1232.69 1202.83 1235.15 1218.99 1239.13 1228.16 1245.98 1227.56 1259.26 1218.99 1271.73 1211.48 1259.26 1202.83 1249.72 1193.97 1245.98 1186.68 1239.73ZM1330.92 1232.69 1332.06 1231.52 1333.2 1232.69 1332.06 1241.65ZM1265.88 1245.98 1267.44 1244.69 1283.6 1243.53 1287.27 1245.98 1283.6 1254.46 1267.44 1257.1ZM666.55 1259.26 669.78 1254.67 673.32 1259.26 669.78 1262.45ZM1293.1 1259.26 1299.75 1257.87 1303.79 1259.26 1299.75 1260.91ZM1425.27 1259.26 1428.97 1256.98 1431.73 1259.26 1428.97 1261.55ZM1235.51 1272.55 1251.29 1263 1267.35 1272.55 1251.29 1284.51ZM1313.76 1272.55 1315.9 1269.02 1316.99 1272.55 1327.55 1285.84 1315.9 1295.63 1313.98 1299.12 1299.75 1310.06 1296.8 1312.41 1283.6 1323.63 1281.97 1325.69 1283.6 1327.18 1297.79 1338.98 1299.75 1341.71 1314.38 1352.26 1315.9 1357.9 1318.01 1352.26 1332.06 1341.33 1336.39 1338.98 1348.21 1326.7 1359.35 1338.98 1364.36 1344.65 1380.52 1349.93 1390 1352.26 1380.52 1353.21 1364.36 1355.19 1350.33 1365.55 1348.21 1368.57 1332.06 1366.84 1315.9 1371.6 1299.75 1377.44 1283.6 1368.08 1278.39 1378.84 1267.44 1389.57 1256.63 1378.84 1253.39 1365.55 1251.29 1364.98 1249.48 1365.55 1235.14 1370.41 1218.99 1374.88 1209.37 1365.55 1202.83 1354.99 1186.68 1365.12 1180.8 1352.26 1186.68 1346.47 1200.08 1338.98 1202.83 1337.27 1218.99 1332.2 1227.49 1338.98 1235.14 1344.12 1245.82 1338.98 1251.29 1331.47 1253.05 1325.69 1257.1 1312.41 1267.44 1302.42 1283.6 1300.39 1285.08 1299.12 1294.07 1285.84 1299.75 1281.28ZM1160.68 1299.12 1170.53 1292.46 1179.38 1299.12 1170.53 1309.77ZM1215.36 1299.12 1218.99 1298.09 1235.14 1291.53 1248.59 1299.12 1235.14 1312.37 1235.06 1312.41 1218.99 1317.3 1202.83 1319.71 1192.82 1312.41 1202.83 1301.98ZM1336.87 1312.41 1348.21 1304.59 1364.36 1308.75 1380.52 1311.79 1381.99 1312.41 1380.52 1313.3 1364.36 1314.85 1348.21 1325.29ZM665.51 1325.69 669.78 1320.39 675.32 1325.69 669.78 1329.28ZM1162.24 1325.69 1170.53 1315.42 1186.68 1324.3 1187.98 1325.69 1186.68 1327.14 1170.53 1331.4ZM1230.52 1325.69 1235.14 1312.5 1243.54 1325.69 1235.14 1329.67ZM1150.37 1338.98 1154.37 1333.89 1159.35 1338.98 1154.37 1345.18ZM1053.46 1352.26 1057.46 1348.66 1061.84 1352.26 1057.46 1355.55ZM1150.22 1378.84 1154.37 1371.5 1159.53 1378.84 1154.37 1383.01ZM1216.44 1392.12 1218.99 1388.96 1234.14 1392.12 1235.14 1392.53 1251.29 1399.64 1267.44 1394.64 1283.6 1396.97 1290.33 1405.41 1283.6 1411.46 1267.44 1410.73 1251.29 1411.04 1241.61 1418.69 1235.14 1425.91 1228.86 1431.98 1218.99 1436.39 1211.56 1431.98 1202.83 1424.88 1195.34 1418.69 1202.83 1408.24 1210.74 1405.41ZM675.14 1405.41 685.94 1397.3 702.09 1404.1 703.71 1405.41 702.09 1406.56 685.94 1413.65ZM778.9 1405.41 782.85 1403 786.24 1405.41 782.85 1407.84ZM828.13 1405.41 831.31 1403.41 834.44 1405.41 831.31 1407.21ZM1049.3 1405.41 1057.46 1398.71 1073.61 1404.83 1089.76 1404.75 1090.92 1405.41 1096.54 1418.69 1089.76 1425.93 1082.43 1418.69 1073.61 1406.35 1057.46 1415.41ZM1150.55 1405.41 1154.37 1401.03 1170.53 1402.03 1185.08 1405.41 1170.53 1410.06 1154.37 1412.51ZM1314.17 1405.41 1315.9 1394.87 1320.41 1405.41 1323.51 1418.69 1315.9 1426.18 1304.49 1418.69ZM1343.74 1405.41 1348.21 1403.56 1364.36 1402 1370.26 1405.41 1364.36 1409.63 1348.21 1407.6ZM744.68 1431.98 750.55 1428.29 756.41 1431.98 750.55 1440.69ZM780.89 1431.98 782.85 1430.84 784.86 1431.98 782.85 1443.96ZM1131.74 1431.98 1138.22 1427.06 1143.74 1431.98 1138.22 1437.3ZM634.88 1445.27 637.48 1442.88 644.18 1445.27 637.48 1449.63ZM723.3 1445.27 734.4 1440.26 745.2 1445.27 734.4 1448.89ZM783.2 1445.27 799.01 1439.74 815.16 1439.62 822.2 1445.27 831.31 1447.68 847.47 1450.28 860.33 1458.55 863.62 1466.39 879.77 1469.34 895.93 1470.24 898.94 1471.84 912.08 1477.53 928.23 1479.67 939.74 1485.12 942.76 1498.41 944.38 1503.96 958.13 1511.7 944.38 1520.19 942.37 1524.98 944.38 1525.57 960.54 1529.73 970.62 1538.27 976.69 1540.6 992.84 1547.72 1001.46 1551.55 1009 1561.98 1010.82 1564.84 1009 1566.96 1001.47 1578.13 1009 1588.34 1018.87 1578.13 1025.15 1574.14 1041.3 1572.28 1057.46 1569.38 1061.22 1564.84 1073.61 1555.34 1088.35 1564.84 1073.61 1577.05 1071.49 1578.13 1065.64 1591.41 1073.61 1601.71 1079.08 1591.41 1089.76 1579.87 1103.69 1591.41 1105.8 1604.7 1105.91 1605.12 1111.77 1617.99 1122.07 1620.45 1126.98 1617.98 1138.22 1611.13 1147.47 1617.99 1138.22 1623.67 1131.58 1631.27 1122.07 1638.33 1111.53 1644.56 1112.71 1657.84 1122.07 1664.54 1127.85 1671.13 1138.22 1679.77 1141.95 1684.41 1138.22 1690.62 1122.07 1697.53 1105.91 1690.94 1102.58 1697.7 1103.67 1710.99 1105.91 1713.29 1122.07 1723.89 1125.79 1710.99 1138.22 1704.58 1149.77 1710.99 1138.22 1720.77 1122.46 1724.27 1122.07 1724.45 1116.64 1737.56 1122.07 1750.41 1122.28 1750.84 1122.07 1751.79 1121.5 1750.84 1105.91 1746.57 1100.49 1737.56 1089.76 1731.74 1080.54 1737.56 1073.61 1745.54 1064.72 1737.56 1065.19 1724.27 1057.46 1720.24 1048.3 1724.27 1041.4 1737.56 1041.3 1737.75 1041.07 1737.56 1025.15 1729.34 1017.37 1737.56 1009 1743.15 1004.84 1750.84 1009 1763.12 1018.17 1750.84 1025.15 1743.81 1033.77 1750.84 1041.3 1753.62 1050.29 1764.13 1050.13 1777.42 1048.3 1790.7 1057.46 1798.22 1062.75 1803.99 1057.46 1809.69 1041.3 1811.69 1025.15 1814.74 1018.62 1803.99 1010.84 1790.7 1012.21 1777.42 1009 1765.67 992.84 1772.35 982.52 1777.42 976.69 1785.85 970.79 1790.7 976.69 1803.03 984.17 1790.7 992.84 1787.06 1004.21 1790.7 998.43 1803.99 1002.04 1817.28 999.48 1830.56 998.35 1843.85 992.84 1847.36 976.69 1855.62 975.54 1857.13 976.69 1865.35 992.84 1866.71 998.73 1870.42 992.84 1874.12 976.69 1873.08 974.84 1883.7 976.69 1894.95 978.91 1896.99 992.84 1902.1 1009 1905.51 1014.03 1910.28 1009 1915.63 992.84 1915.95 976.69 1921.93 973.43 1923.56 973.8 1936.85 971.42 1950.13 960.54 1960.77 947.42 1950.13 944.38 1946.88 928.23 1943.72 916.53 1936.85 912.08 1927.24 895.93 1933.53 890.8 1936.85 885.13 1950.13 879.77 1955.02 863.62 1958.81 847.47 1962.81 831.31 1955.82 815.16 1958.64 806.75 1950.13 815.16 1940 824.56 1936.85 815.16 1931.11 807.96 1923.56 799.01 1917.97 789.85 1910.28 799.01 1902.36 815.16 1901.02 818.5 1896.99 815.16 1890.4 799.01 1890.89 782.85 1894.92 769.34 1883.7 766.7 1882.39 760.93 1883.7 750.55 1889.51 734.4 1889.12 728.38 1883.7 734.4 1877.38 750.55 1870.58 750.59 1870.42 766.7 1859.41 774.18 1857.13 766.7 1855.2 754.02 1843.85 758.22 1830.56 756.11 1817.28 752.89 1803.99 766.7 1795.36 782.85 1800.81 786.05 1803.99 799.01 1816.73 806.05 1803.99 804.77 1790.7 799.01 1786.01 782.85 1782.5 766.7 1787.65 753.04 1777.42 750.55 1775.36 746.66 1777.42 744.7 1790.7 734.4 1796.8 718.24 1799.95 716.8 1803.99 702.09 1813.4 696.8 1817.28 685.94 1826.04 669.78 1828.91 653.63 1829.61 652.2 1830.56 637.48 1840.39 621.32 1835.79 605.17 1830.91 603.83 1830.56 589.02 1820.15 581.86 1830.56 588.21 1843.85 572.87 1847.7 558.31 1857.13 556.71 1858.82 553.47 1857.13 548.14 1843.85 540.56 1841.66 524.41 1842.5 512.19 1830.56 508.25 1823.86 499.43 1817.28 503.09 1803.99 492.1 1797.07 481.18 1790.7 475.95 1778.11 475.45 1777.42 461.42 1764.13 464.67 1750.84 475.95 1737.59 475.99 1737.56 475.95 1737.4 472.89 1724.27 459.79 1714.8 455.84 1710.99 459.79 1706.54 475.95 1709.32 483.13 1697.7 475.95 1691.69 465.24 1684.41 467.47 1671.13 475.95 1667.48 487.37 1657.84 492.1 1654.87 499.25 1657.84 508.25 1660.84 521.05 1671.13 508.25 1679.14 494.53 1684.41 508.25 1687.62 522.81 1697.7 524.41 1698.9 529.76 1697.7 526.03 1684.41 527.3 1671.13 534.43 1657.84 524.41 1647.43 516.91 1644.56 524.41 1641.71 534.67 1631.27 534.4 1617.99 524.41 1611.27 516.49 1604.7 518.47 1591.41 524.41 1587.42 535.49 1578.13 524.41 1566.65 521.5 1564.84 514.76 1551.55 512.75 1538.27 508.25 1531.44 492.44 1538.27 492.1 1538.4 480.03 1538.27 486.69 1524.98 475.95 1513.75 459.79 1522.59 456.16 1511.7 459.64 1498.41 453.14 1485.12 459.79 1479.66 471.06 1471.84 475.95 1458.96 476.33 1458.55 492.1 1445.62 500.18 1458.55 508.25 1468.93 524.41 1465.11 532.76 1471.84 540.56 1476.46 548.77 1485.12 545.01 1498.41 540.56 1502.65 524.41 1501.81 519.09 1498.41 523.31 1485.12 508.25 1474.43 502.49 1485.12 499.77 1498.41 508.25 1511.4 508.5 1511.7 524.41 1520.53 540.56 1517.69 549.12 1524.98 550.93 1538.27 540.56 1545.92 535.25 1551.55 540.56 1559.21 551.53 1564.84 552.92 1578.13 556.71 1579.42 572.87 1590.76 589.02 1589.44 590.73 1578.13 589.02 1573.62 578.67 1564.84 589.02 1558.87 596.71 1564.84 605.17 1567.53 616.49 1564.84 621.32 1561.17 628.81 1564.84 637.48 1568.02 640.69 1564.84 639.28 1551.55 653.63 1543.48 657.54 1551.55 669.78 1562.34 679.18 1551.55 685.94 1542.44 691.03 1538.27 685.94 1529.33 682.93 1524.98 681.26 1511.7 685.94 1504.6 693.03 1498.41 685.94 1492.5 678.65 1498.41 669.78 1502.42 653.63 1510.31 642.95 1498.41 647.22 1485.12 648.47 1471.84 653.63 1468.01 669.78 1458.78 685.94 1462 702.09 1471.3 707.69 1458.55 718.24 1448.41 723.99 1458.55 734.4 1470.04 748.7 1458.55 750.55 1453.11 766.7 1458.1 770.08 1458.55 782.85 1459.04 783.5 1458.55ZM1086.94 1445.27 1089.76 1442.15 1092.98 1445.27 1089.76 1448.4ZM537.71 1458.55 540.56 1456.34 552.04 1458.55 540.56 1460.98ZM1218.16 1458.55 1218.99 1457.78 1219.91 1458.55 1218.99 1464.38ZM563.87 1471.84 572.87 1468.57 580.18 1471.84 572.87 1479.29ZM943.17 1471.84 944.38 1470.31 946.01 1471.84 944.38 1474.81ZM1132.24 1471.84 1138.22 1466.95 1143.34 1471.84 1138.22 1476.06ZM1175.16 1471.84 1186.68 1469.79 1190.43 1471.84 1186.68 1473.88ZM394.7 1485.12 395.18 1484.53 399.93 1485.12 395.18 1485.48ZM590.76 1485.12 605.17 1481.7 621.32 1481.76 624.99 1485.12 625.48 1498.41 621.32 1505.94 617.2 1498.41 605.17 1488.59ZM669.78 1483.29 667.07 1485.12 669.78 1488.74 674.11 1485.12ZM718.24 1475.89 703.5 1485.12 718.24 1488.98 722.11 1485.12ZM987.16 1485.12 992.84 1481.26 1002.31 1485.12 992.84 1490.99 987.66 1498.41 976.69 1504.64 965.6 1498.41 976.69 1490.55ZM1013.02 1485.12 1025.15 1476.91 1037.24 1485.12 1041.3 1488.5 1046.8 1498.41 1041.3 1502.86 1034.6 1498.41 1025.15 1490.68ZM475.95 1494.43 459.96 1498.41 475.95 1509.53 487.23 1498.41ZM1064.37 1498.41 1073.61 1490.88 1089.76 1496.96 1091.25 1498.41 1089.76 1502.52 1073.61 1508.17ZM718.24 1507.78 713.81 1511.7 718.24 1516.84 726.78 1511.7ZM442.38 1538.27 443.64 1536.93 459.79 1525.87 475.82 1538.27 475.95 1538.56 477.99 1551.55 492.1 1557.64 502.13 1564.84 492.1 1572.05 479.61 1578.13 492.1 1585.23 500.8 1591.41 492.1 1602.71 475.95 1604.24 468.19 1591.41 459.79 1585.23 449.96 1578.13 459.79 1571.64 466.57 1564.84 461.99 1551.56 459.79 1550.85 443.64 1541.88ZM614.79 1538.27 621.32 1531.28 625.69 1538.27 621.32 1543.7ZM1040.16 1551.55 1041.3 1550.17 1042.45 1551.55 1041.3 1556.12ZM1102.26 1551.55 1105.91 1547.94 1111.56 1551.55 1105.91 1554.56ZM436.58 1564.84 443.64 1558.64 448.02 1564.84 443.64 1569.86ZM1131.52 1564.84 1138.22 1556.8 1151.42 1564.84 1138.22 1571.46ZM621.32 1567.97 617.12 1578.13 621.32 1580.1 628.89 1578.13ZM669.78 1568.65 660.27 1578.13 669.78 1582.21 676.57 1578.13ZM637.48 1585.73 635.4 1591.41 637.48 1595.81 653.63 1592.95 654.39 1591.41 653.63 1589.6ZM750.55 1588.14 745.59 1591.41 750.55 1597.37 753.55 1591.41ZM1041.3 1582.62 1034.05 1591.41 1025.15 1602.51 1024.67 1604.7 1025.15 1610.24 1041.3 1606.62 1046.43 1604.7 1046.28 1591.41ZM540.56 1598.44 536.12 1604.7 540.56 1609.69 550.85 1604.7ZM621.32 1603.1 618.29 1604.7 621.32 1607.95 626.39 1604.7ZM1073.61 1613.08 1072.77 1617.99 1069.62 1631.27 1073.61 1637.56 1089.76 1640.85 1098.41 1631.27 1089.76 1627.25 1074.84 1617.99ZM669.78 1629.15 666.76 1631.27 669.78 1634.77 680.74 1631.27ZM960.54 1630.39 958.39 1631.27 960.54 1632.23 963.52 1631.27ZM440.97 1644.56 443.64 1642.07 446.36 1644.56 443.64 1648.27ZM799.01 1643.14 794.9 1644.56 783.77 1657.84 799.01 1664.89 805.23 1657.84 801.66 1644.56ZM750.55 1645.23 734.94 1657.84 740.4 1671.13 748.22 1684.41 746.64 1697.7 744.4 1710.99 743.82 1724.27 734.4 1730.34 729.19 1737.56 734.4 1743.97 750.55 1741.87 756.51 1737.56 759.96 1724.27 764.31 1710.99 760.73 1697.7 766.3 1684.41 760.64 1671.13 766.7 1662.79 780.68 1657.84 766.7 1650.18ZM1041.3 1650.92 1032.88 1657.84 1041.3 1665.17 1044.85 1657.84ZM1073.61 1651.52 1068.17 1657.84 1063.85 1671.13 1066.67 1684.41 1057.46 1694.24 1041.3 1686.12 1025.15 1688.45 1022.26 1684.41 1014.5 1671.13 1009 1662.56 1005.38 1671.13 992.84 1681.54 976.69 1682.38 971.49 1684.41 976.69 1688.83 992.84 1690.32 1005.68 1697.7 1009 1702.8 1025.15 1702.34 1041.3 1708.04 1057.46 1700.69 1067.5 1710.99 1073.61 1718.44 1080.45 1710.99 1076.93 1697.7 1089.2 1684.41 1089.76 1684.1 1097.74 1671.13 1089.76 1660.27 1086.29 1657.84ZM1264.01 1657.84 1267.44 1653.38 1271.23 1657.84 1267.44 1661.71ZM556.71 1661.49 552.15 1671.13 556.71 1674.57 571 1684.41 572.87 1685.94 577.28 1684.41 582.89 1671.13 572.87 1666.64ZM621.32 1666.81 609.03 1671.13 621.32 1674.99 625.07 1671.13ZM702.09 1666.16 693.62 1671.13 702.09 1679.43 706.48 1671.13ZM815.16 1669.89 812.63 1671.13 799.01 1680.29 782.85 1675.79 766.91 1684.41 772.76 1697.7 770.6 1710.99 782.85 1721.19 787.44 1724.27 796.86 1737.56 799.01 1748.52 801.99 1737.56 803.2 1724.27 815.16 1715.1 828.29 1724.27 826.11 1737.56 815.16 1745.52 800.09 1750.84 815.16 1762.6 817.93 1764.13 831.31 1766.69 838.37 1764.13 843.82 1750.84 837.68 1737.56 846.78 1724.27 840.42 1710.99 837.6 1697.7 831.31 1693.48 817.69 1684.41 815.73 1671.13ZM847.47 1662.36 843.55 1671.13 847.47 1681.19 853.19 1671.13ZM685.94 1680.47 683.67 1684.41 685.94 1686.84 692.24 1684.41ZM944.38 1682.92 942.42 1684.41 944.38 1686.62 947.78 1684.41ZM702.09 1689.42 696.18 1697.7 702.09 1705.63 718.24 1699.06 719.94 1697.7 718.24 1685.6ZM791.76 1697.7 799.01 1688.6 810.03 1697.7 799.01 1706.97ZM960.54 1692.37 955.16 1697.7 960.54 1707.19 967.2 1697.7ZM492.1 1710.1 485.91 1710.99 492.1 1719.88 508.25 1713.7 510.36 1710.99 508.25 1709.1ZM863.62 1706 861.74 1710.99 847.93 1724.27 863.62 1730.66 869.35 1724.27 867.26 1710.99ZM912.08 1709.79 911.31 1710.99 895.93 1720.78 889.15 1724.27 892.14 1737.56 895.93 1739.31 903.53 1737.56 912.08 1733.51 924.92 1724.27 916.29 1710.99ZM992.84 1706.67 990.73 1710.99 992.84 1712.75 1001.53 1710.99ZM524.41 1722.68 521.35 1724.27 524.41 1725.67 526.79 1724.27ZM976.69 1722.29 974.86 1724.27 976.69 1729.24 979.13 1724.27ZM508.25 1732.83 499.05 1737.56 508.25 1746.81 511.76 1737.56ZM1162.2 1737.56 1170.53 1733.66 1175.17 1737.56 1170.53 1742.74ZM863.62 1742.74 850.52 1750.84 863.62 1758.69 869.15 1750.85ZM928.23 1747.35 918.56 1750.84 928.23 1753.8 937.97 1750.84ZM1089.03 1750.84 1089.76 1750.54 1091.21 1750.84 1098.61 1764.13 1105.91 1766.89 1117.28 1777.42 1105.91 1784.55 1093.75 1790.7 1089.76 1797.18 1073.61 1797.19 1063.91 1790.7 1073.26 1777.42 1073.61 1777.33 1073.95 1777.42 1089.76 1783.76 1093.08 1777.42 1089.76 1771.45 1085.32 1764.13ZM408.34 1764.13 411.34 1759.37 419.43 1764.13 414.81 1777.42 411.34 1779.42 407.86 1777.42ZM766.7 1756.5 764.27 1764.13 766.7 1766.13 769.13 1764.13ZM895.93 1762.67 890.92 1764.13 895.93 1768.03 898.68 1764.13ZM976.69 1751.23 961.45 1764.13 976.69 1772.05 982.17 1764.13ZM702.09 1776.47 700.64 1777.42 702.09 1783.52 709.27 1777.42ZM928.23 1776.35 924 1777.42 926.67 1790.7 928.23 1791.07 928.97 1790.7 928.92 1777.42ZM442.24 1790.7 443.64 1787.8 445.1 1790.7 443.64 1793.41ZM448.04 1803.99 459.79 1797.22 473.48 1803.99 459.79 1812.63ZM540.56 1802.87 537.41 1803.99 534.56 1817.28 540.56 1822.82 551.26 1817.28 541.56 1803.99ZM831.31 1800.27 826.32 1803.99 831.31 1813.07 847.47 1809.56 854.38 1817.28 863.62 1821.49 867.01 1817.28 863.62 1808.25 856.08 1803.99 847.47 1796.13ZM976.69 1806.08 971.06 1817.28 976.27 1830.56 976.69 1832.26 979.2 1830.56 978.8 1817.28ZM1068.63 1817.28 1073.61 1814.3 1089.76 1811.07 1095.57 1817.28 1089.76 1822.06 1073.61 1820.62ZM782.85 1822.14 772.48 1830.56 781.62 1843.85 782.85 1847.76 784.08 1843.85 799.01 1832.43 801.92 1830.56 799.01 1818.64ZM1017.04 1830.56 1025.15 1819.09 1041.3 1825.71 1046.52 1830.56 1041.3 1838.16 1029.97 1843.85 1031.95 1857.13 1041.3 1862.1 1049.26 1870.42 1057.46 1882.34 1060.59 1883.7 1057.46 1885.24 1041.3 1888.98 1037.89 1883.7 1028.75 1870.42 1025.15 1865.13 1015.38 1857.13 1022.14 1843.85ZM489.53 1843.85 492.1 1836.85 496.09 1843.85 492.1 1853.1ZM694.03 1843.85 702.09 1833.28 713.48 1843.85 702.09 1857.03ZM1062.7 1843.85 1073.61 1836.47 1080.74 1843.85 1073.61 1851.19ZM630.1 1857.13 637.48 1850.97 643.1 1857.13 651.48 1870.42 637.48 1879.72 621.32 1877.34 605.17 1871.75 601.43 1870.42 605.17 1868.82 621.32 1863.39ZM661.92 1857.13 669.78 1843.97 685.68 1857.13 669.78 1863.65ZM1121 1857.13 1122.07 1856.27 1126.15 1857.13 1122.07 1858.53ZM692.84 1870.42 702.09 1857.38 711.44 1870.42 702.09 1874.56ZM847.47 1882.34 841.33 1883.7 847.47 1885.24 848.93 1883.7ZM1117.83 1883.7 1122.07 1882.33 1123.43 1883.7 1122.07 1887.09ZM705.77 1923.56 718.24 1911.41 725.67 1923.56 718.24 1935.94ZM781.54 1923.56 782.85 1920.79 786.36 1923.56 782.85 1925.11ZM847.47 1922.64 846.08 1923.56 841.92 1936.85 847.47 1938.82 851.04 1936.85 847.99 1923.56ZM879.77 1921.85 878.25 1923.56 879.77 1927.28 883.29 1923.56ZM1103.7 1923.56 1105.91 1922.55 1122.07 1922.68 1123.3 1923.56 1122.07 1925.09 1105.91 1925.33ZM665.89 1936.85 669.78 1933.56 685.94 1935.32 696.73 1936.85 685.94 1938.35 669.78 1941.41ZM761.42 1936.85 766.7 1933.92 771.49 1936.85 766.7 1941.77ZM797.01 1936.85 799.01 1933.8 804.31 1936.85 799.01 1938.73ZM983.36 1936.85 992.84 1931.33 1000.36 1936.85 992.84 1941.46ZM923.02 1963.42 928.23 1956.93 933.91 1963.42 930.1 1976.71 928.23 1978.48 925.99 1976.71ZM823.16 1976.71 831.31 1971.33 836.11 1976.71 831.31 1984.27ZM955.21 1976.71 960.54 1969.51 965.16 1976.71 960.54 1987.52ZM1021.14 2016.57 1025.15 2013.01 1029.5 2016.57 1025.15 2019.86Z" fill="none" stroke="#444444" stroke-width="5.8" stroke-linejoin="round" stroke-linecap="round"/>
<path d="M1136.01 1245.98 1138.22 1242.71 1140.46 1245.98 1138.22 1247.35ZM1213.92 1245.98 1218.99 1244.46 1221.02 1245.98 1218.99 1254.48ZM1241.99 1272.55 1251.29 1266.92 1260.76 1272.55 1251.29 1279.6ZM1231 1299.12 1235.14 1297.41 1238.17 1299.12 1235.14 1302.11ZM1291.79 1299.12 1299.75 1289.11 1307.47 1299.12 1299.75 1305.06ZM1197.89 1312.41 1202.83 1307.26 1214.81 1312.41 1202.83 1316.02ZM1260.86 1312.41 1267.44 1306.05 1283.6 1306.13 1290.49 1312.41 1283.6 1318.27 1277.74 1325.69 1283.6 1331.04 1293.14 1338.98 1299.75 1348.16 1305.43 1352.26 1299.75 1359.44 1283.6 1358.31 1267.44 1365.51 1251.29 1361.11 1237.3 1365.55 1235.14 1366.28 1218.99 1369.15 1215.28 1365.55 1209.97 1352.26 1215.9 1338.98 1218.99 1337.95 1220.28 1338.98 1235.14 1348.96 1251.29 1341.19 1254.88 1338.98 1257.24 1325.69ZM1343.37 1312.41 1348.21 1309.07 1358.39 1312.41 1348.21 1317.9ZM1330.34 1352.26 1332.06 1350.93 1342.8 1352.26 1332.06 1354.23ZM680.68 1405.41 685.94 1401.46 694.39 1405.41 685.94 1409.42ZM1054.06 1405.41 1057.46 1402.63 1064.65 1405.41 1057.46 1409.57ZM1272.74 1405.41 1283.6 1404.29 1284.49 1405.41 1283.6 1406.22ZM1088.39 1418.69 1089.76 1415.91 1091.03 1418.69 1089.76 1420.05ZM1213.01 1418.69 1218.99 1417.31 1222.08 1418.69 1218.99 1423.27ZM1313.42 1418.69 1315.9 1415.28 1317.56 1418.69 1315.9 1420.33ZM788.54 1458.55 799.01 1446.97 812.86 1458.55 815.16 1459.46 816.74 1458.55 831.31 1450.27 847.47 1454.32 854.06 1458.55 860.22 1471.84 863.62 1473.55 879.77 1473.96 894.67 1485.12 895.93 1486.48 911.15 1485.12 912.08 1484.97 928.23 1484.35 929.87 1485.12 934.4 1498.41 928.23 1504.7 917.24 1511.7 928.23 1523.91 929.18 1524.98 944.38 1529.42 957.53 1538.27 951.17 1551.55 960.54 1556.79 972.85 1551.55 976.69 1548.73 988.05 1551.55 987.11 1564.84 992.84 1574.88 994.52 1578.13 1001.33 1591.41 1009 1594.42 1019.92 1604.7 1015.04 1617.99 1025.15 1620.98 1032.1 1617.99 1041.3 1611.94 1057.46 1606.13 1067.36 1617.99 1065.89 1631.27 1057.46 1640.21 1041.3 1641.89 1036.76 1644.56 1025.15 1654.1 1009 1654.61 1006.74 1657.84 999.46 1671.13 992.84 1676.62 976.69 1678.91 962.63 1684.41 960.54 1685.93 958.1 1684.41 944.38 1678.39 936.43 1684.41 944.38 1693.31 948.65 1697.7 944.38 1703.35 928.23 1700.82 912.08 1699.72 904.79 1710.99 895.93 1716.63 883.92 1710.99 884.94 1697.7 880.51 1684.41 879.77 1677.2 863.62 1682.74 856.93 1671.13 852.23 1657.84 847.47 1653.96 831.31 1652.32 823.26 1657.84 831.31 1659.86 840.98 1671.13 831.31 1684.2 818.99 1671.13 815.16 1662.71 811.14 1657.84 809.5 1644.56 799.01 1638.95 782.85 1644.52 766.7 1640.81 750.96 1631.27 763.4 1617.99 755.63 1604.7 757.96 1591.41 750.55 1583.34 738.33 1591.41 734.4 1595.85 727.99 1604.7 734.4 1609 749.13 1617.99 734.4 1628.87 730.02 1631.27 718.24 1644.45 718.16 1644.56 709.7 1657.84 702.09 1660.34 685.94 1659.25 669.78 1667.5 667.71 1671.13 669.78 1674.77 676.73 1684.41 685.94 1694.24 689.2 1697.7 685.94 1708.29 685.52 1710.99 685.94 1712.18 702.09 1713.81 704.3 1710.99 718.24 1702.29 723.97 1697.7 724.06 1684.41 718.24 1678.73 711.63 1671.13 718.24 1661.47 731.11 1671.13 734.4 1673.27 743.1 1684.41 743.23 1697.7 740.42 1710.99 734.4 1723.66 733.39 1724.27 724.47 1737.56 718.24 1748.97 702.09 1744.3 687.5 1750.84 702.09 1754.59 718.24 1762.02 726.98 1750.84 734.4 1749.78 750.55 1748.32 756.22 1750.84 757.71 1764.13 750.55 1769.99 736.51 1777.42 734.4 1783.19 730.41 1777.42 718.24 1764.93 702.09 1773.19 695.62 1777.42 698.77 1790.7 702.09 1798.64 706.61 1803.99 702.09 1806.88 687.92 1817.28 685.94 1818.87 669.78 1819.55 653.63 1824.82 644.99 1830.56 637.48 1835.57 622.62 1830.56 629.8 1817.28 637.48 1814.54 653.63 1806.57 657.04 1803.99 654.03 1790.7 653.63 1790.44 652.49 1790.7 637.48 1798.06 625.32 1803.99 621.32 1811.1 618.53 1817.28 605.17 1824.49 596.06 1817.28 589.02 1811.61 580.1 1817.28 572.87 1825.23 564.27 1817.28 556.71 1814.81 545.58 1803.99 540.56 1798.38 524.75 1803.99 526.27 1817.28 540.56 1830.47 546.8 1830.56 540.56 1830.69 524.41 1839.73 515.02 1830.56 508.25 1819.05 505.88 1817.28 508.25 1809.66 522.94 1803.99 508.25 1801.73 492.1 1792.59 488.86 1790.7 491.7 1777.42 492.1 1777.13 507.68 1764.13 508.25 1763.02 510.08 1750.84 514.49 1737.56 508.25 1729.15 498.77 1724.27 508.25 1718.25 513.9 1710.99 508.25 1705.94 492.1 1703.98 487.56 1697.7 492.1 1690.22 508.25 1690.42 518.77 1697.7 524.41 1701.94 540.56 1699.58 544.3 1697.7 540.56 1694.64 534.65 1684.41 533.64 1671.13 540.56 1658.24 546.61 1671.13 556.71 1678.74 564.94 1684.41 572.87 1690.88 583.89 1697.7 589.02 1699.76 597.98 1697.7 595 1684.41 605.17 1680.85 621.32 1682.31 632.17 1671.13 621.32 1658.61 605.17 1666.73 589.54 1671.13 589.02 1672.89 588.85 1671.13 572.87 1663.96 560.45 1657.84 556.92 1644.56 556.71 1643.6 556.35 1644.56 540.56 1657.51 529.29 1644.56 540.56 1632.04 543.36 1631.27 556.71 1620.09 572.87 1619.79 587.6 1617.99 572.87 1615.52 563.39 1604.7 556.71 1599.06 546.03 1591.41 556.71 1585.33 564.99 1591.41 572.87 1597.73 588.82 1604.7 589.02 1609.57 589.2 1604.7 605.17 1596.29 608.45 1591.41 605.17 1585.42 598.6 1578.13 605.17 1573.3 610.61 1578.13 621.32 1583.16 631.59 1591.41 621.32 1599.94 612.28 1604.7 621.32 1614.41 636.44 1604.7 637.48 1603.86 641.17 1604.7 653.63 1608.74 657.87 1604.7 663.29 1591.41 669.78 1587.53 685.42 1578.13 676.7 1564.84 685.94 1552.18 702.09 1563.8 706.93 1551.55 718.24 1540.57 724.43 1538.27 734.4 1532.48 741.56 1524.98 750.55 1513.51 751.61 1511.7 750.55 1509.94 734.4 1502.91 718.24 1501.31 710.52 1498.41 718.24 1495.5 728.63 1485.12 734.4 1477.93 750.55 1484.69 751.19 1485.12 761.91 1498.41 766.7 1500.57 768.92 1498.41 770.06 1485.12 766.7 1475.21 763.2 1471.84 766.7 1469.01 782.85 1462.84ZM665.15 1471.84 669.78 1470.25 674.81 1471.84 669.78 1473.23ZM459.04 1485.12 459.79 1484.51 475.95 1473.57 492.1 1478.58 497.04 1485.12 492.1 1494.03 475.95 1491.32 459.79 1486.64ZM533.94 1485.12 540.56 1481.74 543.77 1485.12 540.56 1492.7ZM647.7 1498.41 653.63 1486.07 665.09 1498.41 653.63 1505.02ZM1068.64 1498.41 1073.61 1494.36 1082.94 1498.41 1073.61 1503.67ZM489.06 1511.7 492.1 1507.97 494.52 1511.7 492.1 1516.42ZM693.58 1511.7 702.09 1504.36 706.5 1511.7 717.48 1524.98 702.09 1537.47 693.9 1524.98ZM534.45 1524.98 540.56 1523.13 542.73 1524.98 540.56 1535.26 538.76 1538.27 527.23 1551.55 524.41 1555.79 521.89 1551.55 519.24 1538.27 524.41 1530.46ZM831.31 1522.51 829.15 1524.98 831.31 1526.76 847.47 1525.41 850.71 1524.98 847.47 1524.56ZM734.4 1549.42 733.41 1551.55 731.73 1564.84 734.4 1572.16 738.45 1564.84 736.29 1551.55ZM879.77 1546.79 878.3 1551.55 879.77 1552.12 881.01 1551.55ZM472.46 1564.84 475.95 1559.09 492.1 1561.56 496.67 1564.84 492.1 1568.13 475.95 1571.75ZM1065.25 1564.84 1073.61 1558.43 1083.56 1564.84 1073.61 1573.08ZM702.09 1565.99 687.03 1578.13 702.09 1590.46 704.52 1591.41 718.24 1593.74 724.57 1591.41 718.24 1587.49 710.03 1578.13ZM1049.31 1578.13 1057.46 1574.24 1063.69 1578.13 1057.46 1590.5ZM480.12 1591.41 492.1 1589.82 494.35 1591.41 492.1 1594.33ZM1085.06 1591.41 1089.76 1586.33 1095.89 1591.41 1092.14 1604.7 1098.6 1617.99 1089.76 1622.35 1082.73 1617.99 1086.66 1604.7ZM523.59 1604.7 524.41 1601.26 525.62 1604.7 524.41 1605.38ZM685.94 1594.34 683.51 1604.7 684.95 1617.99 669.78 1626.21 662.57 1631.27 669.78 1639.64 685.94 1637.66 702.09 1635.41 708.65 1631.27 702.09 1620.81 692.79 1617.99 702.09 1615.52 708.51 1604.7 702.09 1592.13ZM718.24 1616.58 711.12 1617.99 718.24 1619.68 719.53 1617.99ZM992.84 1611.99 986.78 1617.99 978 1631.27 982.98 1644.56 992.84 1646.79 997.46 1644.56 996.61 1631.27 1003.57 1617.99ZM589.02 1619.42 587.22 1631.27 585.62 1644.56 589.02 1650.56 605.17 1645.3 605.53 1644.56 605.17 1644.1 590.08 1631.27ZM960.54 1626.75 949.55 1631.27 960.54 1636.16 975.79 1631.27ZM1109.46 1631.27 1122.07 1625.8 1126.88 1631.27 1122.07 1634.84ZM1071.23 1644.56 1073.61 1643.44 1077.12 1644.56 1073.61 1645.67ZM928.23 1656.23 923.64 1657.84 928.23 1663.84 935.2 1657.84ZM1050.78 1657.84 1057.46 1651.13 1063.13 1657.84 1057.46 1668.57ZM499.38 1671.13 508.25 1666.75 513.7 1671.13 508.25 1674.54ZM912.08 1666.18 899.77 1671.13 904.77 1684.41 912.08 1691.15 914.18 1684.41 920.98 1671.13ZM1023.52 1671.13 1025.15 1667.33 1029.35 1671.13 1025.15 1673.79ZM1103.79 1671.13 1105.91 1665.75 1114.08 1671.13 1122.07 1675.15 1133.1 1684.41 1122.07 1690.2 1113.9 1684.41 1105.91 1675.28ZM470.69 1684.41 475.95 1676.4 484.79 1684.41 475.95 1687.98ZM1054.24 1684.41 1057.46 1679.02 1058.88 1684.41 1057.46 1685.94ZM621.32 1687.76 611.26 1697.7 621.32 1702.11 631.34 1697.7ZM975.25 1697.7 976.69 1696.35 983.16 1697.7 984.73 1710.99 976.69 1717.46 970.38 1724.27 960.54 1734.97 955.1 1737.56 944.38 1745.38 928.23 1738.79 924.79 1737.56 928.23 1735.36 944.38 1729.69 948.37 1724.27 960.54 1714.08 965.92 1710.99ZM605.17 1706.27 603.96 1710.99 605.17 1712.19 607.47 1710.99ZM846.42 1710.99 847.47 1706.26 849.59 1710.99 847.47 1712.99ZM1021.53 1710.99 1025.15 1709.54 1029.84 1710.99 1025.15 1713.84ZM1049.9 1710.99 1057.46 1707.88 1060.48 1710.99 1057.46 1713.77ZM1088.31 1710.99 1089.76 1702.01 1091.93 1710.99 1104.89 1724.27 1089.76 1728.47 1076.82 1724.27ZM524.41 1719.73 515.71 1724.27 524.41 1728.23 531.2 1724.27ZM556.71 1723.49 555.67 1724.27 556.71 1733.13 561.64 1724.27ZM809.69 1724.27 815.16 1720.08 821.17 1724.27 815.16 1736.49ZM878.3 1724.27 879.77 1720.82 881.1 1724.27 883.1 1737.56 895.93 1743.48 907.36 1750.84 912.08 1757.78 928.23 1761.04 944.38 1753.37 956.81 1764.13 960.25 1777.42 957.8 1790.7 954.75 1803.99 952.87 1817.28 960.54 1818.74 973.82 1830.56 976.69 1842.17 980.6 1843.85 976.69 1845.55 974.08 1843.85 960.54 1841.99 957.11 1843.85 960.54 1850.18 967.91 1857.13 971.46 1870.42 969.86 1883.7 972.6 1896.99 976.69 1906.38 985.48 1910.28 976.69 1913.53 960.54 1922.76 956.56 1923.56 960.54 1925.91 967.41 1936.85 965.97 1950.13 960.54 1955.44 953.99 1950.13 944.38 1939.85 929.06 1936.85 928.23 1935.78 924.44 1923.56 912.08 1913.81 897.06 1923.56 895.93 1924.17 895.16 1923.56 879.77 1916.05 873.13 1923.56 863.62 1934.21 853.46 1923.56 847.47 1912.97 841.04 1910.28 831.31 1902.31 828.5 1896.99 831.31 1892.84 847.47 1891.84 855.23 1883.7 847.47 1876.45 835.83 1870.42 834.35 1857.13 831.31 1854.96 815.16 1853.94 810.43 1857.13 815.16 1863.76 826.43 1870.42 815.16 1878.14 807.14 1870.42 799.01 1866.47 787.74 1870.42 788.89 1883.7 782.85 1885.24 781.01 1883.7 766.7 1876.56 758.43 1870.42 766.7 1864.77 782.85 1864.55 785.89 1857.13 790.05 1843.85 799.01 1837 809.02 1830.56 815.16 1822.04 831.31 1819.37 847.47 1821.71 863.62 1827.3 871.7 1817.28 872.6 1803.99 863.62 1797.36 855.94 1790.7 847.47 1784.6 838.71 1790.7 831.31 1794.35 820.06 1790.7 815.16 1783.19 807.95 1777.42 815.16 1774.99 831.31 1773.24 847.47 1769.01 863.62 1768.96 868.96 1777.42 873.44 1790.7 879.77 1796.66 893.59 1790.7 895.93 1786.88 912.08 1789.76 912.77 1790.7 928.23 1794.31 935.59 1790.7 934.48 1777.42 928.23 1767.78 912.08 1770.85 906.73 1764.13 895.93 1758.39 879.77 1761.71 874.28 1750.84 870.99 1737.56ZM985.09 1724.27 992.84 1717.76 1006.1 1724.27 1002.64 1737.56 998.34 1750.84 1001.49 1764.13 992.84 1768.42 987.27 1764.13 985.31 1750.84 981.15 1737.56ZM621.32 1733.54 617.45 1737.56 621.32 1739.23 628.96 1737.56ZM765.43 1737.56 766.7 1734.73 782.85 1733.15 786.64 1737.56 787.64 1750.84 798.58 1764.13 782.85 1773.43 778.01 1777.42 766.7 1782.78 759.54 1777.42 766.7 1771.5 775.65 1764.13 777.09 1750.84 766.7 1739.74ZM1071.35 1737.56 1073.61 1730.7 1075.37 1737.56 1073.61 1739.58ZM474.44 1750.84 475.95 1749.08 478.98 1750.84 484.74 1764.13 475.95 1771.76 467.74 1764.13ZM572.87 1746.36 571.66 1750.84 572.87 1751.67 574.22 1750.84ZM524.41 1761.67 509.04 1764.13 524.41 1769.94 537.29 1764.13ZM621.32 1761.61 618.69 1764.13 621.32 1769.43 624.49 1764.13ZM685.94 1752.02 682.1 1764.13 685.94 1769.23 690.83 1764.13ZM1017.5 1764.13 1025.15 1755.84 1041.3 1760.14 1044.72 1764.13 1041.3 1771.31 1033.93 1777.42 1035.57 1790.7 1041.3 1795.56 1051.58 1803.99 1041.3 1806.77 1027.41 1803.99 1025.15 1802.2 1019.83 1790.7 1020.2 1777.42ZM1101.15 1777.42 1105.91 1773.51 1110.14 1777.42 1105.91 1780.07ZM605.17 1789.5 599.4 1790.7 605.17 1791.05 606.91 1790.7ZM1071.22 1790.7 1073.61 1787.41 1079.62 1790.7 1073.61 1792.3ZM455.99 1803.99 459.79 1801.8 464.22 1803.99 459.79 1806.78ZM764.76 1803.99 766.7 1802.77 769.65 1803.99 778.84 1817.28 766.7 1827.17 760.32 1817.28ZM812.54 1803.99 815.16 1796 818.38 1803.99 815.16 1810.05ZM990.85 1817.28 992.84 1812.49 994.15 1817.28 992.84 1826.8ZM1023.05 1830.56 1025.15 1827.58 1033.27 1830.56 1025.15 1834.64ZM699.15 1843.85 702.09 1839.99 706.25 1843.85 702.09 1848.66ZM759.12 1843.85 766.7 1834.01 775.62 1843.85 766.7 1850.63ZM1070.03 1843.85 1073.61 1841.43 1075.95 1843.85 1073.61 1846.26ZM863.62 1854.47 859.21 1857.13 863.62 1858.73 867.75 1857.13ZM624.35 1870.42 637.48 1861.62 643.44 1870.42 637.48 1874.38ZM1036.84 1870.42 1041.3 1867.46 1044.13 1870.42 1041.3 1875.78ZM863.62 1903.79 851.62 1910.28 863.62 1914.3 870.84 1910.28ZM813.16 1950.13 815.16 1947.73 826.77 1950.13 815.16 1952.15Z" fill="none" stroke="#595959" stroke-width="5.8" stroke-linejoin="round" stroke-linecap="round"/>
<path d="M1248.46 1272.55 1251.29 1270.84 1254.17 1272.55 1251.29 1274.69ZM1264.61 1312.41 1267.44 1309.67 1283.6 1311.88 1284.18 1312.41 1283.6 1312.9 1273.5 1325.69 1283.6 1334.9 1288.5 1338.98 1283.6 1349.72 1274.44 1352.26 1267.44 1354.39 1251.29 1357.25 1238.33 1352.26 1251.29 1346.03 1262.75 1338.98 1261.44 1325.69ZM793.58 1458.55 799.01 1452.54 806.19 1458.55 815.16 1462.07 821.3 1458.55 831.31 1452.87 847.47 1458.35 847.78 1458.55 854.87 1471.84 863.62 1476.24 879.77 1476.75 890.95 1485.12 895.93 1490.49 912.08 1497.35 916.04 1498.41 912.08 1500.03 905.02 1511.7 895.93 1519.16 892.22 1524.98 895.93 1536.58 912.08 1534.31 915.97 1538.27 928.23 1540.82 934.74 1538.27 944.38 1533.27 951.82 1538.27 944.38 1549.82 943.57 1551.55 944.38 1552.03 960.54 1561.5 976.69 1560.18 979.41 1564.84 976.69 1577.7 976.56 1578.13 976.69 1578.21 990.86 1591.41 992.84 1598.31 1009 1598.88 1015.18 1604.7 1009 1614.37 992.84 1606.09 989.99 1604.7 976.69 1599.7 968.2 1604.7 976.69 1612.83 980.82 1617.99 976.69 1623.67 960.54 1623.12 944.38 1628.3 930.04 1631.27 944.38 1637.44 960.54 1640.1 971.93 1644.56 975.41 1657.84 976.69 1658.41 976.98 1657.84 992.84 1649.49 1003.05 1644.56 1001.14 1631.27 1009 1620.9 1025.15 1624.48 1040.2 1617.99 1041.3 1617.26 1057.46 1612.6 1061.96 1617.99 1062.17 1631.27 1057.46 1636.26 1041.3 1635.96 1026.66 1644.56 1025.15 1645.8 1009 1649.74 1003.35 1657.84 993.54 1671.13 992.84 1671.7 976.69 1675.44 967.68 1671.13 960.54 1663.11 950.51 1671.13 944.38 1673.86 933.55 1671.13 944.38 1661.59 948.71 1657.84 944.38 1653.45 928.23 1653.45 915.71 1657.84 912.08 1660.46 895.93 1664.37 879.77 1661.95 872.09 1657.84 863.62 1649.11 858.03 1644.56 847.47 1641.75 833.26 1631.27 831.31 1628.57 822.36 1631.27 815.16 1636.82 799.01 1634.76 782.85 1634.8 766.7 1635.46 759.78 1631.27 766.7 1625.24 776.15 1617.99 770.52 1604.7 766.7 1599.42 762.36 1591.41 750.55 1578.54 747.69 1578.13 743.91 1564.84 750.24 1551.55 750.55 1551.25 757.74 1538.27 750.55 1526.85 749.37 1524.98 750.55 1523.48 757.41 1511.7 766.7 1504.85 773.31 1498.41 774.44 1485.12 772.36 1471.84 782.85 1466.63ZM831.31 1467.03 827.28 1471.84 831.31 1483.25 838.96 1471.84ZM467.35 1485.12 475.95 1479.37 490.72 1485.12 475.95 1488.21ZM747.28 1498.41 750.55 1496.19 752.39 1498.41 750.55 1500.28ZM831.31 1514.4 822.06 1524.98 831.31 1532.59 847.47 1529.91 863.62 1533.86 867.35 1524.98 863.62 1521.73 847.47 1520.11ZM799.01 1534.16 794.06 1538.27 791.04 1551.55 799.01 1552.91 804.71 1551.55 807.31 1538.27ZM879.77 1535.3 869.12 1538.27 871.79 1551.55 879.77 1554.65 886.51 1551.55 893.81 1538.27ZM712.32 1551.55 718.24 1545.81 726.18 1551.55 728.13 1564.84 718.24 1577.36 706.15 1564.84ZM831.31 1544.81 821.22 1551.55 831.31 1554.47 840.43 1551.55ZM912.08 1542.6 908.02 1551.55 912.08 1554.3 914.26 1551.55ZM1069.27 1564.84 1073.61 1561.52 1078.77 1564.84 1073.61 1569.11ZM613.23 1591.41 621.32 1586.22 627.78 1591.41 621.32 1596.78ZM782.85 1587.59 774.77 1591.41 782.85 1595.67 785.8 1591.41ZM831.31 1581.78 828.2 1591.41 831.31 1601.58 839 1591.41ZM602.69 1604.7 605.17 1603.39 606.28 1604.7 618.41 1617.99 621.32 1621.3 636.33 1617.99 637.48 1617.5 639.84 1617.99 653.63 1619.97 655.24 1617.99 669.78 1604.81 679.53 1617.99 669.78 1623.27 658.38 1631.27 653.63 1638.06 640.63 1644.56 637.48 1652.01 621.32 1655.04 612.12 1657.84 605.17 1661.46 593.5 1657.84 605.17 1652.74 609.13 1644.56 605.17 1639.51 595.48 1631.27 594.27 1617.99ZM714.44 1604.7 718.24 1600.42 722.05 1604.7 718.24 1609.34ZM815.16 1603.41 811.3 1604.7 815.16 1606.82 824.75 1604.7ZM847.47 1602.16 840.06 1604.7 847.47 1606.55 848.45 1604.7ZM726.13 1617.99 734.4 1612.99 742.59 1617.99 734.4 1624.04ZM565.17 1631.27 572.87 1627.13 578.04 1631.27 580.04 1644.56 586.29 1657.84 572.87 1661.29 565.87 1657.84 563.9 1644.56ZM715.83 1631.27 718.24 1628.35 721.21 1631.27 718.24 1634.59ZM912.08 1629.14 910.42 1631.27 911.13 1644.56 912.08 1648.01 912.85 1644.56 926.24 1631.27ZM537.95 1644.56 540.56 1641.66 544.22 1644.56 540.56 1647.56ZM669.62 1644.56 669.78 1644.5 670.39 1644.56 669.87 1657.84 669.78 1657.89 669.37 1657.84ZM689.5 1644.56 702.09 1639.94 710.2 1644.56 702.09 1653.08ZM539.98 1671.13 540.56 1670.05 541.07 1671.13 540.56 1674.12ZM639.74 1671.13 653.63 1659.35 662.21 1671.13 669.78 1684.41 669.79 1684.41 669.78 1684.43 653.63 1692.85 637.48 1690.77 631.33 1684.41 637.48 1676ZM822.26 1671.13 831.31 1662.85 838.42 1671.13 831.31 1680.73ZM860.68 1671.13 863.62 1662.94 870.76 1671.13 863.62 1676.24ZM548.11 1684.41 556.71 1682.92 558.88 1684.41 556.71 1691.44ZM730.13 1684.41 734.4 1679.82 737.99 1684.41 739.82 1697.7 736.45 1710.99 734.4 1715.3 719.6 1724.27 719.74 1737.56 718.24 1740.31 702.09 1738.28 696.91 1737.56 685.94 1730.24 683.47 1737.56 681.55 1750.84 678.91 1764.13 685.94 1773.47 690.61 1777.42 693.72 1790.7 685.94 1801.86 679.31 1803.99 669.78 1808.77 665.98 1803.99 659.17 1790.7 653.63 1787.05 638.04 1790.7 637.48 1790.98 636.12 1790.7 621.32 1783.27 612.85 1777.42 605.17 1776.36 602.36 1777.42 589.02 1785.69 580.07 1790.7 572.87 1795.78 566.54 1803.99 556.71 1810.91 549.59 1803.99 540.56 1793.88 531.03 1790.7 540.56 1784.5 549.02 1777.42 550.35 1764.13 541.59 1750.84 540.56 1748.72 539.51 1750.85 524.41 1758.54 514.23 1750.84 517.22 1737.56 524.41 1730.8 535.6 1724.27 524.41 1716.79 517.44 1710.99 524.41 1704.99 540.56 1708.76 556.71 1700.25 564.06 1697.7 572.87 1695.81 575.91 1697.7 589.02 1702.97 599.69 1710.99 605.17 1716.43 615.53 1710.99 621.32 1707.28 637.48 1701.04 652.31 1710.99 650.67 1724.27 653.63 1728.32 669.78 1728.22 681.77 1724.27 669.78 1722.32 654.2 1710.99 669.78 1700.45 682 1710.99 685.94 1722.19 702.09 1720.44 709.48 1710.99 718.24 1705.53 727.99 1697.7ZM924.44 1684.41 928.23 1677.03 930.45 1684.41 928.23 1688.63ZM491.98 1697.7 492.1 1697.51 508.25 1693.22 514.73 1697.7 508.25 1702.77 492.1 1697.86ZM892.03 1697.7 895.93 1692.09 902.51 1697.7 898.26 1710.99 895.93 1712.48 892.76 1710.99ZM973.96 1710.99 976.69 1707.1 978.72 1710.99 976.69 1712.63ZM556.71 1718.16 548.56 1724.27 548.5 1737.56 556.71 1741.15 567.39 1750.84 572.87 1754.6 579 1750.84 578.17 1737.56 579.69 1724.27 572.87 1721.26ZM953.9 1724.27 960.54 1718.71 965.91 1724.27 960.54 1730.11ZM991.05 1724.27 992.84 1722.76 995.92 1724.27 992.84 1732.67ZM1086.89 1724.27 1089.76 1720.83 1093.12 1724.27 1089.76 1725.2ZM621.32 1726.15 610.34 1737.56 621.32 1742.29 636.92 1750.84 637.48 1751.33 638.49 1750.84 640.27 1737.56 637.48 1736.27ZM879.4 1750.84 879.77 1749.47 895.93 1747.66 900.88 1750.84 895.93 1754.11 879.77 1751.58ZM474.06 1764.13 475.95 1760.66 477.97 1764.13 475.95 1765.89ZM621.32 1758.78 615.71 1764.13 621.32 1775.41 628.05 1764.13ZM694.89 1764.13 702.09 1758.04 712.56 1764.13 702.09 1769.92ZM931.67 1764.13 944.38 1756.82 952.83 1764.13 951.36 1777.42 947.72 1790.7 944.38 1795.76 942.2 1790.7 940.03 1777.42ZM992.38 1764.13 992.84 1759.23 993.56 1764.13 992.84 1764.49ZM506.03 1777.42 508.25 1775.56 524.41 1777.35 524.58 1777.42 524.41 1777.64 514.79 1790.7 508.25 1793.46 502.34 1790.7ZM669.78 1773.98 665.59 1777.42 669.78 1781.74 678.13 1777.42ZM586.68 1803.99 589.02 1801.59 605.17 1796.1 616.21 1803.99 606.87 1817.28 605.17 1818.19 604.01 1817.28 589.02 1805.22ZM881.87 1803.99 895.93 1793.7 912.08 1797.49 928.23 1797.55 940.94 1803.99 928.23 1812.58 924.17 1817.27 924.71 1830.56 928.23 1833.28 934.67 1830.56 944.38 1820.2 960.54 1820.92 971.37 1830.56 960.54 1839.88 953.21 1843.85 944.38 1856.26 943.46 1857.13 944.38 1858.66 960.54 1857.63 965.68 1870.42 964.88 1883.7 968.22 1896.99 973.62 1910.28 960.54 1919.3 946.94 1910.28 944.38 1903.54 928.23 1910.14 912.08 1905.42 895.93 1908.87 879.77 1910.16 869 1896.99 863.62 1892.77 861.53 1883.7 847.47 1870.56 847.2 1870.42 841.33 1857.13 831.31 1849.95 815.16 1850.43 805.24 1857.13 799.01 1862.23 791.85 1857.13 796.02 1843.85 799.01 1841.56 815.16 1831.45 815.91 1830.56 831.31 1822.31 846.98 1830.56 842.58 1843.85 847.47 1848.84 851.1 1843.85 863.62 1833.13 865.43 1830.56 876.38 1817.28 879.77 1809.25ZM646.78 1817.28 653.63 1813.36 660.62 1817.28 653.63 1820.04ZM764.53 1817.28 766.7 1812.2 770.84 1817.28 766.7 1820.65ZM895.93 1814.66 887.55 1817.28 895.93 1820.13 899.06 1817.28ZM517.85 1830.56 524.41 1820.61 535.73 1830.56 524.41 1836.96ZM764.23 1843.85 766.7 1840.63 769.61 1843.85 766.7 1846.06ZM863.62 1850.71 852.96 1857.13 863.62 1860.98 873.6 1857.13ZM858.94 1923.56 863.62 1919.29 868 1923.56 863.62 1928.47ZM958.68 1936.85 960.54 1936.09 961.02 1936.85 960.54 1949.42Z" fill="none" stroke="#6b6b6b" stroke-width="5.8" stroke-linejoin="round" stroke-linecap="round"/>
<path d="M1265.64 1325.69 1267.44 1317.23 1269.27 1325.69 1267.44 1332.54ZM1248.38 1352.26 1251.29 1350.87 1255.54 1352.26 1251.29 1353.38ZM798.61 1458.55 799.01 1458.12 799.53 1458.55 815.16 1464.68 824.04 1471.84 824.29 1485.12 831.31 1488.48 835.76 1485.12 845.1 1471.84 847.47 1468.01 849.53 1471.84 863.62 1478.92 879.77 1479.54 887.22 1485.12 895.93 1494.51 904.25 1498.41 895.93 1509.35 894.05 1511.7 886.22 1524.98 879.77 1530.32 873.34 1524.98 863.62 1516.5 847.47 1515.66 838.22 1511.7 831.31 1508.77 828.35 1511.7 815.16 1524.86 814.66 1524.98 799.01 1529.18 788.05 1538.27 782.85 1545.8 770.52 1551.55 766.7 1554.14 763.9 1551.55 765.49 1538.27 766.7 1534.02 774.25 1524.98 766.7 1520.23 763.22 1511.7 766.7 1509.13 777.7 1498.41 778.81 1485.12 780.02 1471.84 782.85 1470.43ZM825.86 1458.55 831.31 1455.46 840.31 1458.55 831.31 1463.17ZM847.47 1496.43 845.29 1498.41 847.47 1502.29 850.36 1498.41ZM799.01 1505.36 793.09 1511.7 799.01 1518.56 802.77 1511.7ZM831.78 1538.27 847.47 1534.41 856.41 1538.27 863.62 1547.98 865.28 1551.55 879.77 1557.17 892.01 1551.55 895.93 1545.72 900.96 1551.55 912.08 1559.07 918.06 1551.55 928.23 1543.74 939.4 1551.55 944.38 1554.44 959.51 1564.84 960.54 1570.11 965.47 1578.13 960.54 1583.34 955.2 1591.41 944.38 1601.62 942.39 1604.7 944.38 1611.13 960.54 1605.12 969.78 1617.99 960.54 1619.48 944.38 1621.17 928.23 1626.32 912.08 1623.42 905.98 1631.27 905.21 1644.56 895.93 1655.74 883.6 1644.56 879.77 1635.32 863.62 1633.94 847.47 1635.93 841.15 1631.27 831.87 1617.99 847.47 1612.6 851.68 1604.7 847.47 1593.86 845.54 1591.41 847.47 1587.81 863.62 1582.76 879.77 1579.75 895.93 1578.42 909.32 1591.41 912.08 1597.19 915.93 1591.41 924.7 1578.13 912.08 1575.25 895.93 1576.82 879.77 1577.79 863.62 1568.53 847.47 1572.19 831.31 1575.77 828.29 1578.13 825.55 1591.41 815.16 1600.98 803.96 1604.7 815.16 1610.86 831.03 1617.99 815.16 1627.13 799.01 1628.35 788.61 1617.99 782.85 1614.93 776.39 1604.7 782.85 1599.97 788.78 1591.41 782.85 1583.73 766.7 1591.28 756.92 1578.13 766.7 1569.84 774.14 1564.84 782.85 1556.87 799.01 1557.02 815.16 1553.18 831.31 1557.37 847.47 1554.02 855.03 1551.55 847.47 1548.81ZM717.71 1551.55 718.24 1551.04 718.95 1551.55 724.54 1564.84 718.24 1572.81 710.54 1564.84ZM749.38 1564.84 750.55 1562.46 753.81 1564.84 750.55 1567.36ZM928.23 1564.09 926.34 1564.84 928.23 1573.23 928.81 1564.84ZM618 1591.41 621.32 1589.28 623.97 1591.41 621.32 1593.61ZM967.93 1591.41 976.69 1585.49 983.05 1591.41 976.69 1595.13ZM879.77 1598.1 877.64 1604.7 879.77 1605.71 895.93 1608.59 900.7 1604.7 895.93 1603.36ZM1004.41 1604.7 1009 1603.35 1010.43 1604.7 1009 1606.95ZM599.65 1617.99 605.17 1610.59 611.88 1617.99 621.32 1628.74 634.23 1631.27 633.67 1644.56 621.32 1651.94 612.73 1644.56 605.17 1634.92 600.88 1631.27ZM663.34 1617.99 669.78 1612.14 674.1 1617.99 669.78 1620.33ZM863.62 1614.54 854.03 1617.99 863.62 1629.6 866.2 1617.99ZM643.75 1631.27 653.63 1629.93 654.19 1631.27 653.63 1632.08ZM1005.68 1631.27 1009 1626.89 1025.15 1627.98 1038.36 1631.27 1025.15 1638.25 1010.12 1644.56 1009 1644.87 1008.64 1644.56ZM1048.46 1631.27 1057.46 1623.15 1058.44 1631.27 1057.46 1632.31ZM570.88 1644.56 572.87 1639.32 574.45 1644.56 575.9 1657.84 572.87 1658.62 571.29 1657.84ZM917.67 1644.56 928.23 1635.28 941.29 1644.56 928.23 1650.66ZM957.26 1644.56 960.54 1644.03 961.87 1644.56 960.54 1648.18ZM982.1 1657.84 992.84 1652.19 999.95 1657.84 992.84 1667.19 980.17 1671.13 976.69 1671.97 974.93 1671.13 976.69 1668.65ZM648.65 1671.13 653.63 1666.91 656.7 1671.13 659.56 1684.41 653.63 1687.51 645.43 1684.41ZM825.53 1671.13 831.31 1665.84 835.85 1671.13 831.31 1677.27ZM502.08 1697.7 508.25 1696.02 510.69 1697.7 508.25 1699.61ZM732.02 1697.7 734.4 1688.87 736.41 1697.7 734.4 1705ZM520.97 1710.99 524.41 1708.03 533.48 1710.99 524.41 1713.84ZM551.66 1710.99 556.71 1708.24 572.87 1702.04 589.02 1706.18 595.42 1710.99 589.02 1723.52 572.87 1716.75 556.71 1712.82ZM627.78 1710.99 637.48 1708.02 641.89 1710.99 647.07 1724.27 653.63 1733.25 669.78 1734.83 673.79 1737.56 676.59 1750.84 675.72 1764.13 669.78 1770.54 661.39 1777.42 653.63 1783.66 637.48 1787.78 623.95 1777.42 631.62 1764.13 637.48 1756.17 648.65 1750.84 647.4 1737.56 637.48 1733 624.86 1724.27ZM658.69 1710.99 669.78 1703.48 678.49 1710.99 669.78 1719.06ZM714.67 1710.99 718.24 1708.76 727.74 1710.99 718.24 1716.75ZM540 1724.27 540.56 1722.37 541.46 1724.27 540.56 1731.56ZM590.55 1724.27 605.17 1720.66 613.79 1724.27 605.17 1734.34ZM519.96 1737.56 524.41 1733.37 539.59 1737.56 533.36 1750.84 524.41 1755.4 518.38 1750.84ZM547.63 1750.84 556.71 1745.02 563.13 1750.84 572.87 1757.52 583.78 1750.84 589.02 1738.57 597.07 1750.84 605.17 1754.86 611.32 1750.84 621.32 1745.35 631.34 1750.84 621.32 1755.94 612.74 1764.13 605.17 1772.91 593.15 1777.42 589.02 1779.98 572.87 1786.65 561.26 1777.42 559.54 1764.13 556.71 1760.92ZM698.96 1764.13 702.09 1761.48 706.64 1764.13 702.09 1766.65ZM937.66 1764.13 944.38 1760.26 948.85 1764.13 944.38 1775.27ZM664.31 1790.7 669.78 1786.08 685.94 1778.91 688.68 1790.7 685.94 1794.63 669.78 1799.33ZM553.61 1803.99 556.71 1794.6 560.99 1803.99 556.71 1807ZM598.54 1803.99 605.17 1801.15 609.14 1803.99 605.17 1809.26ZM886.28 1803.99 895.93 1796.93 911.45 1803.99 912.08 1804.5 913.42 1803.99 928.23 1800.79 934.55 1803.99 928.23 1808.26 920.44 1817.28 918.83 1830.56 928.23 1837.83 944.38 1831.49 944.82 1830.56 960.54 1823.1 968.92 1830.56 960.54 1837.77 949.3 1843.85 944.38 1850.77 937.61 1857.13 944.38 1868.3 955.2 1870.42 959.44 1883.7 960.54 1885.63 963.84 1896.99 968.6 1910.28 960.54 1915.84 952.15 1910.28 951.01 1896.99 944.38 1893.95 939.77 1896.99 928.23 1904.44 912.08 1898.39 895.93 1905.66 883.05 1896.99 885.39 1883.7 879.77 1881.06 863.62 1881.4 851.26 1870.42 863.62 1863.24 879.44 1857.13 863.62 1846.95 857.96 1843.85 863.62 1839 869.57 1830.56 879.77 1818.61 895.93 1823.78 903.08 1817.28 895.93 1811.31ZM520.69 1830.56 524.41 1824.91 530.83 1830.56 524.41 1834.2ZM821.41 1830.56 831.31 1825.26 841.38 1830.56 833.34 1843.85 831.31 1844.95 815.16 1846.93 804.87 1843.85 815.16 1838.05ZM797.81 1857.13 799.01 1853.33 800.05 1857.13 799.01 1857.99ZM912.08 1871.38 904.35 1883.7 912.08 1894.95 919.28 1883.7Z" fill="none" stroke="#808080" stroke-width="5.8" stroke-linejoin="round" stroke-linecap="round"/>
<path d="M788.32 1471.84 799.01 1464.24 815.16 1467.29 820.8 1471.84 815.47 1485.12 831.31 1492.7 839.35 1498.41 831.31 1504.37 823.9 1511.7 815.16 1520.42 806.95 1511.7 799.26 1498.41 799.01 1498.34 797.73 1498.41 786.5 1511.7 782.85 1517.97 773.47 1511.7 782.09 1498.41 782.85 1489.19 783.3 1485.12ZM841.34 1485.12 847.47 1476.61 863.62 1481.61 879.77 1482.33 883.5 1485.12 879.77 1492.06 870.5 1498.41 879.77 1506.52 885.04 1511.7 880.21 1524.98 879.77 1525.35 879.33 1524.98 865.61 1511.7 863.62 1510.26 858.25 1498.41 847.47 1491.04ZM921.86 1551.55 928.23 1546.66 935.23 1551.55 944.38 1556.86 956 1564.84 948.5 1578.13 947.42 1591.41 944.38 1594.28 937.64 1604.7 936.61 1617.99 928.23 1621.1 913.35 1617.99 913.83 1604.7 922.52 1591.41 928.23 1584.92 941.58 1578.13 932.43 1564.84 928.23 1559.41ZM714.94 1564.84 718.24 1558.8 720.94 1564.84 718.24 1568.26ZM783 1564.84 799.01 1561.13 815.16 1557.29 831.31 1560.27 847.29 1564.84 831.31 1571.53 822.84 1578.13 822.91 1591.41 815.16 1598.54 799.01 1603.14 791.76 1591.41 782.85 1579.87 766.7 1581.92 763.88 1578.13 766.7 1575.74 782.85 1565.07ZM868.5 1564.84 879.77 1559.7 893.15 1564.84 879.77 1573.53ZM906.71 1564.84 912.08 1563.84 914.55 1564.84 912.08 1566.65ZM882.83 1591.41 895.93 1583 904.6 1591.41 895.93 1599.15ZM854.9 1604.7 863.62 1593.25 873.85 1604.7 879.77 1607.51 895.31 1617.99 895.93 1620.03 901.54 1631.27 899.3 1644.56 895.93 1648.62 891.44 1644.56 885.96 1631.27 879.77 1629.69 868.19 1617.99 863.62 1611.88ZM804.58 1617.99 815.16 1614.89 822.05 1617.99 815.16 1621.96ZM616.33 1644.56 621.32 1635.56 628.5 1644.56 621.32 1648.85ZM922.49 1644.56 928.23 1639.51 935.33 1644.56 928.23 1647.88ZM987.23 1657.84 992.84 1654.89 996.56 1657.84 992.84 1662.72ZM828.8 1671.13 831.31 1668.83 833.29 1671.13 831.31 1673.8ZM568.1 1710.99 572.87 1709.06 589.02 1709.39 591.15 1710.99 589.02 1715.16 572.87 1712.23ZM663.17 1710.99 669.78 1706.52 674.97 1710.99 669.78 1715.8ZM629.6 1724.27 637.48 1714.41 643.46 1724.27 637.48 1729.72ZM522.69 1737.56 524.41 1735.94 530.27 1737.56 527.2 1750.84 524.41 1752.27 522.52 1750.84ZM553.67 1750.84 556.71 1748.89 558.86 1750.84 556.71 1754.22ZM616.89 1750.84 621.32 1748.41 625.76 1750.84 621.32 1753.1ZM662.97 1750.84 669.78 1745.68 671.63 1750.84 672.52 1764.13 669.78 1767.09 654.03 1764.13ZM565.44 1764.13 572.87 1760.45 582.95 1764.13 572.87 1774.67ZM594.35 1764.13 605.17 1758.51 609.76 1764.13 605.17 1769.46ZM635.19 1764.13 637.48 1761.02 653.11 1764.13 653.63 1764.46 657.18 1777.42 653.63 1780.28 637.48 1784.74 627.92 1777.42ZM890.69 1803.99 895.93 1800.16 904.35 1803.99 895.93 1807.96ZM907.1 1817.28 912.08 1810.2 916.71 1817.28 912.95 1830.56 912.08 1833.43 906.69 1843.85 895.93 1854.85 879.77 1847.39 869.08 1843.85 873.71 1830.56 879.77 1823.46 895.93 1827.44ZM826.92 1830.56 831.31 1828.21 835.78 1830.56 831.31 1837.28ZM949.42 1830.56 960.54 1825.28 966.47 1830.56 960.54 1835.67ZM922.13 1843.85 928.23 1842.37 944.38 1841.29 945.4 1843.85 944.38 1845.28 931.77 1857.13 936.67 1870.42 944.38 1877.14 950.9 1883.7 944.38 1888.13 930.94 1896.99 928.23 1898.74 923.75 1896.99 925.87 1883.7 920.43 1870.42 920.79 1857.13ZM855.14 1870.42 863.62 1865.49 879.77 1862.14 891.17 1870.42 879.77 1876.91 863.62 1877.95ZM894.22 1883.7 895.93 1880.67 897.29 1883.7 906.92 1896.99 895.93 1902.46 887.81 1896.99ZM957.36 1910.28 960.54 1900.82 963.59 1910.28 960.54 1912.38Z" fill="none" stroke="#959595" stroke-width="5.8" stroke-linejoin="round" stroke-linecap="round"/>
<path d="M797.01 1471.84 799.01 1470.42 815.16 1469.9 817.56 1471.84 815.16 1477.62 809.26 1485.12 799.01 1493.4 789.17 1485.12ZM846.93 1485.12 847.47 1484.38 863.62 1484.3 879.77 1485.12 879.78 1485.12 879.77 1485.14 863.62 1491.63 847.47 1485.64ZM817.63 1498.41 831.31 1496.92 833.41 1498.41 831.31 1499.97ZM811.13 1511.7 815.16 1499.24 819.45 1511.7 815.16 1515.98ZM925.65 1551.55 928.23 1549.58 931.06 1551.55 928.23 1554.73ZM800.69 1564.84 815.16 1561.39 831.31 1563.17 837.15 1564.84 831.31 1567.29 817.38 1578.13 820.26 1591.41 815.16 1596.11 799.01 1598.32 794.74 1591.41 799.01 1581.73 808.17 1578.13ZM874.03 1564.84 879.77 1562.22 886.59 1564.84 879.77 1569.26ZM936.05 1564.84 944.38 1559.27 952.48 1564.84 944.38 1574.67ZM889.96 1591.41 895.93 1587.58 899.88 1591.41 895.93 1594.94ZM858.13 1604.7 863.62 1597.49 870.06 1604.7 879.77 1609.31 892.64 1617.99 895.93 1628.91 897.1 1631.27 895.93 1636.35 893.84 1631.27 879.77 1627.68 870.18 1617.99 863.62 1609.22ZM921.1 1604.7 928.23 1593.01 932.89 1604.7 928.23 1614.11ZM634.35 1724.27 637.48 1720.35 639.86 1724.27 637.48 1726.44ZM601.36 1764.13 605.17 1762.15 606.79 1764.13 605.17 1766.01ZM631.88 1777.42 637.48 1766.82 652.03 1777.42 637.48 1781.71ZM911.11 1817.28 912.08 1815.91 912.97 1817.28 912.08 1820.19ZM877.85 1830.56 879.77 1828.31 892.06 1830.56 879.77 1836.07ZM954.01 1830.56 960.54 1827.46 964.02 1830.56 960.54 1833.56ZM894.36 1843.85 895.93 1839.52 896.64 1843.85 895.93 1844.57ZM859.02 1870.42 863.62 1867.75 879.77 1867.45 883.86 1870.42 879.77 1872.75 863.62 1874.51ZM892.57 1896.99 895.93 1890.8 900.47 1896.99 895.93 1899.25Z" fill="none" stroke="#acacac" stroke-width="5.8" stroke-linejoin="round" stroke-linecap="round"/>
<path d="M795.05 1485.12 799.01 1478.92 803.14 1485.12 799.01 1488.46ZM939.67 1564.84 944.38 1561.69 948.97 1564.84 944.38 1570.41ZM797.72 1591.41 799.01 1588.49 815.16 1583.31 817.61 1591.41 815.16 1593.67 799.01 1593.5ZM861.36 1604.7 863.62 1601.73 866.28 1604.7 863.62 1606.56ZM872.17 1617.99 879.77 1611.11 889.97 1617.99 879.77 1625.67ZM635.85 1777.42 637.48 1774.33 641.72 1777.42 637.48 1778.67ZM862.9 1870.42 863.62 1870 868.4 1870.42 863.62 1871.06Z" fill="none" stroke="#c6c6c6" stroke-width="5.8" stroke-linejoin="round" stroke-linecap="round"/>
<path d="M874.16 1617.99 879.77 1612.91 887.3 1617.99 879.77 1623.66Z" fill="none" stroke="#dedede" stroke-width="5.8" stroke-linejoin="round" stroke-linecap="round"/>
<path d="M876.15 1617.99 879.77 1614.71 884.64 1617.99 879.77 1621.65Z" fill="none" stroke="#f0f0f0" stroke-width="5.8" stroke-linejoin="round" stroke-linecap="round"/>
</g>
<g shape-rendering="crispEdges">
<rect x="2610.5" y="2148.5" width="150" height="12.5" fill="#653399"/>
<rect x="2610.5" y="2136.5" width="150" height="12.5" fill="#633398"/>
<rect x="2610.5" y="2124.5" width="150" height="12.5" fill="#623397"/>
<rect x="2610.5" y="2112.5" width="150" height="12.5" fill="#603396"/>
<rect x="2610.5" y="2100.5" width="150" height="12.5" fill="#5e3496"/>
<rect x="2610.5" y="2088.5" width="150" height="12.5" fill="#5d3495"/>
<rect x="2610.5" y="2076.5" width="150" height="12.5" fill="#5b3494"/>
<rect x="2610.5" y="2064.5" width="150" height="12.5" fill="#593493"/>
<rect x="2610.5" y="2052.5" width="150" height="12.5" fill="#583493"/>
<rect x="2610.5" y="2040.5" width="150" height="12.5" fill="#563492"/>
<rect x="2610.5" y="2028.5" width="150" height="12.5" fill="#543491"/>
<rect x="2610.5" y="2016.5" width="150" height="12.5" fill="#523490"/>
<rect x="2610.5" y="2004.5" width="150" height="12.5" fill="#513490"/>
<rect x="2610.5" y="1992.5" width="150" height="12.5" fill="#4f358f"/>
<rect x="2610.5" y="1980.5" width="150" height="12.5" fill="#4d358e"/>
<rect x="2610.5" y="1968.5" width="150" height="12.5" fill="#4c358d"/>
<rect x="2610.5" y="1956.5" width="150" height="12.5" fill="#4a358d"/>
<rect x="2610.5" y="1944.5" width="150" height="12.5" fill="#48358c"/>
<rect x="2610.5" y="1932.5" width="150" height="12.5" fill="#47358b"/>
<rect x="2610.5" y="1920.5" width="150" height="12.5" fill="#45358a"/>
<rect x="2610.5" y="1908.5" width="150" height="12.5" fill="#43358a"/>
<rect x="2610.5" y="1896.5" width="150" height="12.5" fill="#413689"/>
<rect x="2610.5" y="1884.5" width="150" height="12.5" fill="#403688"/>
<rect x="2610.5" y="1872.5" width="150" height="12.5" fill="#3e3687"/>
<rect x="2610.5" y="1860.5" width="150" height="12.5" fill="#3c3687"/>
<rect x="2610.5" y="1848.5" width="150" height="12.5" fill="#3b3686"/>
<rect x="2610.5" y="1836.5" width="150" height="12.5" fill="#393685"/>
<rect x="2610.5" y="1824.5" width="150" height="12.5" fill="#373684"/>
<rect x="2610.5" y="1812.5" width="150" height="12.5" fill="#363684"/>
<rect x="2610.5" y="1800.5" width="150" height="12.5" fill="#343683"/>
<rect x="2610.5" y="1788.5" width="150" height="12.5" fill="#323782"/>
<rect x="2610.5" y="1776.5" width="150" height="12.5" fill="#303781"/>
<rect x="2610.5" y="1764.5" width="150" height="12.5" fill="#2f3781"/>
<rect x="2610.5" y="1752.5" width="150" height="12.5" fill="#2d3780"/>
<rect x="2610.5" y="1740.5" width="150" height="12.5" fill="#2b377f"/>
<rect x="2610.5" y="1728.5" width="150" height="12.5" fill="#2a377e"/>
<rect x="2610.5" y="1716.5" width="150" height="12.5" fill="#28377e"/>
<rect x="2610.5" y="1704.5" width="150" height="12.5" fill="#26377d"/>
<rect x="2610.5" y="1692.5" width="150" height="12.5" fill="#25377c"/>
<rect x="2610.5" y="1680.5" width="150" height="12.5" fill="#23387b"/>
<rect x="2610.5" y="1668.5" width="150" height="12.5" fill="#21387b"/>
<rect x="2610.5" y="1656.5" width="150" height="12.5" fill="#1f387a"/>
<rect x="2610.5" y="1644.5" width="150" height="12.5" fill="#1e3879"/>
<rect x="2610.5" y="1632.5" width="150" height="12.5" fill="#1c3878"/>
<rect x="2610.5" y="1620.5" width="150" height="12.5" fill="#1a3878"/>
<rect x="2610.5" y="1608.5" width="150" height="12.5" fill="#193877"/>
<rect x="2610.5" y="1596.5" width="150" height="12.5" fill="#173876"/>
<rect x="2610.5" y="1584.5" width="150" height="12.5" fill="#153975"/>
<rect x="2610.5" y="1572.5" width="150" height="12.5" fill="#143975"/>
<rect x="2610.5" y="1560.5" width="150" height="12.5" fill="#123974"/>
<rect x="2610.5" y="1548.5" width="150" height="12.5" fill="#103973"/>
<rect x="2610.5" y="1536.5" width="150" height="12.5" fill="#0e3972"/>
<rect x="2610.5" y="1524.5" width="150" height="12.5" fill="#0d3972"/>
<rect x="2610.5" y="1512.5" width="150" height="12.5" fill="#0b3971"/>
<rect x="2610.5" y="1500.5" width="150" height="12.5" fill="#093970"/>
<rect x="2610.5" y="1488.5" width="150" height="12.5" fill="#08396f"/>
<rect x="2610.5" y="1476.5" width="150" height="12.5" fill="#063a6f"/>
<rect x="2610.5" y="1464.5" width="150" height="12.5" fill="#043a6e"/>
<rect x="2610.5" y="1452.5" width="150" height="12.5" fill="#033a6d"/>
<rect x="2610.5" y="1440.5" width="150" height="12.5" fill="#013a6c"/>
<rect x="2610.5" y="1428.5" width="150" height="12.5" fill="#003b6b"/>
<rect x="2610.5" y="1416.5" width="150" height="12.5" fill="#013c6a"/>
<rect x="2610.5" y="1404.5" width="150" height="12.5" fill="#013d69"/>
<rect x="2610.5" y="1392.5" width="150" height="12.5" fill="#023f68"/>
<rect x="2610.5" y="1380.5" width="150" height="12.5" fill="#034066"/>
<rect x="2610.5" y="1368.5" width="150" height="12.5" fill="#034165"/>
<rect x="2610.5" y="1356.5" width="150" height="12.5" fill="#044364"/>
<rect x="2610.5" y="1344.5" width="150" height="12.5" fill="#044463"/>
<rect x="2610.5" y="1332.5" width="150" height="12.5" fill="#054562"/>
<rect x="2610.5" y="1320.5" width="150" height="12.5" fill="#054760"/>
<rect x="2610.5" y="1308.5" width="150" height="12.5" fill="#06485f"/>
<rect x="2610.5" y="1296.5" width="150" height="12.5" fill="#074a5e"/>
<rect x="2610.5" y="1284.5" width="150" height="12.5" fill="#074b5d"/>
<rect x="2610.5" y="1272.5" width="150" height="12.5" fill="#084c5b"/>
<rect x="2610.5" y="1260.5" width="150" height="12.5" fill="#084e5a"/>
<rect x="2610.5" y="1248.5" width="150" height="12.5" fill="#094f59"/>
<rect x="2610.5" y="1236.5" width="150" height="12.5" fill="#095058"/>
<rect x="2610.5" y="1224.5" width="150" height="12.5" fill="#0a5256"/>
<rect x="2610.5" y="1212.5" width="150" height="12.5" fill="#0a5355"/>
<rect x="2610.5" y="1200.5" width="150" height="12.5" fill="#0b5454"/>
<rect x="2610.5" y="1188.5" width="150" height="12.5" fill="#0c5653"/>
<rect x="2610.5" y="1176.5" width="150" height="12.5" fill="#0c5751"/>
<rect x="2610.5" y="1164.5" width="150" height="12.5" fill="#0d5850"/>
<rect x="2610.5" y="1152.5" width="150" height="12.5" fill="#0d5a4f"/>
<rect x="2610.5" y="1140.5" width="150" height="12.5" fill="#0e5b4e"/>
<rect x="2610.5" y="1128.5" width="150" height="12.5" fill="#0e5c4d"/>
<rect x="2610.5" y="1116.5" width="150" height="12.5" fill="#0f5e4b"/>
<rect x="2610.5" y="1104.5" width="150" height="12.5" fill="#105f4a"/>
<rect x="2610.5" y="1092.5" width="150" height="12.5" fill="#106049"/>
<rect x="2610.5" y="1080.5" width="150" height="12.5" fill="#116248"/>
<rect x="2610.5" y="1068.5" width="150" height="12.5" fill="#116346"/>
<rect x="2610.5" y="1056.5" width="150" height="12.5" fill="#126545"/>
<rect x="2610.5" y="1044.5" width="150" height="12.5" fill="#126644"/>
<rect x="2610.5" y="1032.5" width="150" height="12.5" fill="#136743"/>
<rect x="2610.5" y="1020.5" width="150" height="12.5" fill="#146941"/>
<rect x="2610.5" y="1008.5" width="150" height="12.5" fill="#146a40"/>
<rect x="2610.5" y="996.5" width="150" height="12.5" fill="#156b3f"/>
<rect x="2610.5" y="984.5" width="150" height="12.5" fill="#156d3e"/>
<rect x="2610.5" y="972.5" width="150" height="12.5" fill="#166e3d"/>
<rect x="2610.5" y="960.5" width="150" height="12.5" fill="#166f3b"/>
<rect x="2610.5" y="948.5" width="150" height="12.5" fill="#17713a"/>
<rect x="2610.5" y="936.5" width="150" height="12.5" fill="#187239"/>
<rect x="2610.5" y="924.5" width="150" height="12.5" fill="#187338"/>
<rect x="2610.5" y="912.5" width="150" height="12.5" fill="#197536"/>
<rect x="2610.5" y="900.5" width="150" height="12.5" fill="#197635"/>
<rect x="2610.5" y="888.5" width="150" height="12.5" fill="#1a7734"/>
<rect x="2610.5" y="876.5" width="150" height="12.5" fill="#1a7933"/>
<rect x="2610.5" y="864.5" width="150" height="12.5" fill="#1b7a31"/>
<rect x="2610.5" y="852.5" width="150" height="12.5" fill="#1b7b30"/>
<rect x="2610.5" y="840.5" width="150" height="12.5" fill="#1c7d2f"/>
<rect x="2610.5" y="828.5" width="150" height="12.5" fill="#1d7e2e"/>
<rect x="2610.5" y="816.5" width="150" height="12.5" fill="#1d802c"/>
<rect x="2610.5" y="804.5" width="150" height="12.5" fill="#1e812b"/>
<rect x="2610.5" y="792.5" width="150" height="12.5" fill="#1e822a"/>
<rect x="2610.5" y="780.5" width="150" height="12.5" fill="#1f8429"/>
<rect x="2610.5" y="768.5" width="150" height="12.5" fill="#1f8528"/>
<rect x="2610.5" y="756.5" width="150" height="12.5" fill="#208626"/>
<rect x="2610.5" y="744.5" width="150" height="12.5" fill="#218825"/>
<rect x="2610.5" y="732.5" width="150" height="12.5" fill="#218924"/>
<rect x="2610.5" y="720.5" width="150" height="12.5" fill="#228a23"/>
</g>
<path d="M360.5 600.5V569M360.5 120.5V152M866.5 600.5V569M866.5 120.5V152M1372.5 600.5V569M1372.5 120.5V152" stroke="#000" stroke-width="2.1" fill="none"/>
<path d="M487 600.5V584M487 120.5V137M613.5 600.5V584M613.5 120.5V137M740 600.5V584M740 120.5V137M993 600.5V584M993 120.5V137M1119.5 600.5V584M1119.5 120.5V137M1246 600.5V584M1246 120.5V137M1499 600.5V584M1499 120.5V137M1625.5 600.5V584M1625.5 120.5V137M1752 600.5V584M1752 120.5V137" stroke="#000" stroke-width="2.1" fill="none"/>
<path d="M360.5 2160.5V2129M360.5 720.5V752M866.5 2160.5V2129M866.5 720.5V752M1372.5 2160.5V2129M1372.5 720.5V752" stroke="#000" stroke-width="2.1" fill="none"/>
<path d="M487 2160.5V2144M487 720.5V737M613.5 2160.5V2144M613.5 720.5V737M740 2160.5V2144M740 720.5V737M993 2160.5V2144M993 720.5V737M1119.5 2160.5V2144M1119.5 720.5V737M1246 2160.5V2144M1246 720.5V737M1499 2160.5V2144M1499 720.5V737M1625.5 2160.5V2144M1625.5 720.5V737M1752 2160.5V2144M1752 720.5V737" stroke="#000" stroke-width="2.1" fill="none"/>
<path d="M360.5 355H392M1800.5 355H1769" stroke="#000" stroke-width="2.1" fill="none"/>
<path d="M360.5 551.4H377M1800.5 551.4H1784M360.5 502.3H377M1800.5 502.3H1784M360.5 453.2H377M1800.5 453.2H1784M360.5 404.1H377M1800.5 404.1H1784M360.5 305.9H377M1800.5 305.9H1784M360.5 256.8H377M1800.5 256.8H1784M360.5 207.7H377M1800.5 207.7H1784M360.5 158.6H377M1800.5 158.6H1784" stroke="#000" stroke-width="2.1" fill="none"/>
<path d="M360.5 2013H392M1800.5 2013H1769M360.5 1726.75H392M1800.5 1726.75H1769M360.5 1440.5H392M1800.5 1440.5H1769M360.5 1154.25H392M1800.5 1154.25H1769M360.5 868H392M1800.5 868H1769" stroke="#000" stroke-width="2.1" fill="none"/>
<path d="M360.5 2127.5H377M1800.5 2127.5H1784M360.5 2070.25H377M1800.5 2070.25H1784M360.5 1955.75H377M1800.5 1955.75H1784M360.5 1898.5H377M1800.5 1898.5H1784M360.5 1841.25H377M1800.5 1841.25H1784M360.5 1784H377M1800.5 1784H1784M360.5 1669.5H377M1800.5 1669.5H1784M360.5 1612.25H377M1800.5 1612.25H1784M360.5 1555H377M1800.5 1555H1784M360.5 1497.75H377M1800.5 1497.75H1784M360.5 1383.25H377M1800.5 1383.25H1784M360.5 1326H377M1800.5 1326H1784M360.5 1268.75H377M1800.5 1268.75H1784M360.5 1211.5H377M1800.5 1211.5H1784M360.5 1097H377M1800.5 1097H1784M360.5 1039.75H377M1800.5 1039.75H1784M360.5 982.5H377M1800.5 982.5H1784M360.5 925.25H377M1800.5 925.25H1784M360.5 810.75H377M1800.5 810.75H1784M360.5 753.5H377M1800.5 753.5H1784" stroke="#000" stroke-width="2.1" fill="none"/>
<path d="M1920.5 2013H1952M2489.5 2013H2458M1920.5 1726.75H1952M2489.5 1726.75H2458M1920.5 1440.5H1952M2489.5 1440.5H2458M1920.5 1154.25H1952M2489.5 1154.25H2458M1920.5 868H1952M2489.5 868H2458" stroke="#000" stroke-width="2.1" fill="none"/>
<path d="M1920.5 2127.5H1937M2489.5 2127.5H2473M1920.5 2070.25H1937M2489.5 2070.25H2473M1920.5 1955.75H1937M2489.5 1955.75H2473M1920.5 1898.5H1937M2489.5 1898.5H2473M1920.5 1841.25H1937M2489.5 1841.25H2473M1920.5 1784H1937M2489.5 1784H2473M1920.5 1669.5H1937M2489.5 1669.5H2473M1920.5 1612.25H1937M2489.5 1612.25H2473M1920.5 1555H1937M2489.5 1555H2473M1920.5 1497.75H1937M2489.5 1497.75H2473M1920.5 1383.25H1937M2489.5 1383.25H2473M1920.5 1326H1937M2489.5 1326H2473M1920.5 1268.75H1937M2489.5 1268.75H2473M1920.5 1211.5H1937M2489.5 1211.5H2473M1920.5 1097H1937M2489.5 1097H2473M1920.5 1039.75H1937M2489.5 1039.75H2473M1920.5 982.5H1937M2489.5 982.5H2473M1920.5 925.25H1937M2489.5 925.25H2473M1920.5 810.75H1937M2489.5 810.75H2473M1920.5 753.5H1937M2489.5 753.5H2473" stroke="#000" stroke-width="2.1" fill="none"/>
<path d="M2245.38 2160.5V2129M2245.38 720.5V752" stroke="#000" stroke-width="2.1" fill="none"/>
<path d="M1985.47 2160.5V2144M1985.47 720.5V737M2050.45 2160.5V2144M2050.45 720.5V737M2115.43 2160.5V2144M2115.43 720.5V737M2180.4 2160.5V2144M2180.4 720.5V737M2310.35 2160.5V2144M2310.35 720.5V737M2375.32 2160.5V2144M2375.32 720.5V737M2440.3 2160.5V2144M2440.3 720.5V737" stroke="#000" stroke-width="2.1" fill="none"/>
<path d="M2760.5 1872.5H2727M2760.5 1584.5H2727M2760.5 1296.5H2727M2760.5 1008.5H2727" stroke="#000" stroke-width="2.1" fill="none"/>
<path d="M2760.5 2088.5H2743M2760.5 2016.5H2743M2760.5 1944.5H2743M2760.5 1800.5H2743M2760.5 1728.5H2743M2760.5 1656.5H2743M2760.5 1512.5H2743M2760.5 1440.5H2743M2760.5 1368.5H2743M2760.5 1224.5H2743M2760.5 1152.5H2743M2760.5 1080.5H2743M2760.5 936.5H2743M2760.5 864.5H2743M2760.5 792.5H2743" stroke="#000" stroke-width="2.1" fill="none"/>
<rect x="360.5" y="120.5" width="1440" height="480" fill="none" stroke="#000" stroke-width="3.0"/>
<rect x="360.5" y="720.5" width="1440" height="1440" fill="none" stroke="#000" stroke-width="3.0"/>
<rect x="1920.5" y="720.5" width="569" height="1440" fill="none" stroke="#000" stroke-width="3.0"/>
<rect x="2610.5" y="720.5" width="150" height="1440" fill="none" stroke="#000" stroke-width="3.0"/>
<g font-family="'Liberation Sans', Arial, sans-serif" font-weight="bold" fill="#000">
<text transform="translate(252.25,889.6) scale(0.6340,1)" font-size="85.2">200</text>
<text transform="translate(252.25,1175.85) scale(0.6340,1)" font-size="85.2">100</text>
<text transform="translate(312.75,1462.1) scale(0.6340,1)" font-size="85.2">0</text>
<text transform="translate(202.47,1748.35) scale(0.7320,1)" font-size="85.2">−100</text>
<text transform="translate(202.47,2034.6) scale(0.7320,1)" font-size="85.2">−200</text>
<text transform="translate(252.55,376.8) scale(0.6340,1)" font-size="85.2">250</text>
<text transform="translate(313.85,621.8) scale(0.6340,1)" font-size="85.2">0</text>
<text transform="translate(346.15,2237.3) scale(0.6340,1)" font-size="85.2">0</text>
<text transform="translate(851.65,2237.3) scale(0.6340,1)" font-size="85.2">2</text>
<text transform="translate(1357.11,2237.3) scale(0.6340,1)" font-size="85.2">4</text>
<text transform="translate(1905.65,2236.8) scale(0.6340,1)" font-size="85.2">0</text>
<text transform="translate(2200.54,2236.8) scale(0.6340,1)" font-size="85.2">250</text>
<text transform="translate(2778.62,2182.1) scale(0.6390,1)" font-size="85.2">0.0</text>
<text transform="translate(2778.62,1894.1) scale(0.6390,1)" font-size="85.2">0.2</text>
<text transform="translate(2778.62,1606.1) scale(0.6390,1)" font-size="85.2">0.4</text>
<text transform="translate(2778.62,1318.1) scale(0.6390,1)" font-size="85.2">0.6</text>
<text transform="translate(2778.62,1030.1) scale(0.6390,1)" font-size="85.2">0.8</text>
<text transform="translate(2777.53,742.1) scale(0.6390,1)" font-size="85.2">1.0</text>
<text transform="translate(655.82,2345) scale(0.6279,1)" font-size="108.7">Lateral displacement (nm)</text>
<text transform="translate(2065.4,2345) scale(0.5991,1)" font-size="108.7"># Counts</text>
<text transform="translate(161,1783.36) rotate(-90) scale(0.6261,1)" font-size="108.7">Precession (degrees)</text>
<text transform="translate(209.5,501.31) rotate(-90) scale(0.6017,1)" font-size="108.7"># Counts</text>
<text transform="translate(2930.3,1735.3) rotate(-90) scale(0.6187,1)" font-size="87.8">Normalized Mean Time</text>
<text transform="translate(1916.86,281.6) scale(0.5957,1)" font-size="130.4">PepDF</text>
<text transform="translate(1919.82,432) scale(0.6222,1)" font-size="109">Time window: 200 ns</text>
</g>
<rect x="0" y="2367" width="1.3" height="33" fill="#000"/><rect x="0" y="2398.6" width="33" height="1.4" fill="#000"/>
</svg></body></html>
